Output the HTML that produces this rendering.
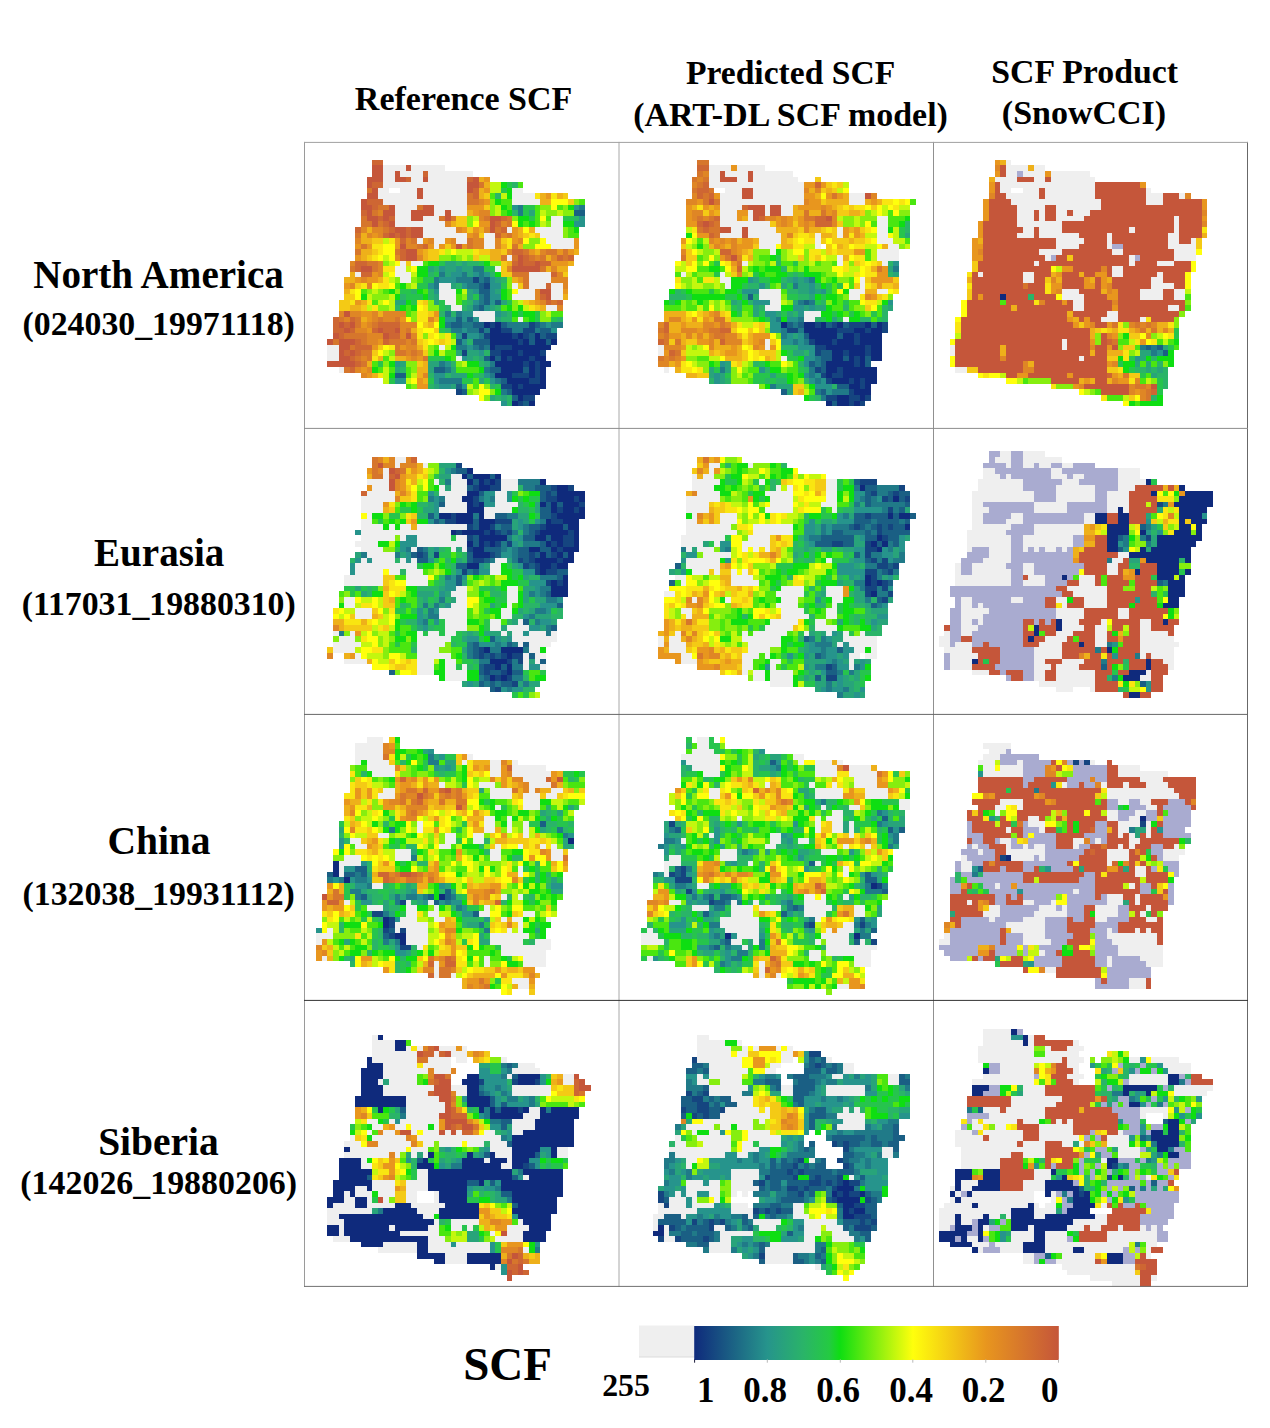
<!DOCTYPE html>
<html><head><meta charset="utf-8"><title>SCF comparison</title>
<style>html,body{margin:0;padding:0;background:#fff}svg{display:block}text{font-family:"Liberation Serif",serif;font-weight:bold;fill:#000}</style></head><body>
<svg width="1270" height="1428" viewBox="0 0 1270 1428">
<defs><linearGradient id="cb" x1="0" x2="1" y1="0" y2="0">
<stop offset="0.00" stop-color="#0f2a7c"/>
<stop offset="0.20" stop-color="#26948c"/>
<stop offset="0.30" stop-color="#2ab468"/>
<stop offset="0.37" stop-color="#24ca42"/>
<stop offset="0.40" stop-color="#0ede12"/>
<stop offset="0.60" stop-color="#ffff0c"/>
<stop offset="0.80" stop-color="#e8961e"/>
<stop offset="1.00" stop-color="#c5563a"/>
</linearGradient></defs>
<rect width="1270" height="1428" fill="#fff"/>
<g shape-rendering="crispEdges">
<g transform="translate(305.0 143.0) scale(5.6)">
<path fill="#ce6633" d="M12 3h2v1h-2zM21 5h1v1h-1zM18 6h1v1h-1zM29 6h1v1h-1zM12 7h2v1h-2zM30 8h1v1h-1zM30 9h1v1h-1zM11 10h3v1h-3zM12 11h1v1h-1zM10 12h1v1h-1zM13 13h1v1h-1zM15 13h1v1h-1zM35 13h1v1h-1zM14 14h1v1h-1zM34 14h1v1h-1zM9 15h1v1h-1zM15 15h1v1h-1zM18 15h1v1h-1zM35 15h1v1h-1zM14 16h1v1h-1zM16 16h1v1h-1zM18 16h1v1h-1zM34 16h1v1h-1zM17 17h1v1h-1zM21 18h1v1h-1zM17 19h1v1h-1zM37 19h2v1h-2zM17 20h1v1h-1zM39 20h1v1h-1zM45 20h1v1h-1zM47 20h1v1h-1zM9 21h2v1h-2zM37 21h1v1h-1zM39 21h2v1h-2zM42 21h2v1h-2zM9 22h1v1h-1zM10 23h2v1h-2zM44 23h1v1h-1zM43 25h1v1h-1zM42 27h1v1h-1zM43 28h1v1h-1zM45 28h1v1h-1zM5 31h1v1h-1zM8 31h1v1h-1zM5 32h1v1h-1zM7 32h1v1h-1zM13 32h4v1h-4zM5 33h2v1h-2zM8 33h1v1h-1zM12 33h1v1h-1zM14 33h2v1h-2zM6 34h1v1h-1zM15 34h2v1h-2zM9 35h1v1h-1zM14 35h1v1h-1zM9 36h3v1h-3zM7 37h1v1h-1zM9 37h1v1h-1zM8 38h1v1h-1zM9 39h1v1h-1zM8 40h1v1h-1z"/>
<path fill="#c5563a" d="M12 4h2v1h-2zM18 4h1v1h-1zM12 5h2v1h-2zM16 5h1v1h-1zM11 6h3v1h-3zM16 6h2v1h-2zM21 6h1v1h-1zM30 6h1v1h-1zM11 7h1v1h-1zM29 7h2v1h-2zM12 8h1v1h-1zM20 8h1v1h-1zM29 8h1v1h-1zM11 9h2v1h-2zM20 9h1v1h-1zM10 10h1v1h-1zM10 11h2v1h-2zM15 11h1v1h-1zM21 11h2v1h-2zM11 12h1v1h-1zM14 12h2v1h-2zM19 12h4v1h-4zM25 12h1v1h-1zM11 13h2v1h-2zM14 13h1v1h-1zM19 13h2v1h-2zM25 13h1v1h-1zM33 13h2v1h-2zM12 14h1v1h-1zM15 14h1v1h-1zM33 14h1v1h-1zM16 15h2v1h-2zM19 15h2v1h-2zM33 15h1v1h-1zM15 16h1v1h-1zM17 16h1v1h-1zM19 16h2v1h-2zM17 18h1v1h-1zM27 18h1v1h-1zM18 19h2v1h-2zM18 20h2v1h-2zM38 20h1v1h-1zM38 21h1v1h-1zM41 21h1v1h-1zM10 22h2v1h-2zM37 22h5v1h-5zM42 26h2v1h-2zM43 27h1v1h-1zM7 30h1v1h-1zM6 32h1v1h-1zM8 32h1v1h-1zM7 33h1v1h-1zM13 33h1v1h-1zM16 33h1v1h-1zM5 34h1v1h-1zM14 34h1v1h-1zM18 34h1v1h-1zM4 35h1v1h-1zM6 35h3v1h-3zM6 36h2v1h-2zM6 37h1v1h-1zM8 37h1v1h-1zM6 38h2v1h-2zM4 39h5v1h-5z"/>
<path fill="#efefef" d="M14 4h4v1h-4zM19 4h6v1h-6zM14 5h2v1h-2zM17 5h4v1h-4zM22 5h8v1h-8zM14 6h2v1h-2zM19 6h2v1h-2zM22 6h7v1h-7zM14 7h15v1h-15zM13 8h2v1h-2zM17 8h3v1h-3zM21 8h8v1h-8zM37 8h2v1h-2zM13 9h7v1h-7zM21 9h8v1h-8zM37 9h4v1h-4zM14 10h15v1h-15zM37 10h5v1h-5zM16 11h4v1h-4zM23 11h6v1h-6zM16 12h3v1h-3zM23 12h2v1h-2zM26 12h3v1h-3zM16 13h3v1h-3zM21 13h3v1h-3zM44 13h2v1h-2zM16 14h9v1h-9zM44 14h2v1h-2zM21 15h6v1h-6zM36 15h1v1h-1zM41 15h5v1h-5zM21 16h8v1h-8zM32 16h2v1h-2zM42 16h4v1h-4zM20 17h1v1h-1zM23 17h2v1h-2zM27 17h2v1h-2zM32 17h2v1h-2zM43 17h5v1h-5zM23 18h1v1h-1zM32 18h2v1h-2zM44 18h4v1h-4zM36 20h1v1h-1zM17 21h1v1h-1zM19 21h2v1h-2zM16 22h2v1h-2zM34 22h1v1h-1zM9 23h1v1h-1zM16 23h3v1h-3zM40 23h4v1h-4zM17 24h2v1h-2zM40 24h4v1h-4zM24 25h2v1h-2zM37 25h1v1h-1zM40 25h3v1h-3zM44 25h2v1h-2zM24 26h3v1h-3zM38 26h3v1h-3zM44 26h2v1h-2zM24 27h3v1h-3zM37 27h4v1h-4zM44 27h2v1h-2zM25 28h2v1h-2zM26 29h2v1h-2zM43 29h2v1h-2zM30 30h4v1h-4zM31 31h3v1h-3zM38 31h1v1h-1zM4 36h2v1h-2zM24 36h1v1h-1zM4 37h2v1h-2zM4 38h2v1h-2zM27 38h1v1h-1zM6 40h1v1h-1z"/>
<path fill="#eeb01a" d="M31 6h1v1h-1zM32 7h1v1h-1zM31 8h1v1h-1zM31 9h1v1h-1zM42 9h1v1h-1zM45 9h1v1h-1zM42 10h2v1h-2zM29 12h1v1h-1zM26 14h1v1h-1zM11 15h1v1h-1zM31 15h1v1h-1zM38 15h1v1h-1zM40 15h1v1h-1zM10 16h1v1h-1zM38 16h1v1h-1zM10 17h2v1h-2zM35 18h1v1h-1zM38 18h1v1h-1zM10 19h2v1h-2zM21 19h1v1h-1zM33 19h2v1h-2zM41 19h1v1h-1zM48 19h1v1h-1zM10 20h1v1h-1zM21 20h1v1h-1zM33 20h2v1h-2zM43 20h1v1h-1zM36 21h1v1h-1zM47 21h1v1h-1zM43 22h1v1h-1zM45 22h2v1h-2zM8 23h1v1h-1zM7 24h2v1h-2zM13 24h1v1h-1zM37 24h1v1h-1zM7 26h1v1h-1zM46 27h1v1h-1zM10 28h1v1h-1zM40 28h1v1h-1zM8 29h2v1h-2zM42 29h1v1h-1zM13 30h1v1h-1zM10 31h1v1h-1zM23 31h1v1h-1zM22 32h1v1h-1zM19 33h1v1h-1zM20 36h1v1h-1zM13 38h1v1h-1zM16 38h2v1h-2zM11 39h1v1h-1zM21 39h1v1h-1zM20 40h2v1h-2zM12 41h1v1h-1zM20 41h1v1h-1zM21 42h1v1h-1z"/>
<path fill="#e8961e" d="M32 6h1v1h-1zM32 8h1v1h-1zM43 9h1v1h-1zM32 10h1v1h-1zM29 11h3v1h-3zM30 12h1v1h-1zM31 14h2v1h-2zM28 15h1v1h-1zM30 15h1v1h-1zM37 15h1v1h-1zM12 16h1v1h-1zM29 16h1v1h-1zM37 16h1v1h-1zM16 17h1v1h-1zM21 17h1v1h-1zM25 17h1v1h-1zM37 17h1v1h-1zM48 17h1v1h-1zM9 18h1v1h-1zM11 18h1v1h-1zM16 18h1v1h-1zM22 18h1v1h-1zM24 18h1v1h-1zM26 18h1v1h-1zM28 18h1v1h-1zM48 18h1v1h-1zM20 19h1v1h-1zM40 19h1v1h-1zM45 19h1v1h-1zM47 19h1v1h-1zM9 20h1v1h-1zM44 21h3v1h-3zM12 23h1v1h-1zM9 24h1v1h-1zM11 24h2v1h-2zM38 24h1v1h-1zM7 25h1v1h-1zM46 26h1v1h-1zM9 28h1v1h-1zM41 28h1v1h-1zM10 30h2v1h-2zM23 30h1v1h-1zM11 31h1v1h-1zM17 31h1v1h-1zM10 32h1v1h-1zM11 33h1v1h-1zM13 35h1v1h-1zM12 36h1v1h-1zM17 36h1v1h-1zM18 38h1v1h-1zM20 38h1v1h-1zM10 40h1v1h-1zM11 41h1v1h-1zM20 42h1v1h-1zM20 43h2v1h-2z"/>
<path fill="#d6762c" d="M31 7h1v1h-1zM11 8h1v1h-1zM29 9h1v1h-1zM29 10h2v1h-2zM13 11h2v1h-2zM20 11h1v1h-1zM12 12h1v1h-1zM10 13h1v1h-1zM24 13h1v1h-1zM26 13h1v1h-1zM32 13h1v1h-1zM36 13h1v1h-1zM10 14h2v1h-2zM13 14h1v1h-1zM36 14h1v1h-1zM14 15h1v1h-1zM34 15h1v1h-1zM9 16h1v1h-1zM36 16h1v1h-1zM19 17h1v1h-1zM29 17h1v1h-1zM10 18h1v1h-1zM20 18h1v1h-1zM29 18h1v1h-1zM37 18h1v1h-1zM9 19h1v1h-1zM16 19h1v1h-1zM39 19h1v1h-1zM43 19h2v1h-2zM46 19h1v1h-1zM35 20h1v1h-1zM37 20h1v1h-1zM40 20h1v1h-1zM42 20h1v1h-1zM46 20h1v1h-1zM11 21h2v1h-2zM8 22h1v1h-1zM12 22h1v1h-1zM42 22h1v1h-1zM37 23h3v1h-3zM39 24h1v1h-1zM39 25h1v1h-1zM44 28h1v1h-1zM6 31h1v1h-1zM9 31h1v1h-1zM13 31h1v1h-1zM16 31h1v1h-1zM9 32h1v1h-1zM12 32h1v1h-1zM18 33h1v1h-1zM7 34h4v1h-4zM5 35h1v1h-1zM10 35h1v1h-1zM15 35h3v1h-3zM19 35h1v1h-1zM8 36h1v1h-1zM16 36h1v1h-1zM10 37h2v1h-2zM16 37h2v1h-2zM19 37h1v1h-1zM9 38h1v1h-1zM11 38h1v1h-1zM21 38h1v1h-1zM10 39h1v1h-1zM7 40h1v1h-1z"/>
<path fill="#c3f70e" d="M33 7h2v1h-2zM33 8h2v1h-2zM35 9h1v1h-1zM34 11h1v1h-1zM34 12h1v1h-1zM42 12h1v1h-1zM45 12h1v1h-1zM30 13h1v1h-1zM42 14h1v1h-1zM14 17h1v1h-1zM25 19h1v1h-1zM27 19h3v1h-3zM14 20h1v1h-1zM28 20h1v1h-1zM31 20h2v1h-2zM15 21h1v1h-1zM18 22h1v1h-1zM14 23h1v1h-1zM19 23h1v1h-1zM15 24h1v1h-1zM19 25h1v1h-1zM12 26h1v1h-1zM28 26h1v1h-1zM11 27h1v1h-1zM15 27h1v1h-1zM13 28h1v1h-1zM15 28h1v1h-1zM38 28h1v1h-1zM11 29h1v1h-1zM15 29h1v1h-1zM39 29h1v1h-1zM43 30h1v1h-1zM24 34h1v1h-1zM26 35h1v1h-1zM25 36h1v1h-1zM14 37h1v1h-1zM24 37h1v1h-1zM15 38h1v1h-1zM28 39h1v1h-1zM14 40h1v1h-1zM14 41h1v1h-1zM19 41h1v1h-1zM14 42h1v1h-1zM18 42h1v1h-1zM29 43h1v1h-1zM30 44h1v1h-1z"/>
<path fill="#0ede12" d="M35 7h1v1h-1zM36 8h1v1h-1zM36 9h1v1h-1zM34 10h1v1h-1zM35 11h1v1h-1zM47 11h1v1h-1zM36 12h1v1h-1zM38 13h2v1h-2zM38 14h1v1h-1zM40 14h1v1h-1zM46 14h2v1h-2zM48 15h1v1h-1zM22 21h2v1h-2zM32 21h1v1h-1zM20 22h2v1h-2zM20 23h2v1h-2zM34 23h1v1h-1zM17 25h1v1h-1zM15 26h1v1h-1zM20 26h1v1h-1zM27 26h1v1h-1zM35 26h1v1h-1zM10 27h1v1h-1zM16 27h1v1h-1zM21 27h1v1h-1zM35 27h1v1h-1zM18 28h1v1h-1zM17 29h1v1h-1zM19 29h1v1h-1zM36 29h1v1h-1zM38 29h1v1h-1zM37 30h1v1h-1zM39 30h2v1h-2zM24 31h1v1h-1zM40 31h1v1h-1zM24 32h1v1h-1zM26 36h1v1h-1zM23 37h1v1h-1zM25 38h1v1h-1zM15 39h1v1h-1zM29 39h2v1h-2zM12 40h1v1h-1zM31 40h1v1h-1zM15 41h1v1h-1zM29 41h1v1h-1zM34 44h1v1h-1z"/>
<path fill="#26c44d" d="M36 7h1v1h-1zM35 8h1v1h-1zM39 11h2v1h-2zM39 12h1v1h-1zM40 13h1v1h-1zM46 13h2v1h-2zM24 21h1v1h-1zM31 21h1v1h-1zM32 22h2v1h-2zM23 23h1v1h-1zM21 24h2v1h-2zM20 25h2v1h-2zM35 25h1v1h-1zM17 26h2v1h-2zM18 27h3v1h-3zM30 27h1v1h-1zM19 28h1v1h-1zM24 28h1v1h-1zM28 28h1v1h-1zM36 28h1v1h-1zM24 29h1v1h-1zM38 30h1v1h-1zM41 30h1v1h-1zM41 31h1v1h-1zM44 31h1v1h-1zM24 33h1v1h-1zM22 38h3v1h-3zM13 39h1v1h-1zM30 41h1v1h-1zM15 42h1v1h-1zM22 42h1v1h-1zM28 42h2v1h-2zM32 42h1v1h-1zM34 43h1v1h-1z"/>
<path fill="#2ab468" d="M37 7h1v1h-1zM34 9h1v1h-1zM37 12h1v1h-1zM48 13h1v1h-1zM27 21h1v1h-1zM29 21h2v1h-2zM23 22h1v1h-1zM22 23h1v1h-1zM33 23h1v1h-1zM35 24h1v1h-1zM27 25h1v1h-1zM19 26h1v1h-1zM22 26h1v1h-1zM17 27h1v1h-1zM22 27h1v1h-1zM29 28h1v1h-1zM16 29h1v1h-1zM25 29h1v1h-1zM28 29h1v1h-1zM34 29h1v1h-1zM24 30h1v1h-1zM26 30h1v1h-1zM36 30h1v1h-1zM35 31h2v1h-2zM45 31h1v1h-1zM25 33h1v1h-1zM29 35h1v1h-1zM32 37h1v1h-1zM30 38h1v1h-1zM26 39h1v1h-1zM31 39h1v1h-1zM17 40h1v1h-1zM22 41h1v1h-1zM25 41h1v1h-1zM31 41h1v1h-1zM22 43h1v1h-1zM33 43h1v1h-1zM34 45h1v1h-1zM36 45h1v1h-1zM36 46h1v1h-1z"/>
<path fill="#4ae610" d="M38 7h1v1h-1zM33 9h1v1h-1zM35 10h2v1h-2zM49 10h1v1h-1zM36 11h1v1h-1zM41 11h1v1h-1zM45 11h1v1h-1zM35 12h1v1h-1zM41 12h1v1h-1zM41 13h1v1h-1zM43 13h1v1h-1zM39 14h1v1h-1zM41 14h1v1h-1zM47 15h1v1h-1zM47 16h2v1h-2zM26 20h1v1h-1zM21 21h1v1h-1zM20 24h1v1h-1zM16 25h1v1h-1zM10 26h1v1h-1zM14 26h1v1h-1zM21 26h1v1h-1zM36 26h1v1h-1zM27 27h1v1h-1zM36 27h1v1h-1zM12 28h1v1h-1zM27 28h1v1h-1zM18 29h1v1h-1zM35 29h1v1h-1zM18 30h1v1h-1zM44 30h2v1h-2zM37 31h1v1h-1zM39 31h1v1h-1zM26 34h1v1h-1zM23 36h1v1h-1zM25 37h2v1h-2zM14 38h1v1h-1zM26 38h1v1h-1zM12 39h1v1h-1zM13 40h1v1h-1zM15 40h1v1h-1zM18 40h1v1h-1zM27 40h4v1h-4zM18 41h1v1h-1zM30 42h1v1h-1zM18 43h1v1h-1zM30 43h1v1h-1z"/>
<path fill="#f4ca15" d="M32 9h1v1h-1zM46 9h1v1h-1zM47 10h1v1h-1zM32 11h1v1h-1zM27 13h2v1h-2zM27 14h2v1h-2zM29 15h1v1h-1zM31 16h1v1h-1zM39 16h1v1h-1zM41 16h1v1h-1zM12 17h2v1h-2zM35 17h1v1h-1zM25 18h1v1h-1zM12 19h1v1h-1zM22 19h2v1h-2zM31 19h2v1h-2zM35 19h1v1h-1zM11 20h1v1h-1zM22 20h2v1h-2zM30 20h1v1h-1zM18 21h1v1h-1zM35 21h1v1h-1zM35 22h1v1h-1zM35 23h2v1h-2zM46 23h1v1h-1zM9 25h1v1h-1zM38 25h1v1h-1zM7 27h2v1h-2zM6 28h2v1h-2zM21 28h1v1h-1zM39 28h1v1h-1zM6 29h2v1h-2zM10 29h1v1h-1zM41 29h1v1h-1zM22 30h1v1h-1zM21 32h1v1h-1zM23 33h1v1h-1zM20 35h1v1h-1zM24 35h1v1h-1zM13 36h1v1h-1zM12 37h1v1h-1zM21 37h1v1h-1zM20 39h1v1h-1z"/>
<path fill="#f9e511" d="M41 9h1v1h-1zM44 9h1v1h-1zM40 16h1v1h-1zM15 17h1v1h-1zM36 17h1v1h-1zM12 18h2v1h-2zM36 18h1v1h-1zM13 19h1v1h-1zM24 19h1v1h-1zM30 19h1v1h-1zM12 20h1v1h-1zM14 22h2v1h-2zM14 24h1v1h-1zM10 25h1v1h-1zM13 25h2v1h-2zM8 26h1v1h-1zM8 28h1v1h-1zM11 28h1v1h-1zM20 28h1v1h-1zM12 29h1v1h-1zM21 29h1v1h-1zM40 29h1v1h-1zM20 30h2v1h-2zM20 31h2v1h-2zM20 33h1v1h-1zM20 34h1v1h-1zM22 34h1v1h-1zM25 34h1v1h-1zM21 35h1v1h-1zM23 35h1v1h-1zM25 35h1v1h-1zM15 36h1v1h-1zM21 36h1v1h-1zM12 38h1v1h-1zM13 41h1v1h-1z"/>
<path fill="#df8625" d="M31 10h1v1h-1zM13 12h1v1h-1zM31 12h2v1h-2zM31 13h1v1h-1zM25 14h1v1h-1zM35 14h1v1h-1zM10 15h1v1h-1zM12 15h2v1h-2zM27 15h1v1h-1zM32 15h1v1h-1zM11 16h1v1h-1zM13 16h1v1h-1zM30 16h1v1h-1zM35 16h1v1h-1zM9 17h1v1h-1zM18 17h1v1h-1zM22 17h1v1h-1zM26 17h1v1h-1zM30 17h2v1h-2zM34 17h1v1h-1zM38 17h1v1h-1zM18 18h2v1h-2zM30 18h2v1h-2zM34 18h1v1h-1zM36 19h1v1h-1zM42 19h1v1h-1zM16 20h1v1h-1zM20 20h1v1h-1zM41 20h1v1h-1zM44 20h1v1h-1zM8 21h1v1h-1zM13 21h1v1h-1zM13 22h1v1h-1zM36 22h1v1h-1zM44 22h1v1h-1zM13 23h1v1h-1zM45 23h1v1h-1zM10 24h1v1h-1zM44 24h3v1h-3zM8 25h1v1h-1zM11 25h1v1h-1zM46 25h1v1h-1zM41 26h1v1h-1zM41 27h1v1h-1zM42 28h1v1h-1zM45 29h1v1h-1zM6 30h1v1h-1zM8 30h2v1h-2zM12 30h1v1h-1zM14 30h4v1h-4zM7 31h1v1h-1zM12 31h1v1h-1zM14 31h2v1h-2zM22 31h1v1h-1zM11 32h1v1h-1zM17 32h3v1h-3zM9 33h2v1h-2zM17 33h1v1h-1zM11 34h3v1h-3zM17 34h1v1h-1zM19 34h1v1h-1zM11 35h2v1h-2zM18 35h1v1h-1zM18 36h2v1h-2zM18 37h1v1h-1zM20 37h1v1h-1zM10 38h1v1h-1zM19 38h1v1h-1zM9 40h1v1h-1zM11 40h1v1h-1zM10 41h1v1h-1zM21 41h1v1h-1z"/>
<path fill="#86ee0f" d="M33 10h1v1h-1zM48 10h1v1h-1zM33 11h1v1h-1zM42 11h2v1h-2zM46 11h1v1h-1zM33 12h1v1h-1zM43 12h2v1h-2zM46 12h2v1h-2zM29 13h1v1h-1zM37 13h1v1h-1zM29 14h1v1h-1zM43 14h1v1h-1zM46 15h1v1h-1zM46 16h1v1h-1zM40 17h2v1h-2zM39 18h2v1h-2zM24 20h2v1h-2zM27 20h1v1h-1zM29 20h1v1h-1zM14 21h1v1h-1zM33 21h2v1h-2zM16 24h1v1h-1zM19 24h1v1h-1zM36 24h1v1h-1zM18 25h1v1h-1zM36 25h1v1h-1zM11 26h1v1h-1zM13 26h1v1h-1zM16 26h1v1h-1zM12 27h3v1h-3zM28 27h1v1h-1zM22 28h1v1h-1zM37 28h1v1h-1zM13 29h2v1h-2zM22 29h2v1h-2zM37 29h1v1h-1zM19 30h1v1h-1zM42 30h1v1h-1zM19 31h1v1h-1zM42 31h2v1h-2zM21 34h1v1h-1zM22 36h1v1h-1zM15 37h1v1h-1zM22 37h1v1h-1zM14 39h1v1h-1zM18 39h2v1h-2zM27 39h1v1h-1zM19 40h1v1h-1zM19 43h1v1h-1zM32 43h1v1h-1zM29 44h1v1h-1zM33 44h1v1h-1zM32 45h1v1h-1z"/>
<path fill="#ffff0c" d="M44 10h3v1h-3zM44 11h1v1h-1zM42 13h1v1h-1zM30 14h1v1h-1zM37 14h1v1h-1zM39 15h1v1h-1zM39 17h1v1h-1zM42 17h1v1h-1zM14 18h2v1h-2zM41 18h3v1h-3zM14 19h2v1h-2zM26 19h1v1h-1zM13 20h1v1h-1zM15 20h1v1h-1zM16 21h1v1h-1zM19 22h1v1h-1zM15 23h1v1h-1zM12 25h1v1h-1zM15 25h1v1h-1zM9 26h1v1h-1zM37 26h1v1h-1zM9 27h1v1h-1zM14 28h1v1h-1zM20 29h1v1h-1zM18 31h1v1h-1zM20 32h1v1h-1zM23 32h1v1h-1zM21 33h2v1h-2zM23 34h1v1h-1zM22 35h1v1h-1zM14 36h1v1h-1zM13 37h1v1h-1zM19 42h1v1h-1zM31 43h1v1h-1zM31 44h2v1h-2zM31 45h1v1h-1z"/>
<path fill="#26948c" d="M37 11h1v1h-1zM48 11h1v1h-1zM49 13h1v1h-1zM48 14h2v1h-2zM24 22h1v1h-1zM27 22h1v1h-1zM26 23h2v1h-2zM30 23h1v1h-1zM32 23h1v1h-1zM24 24h3v1h-3zM33 24h1v1h-1zM22 25h1v1h-1zM28 25h1v1h-1zM33 25h2v1h-2zM23 26h1v1h-1zM30 26h1v1h-1zM33 26h1v1h-1zM33 27h2v1h-2zM30 28h1v1h-1zM33 28h1v1h-1zM32 29h1v1h-1zM28 30h2v1h-2zM34 30h1v1h-1zM25 31h2v1h-2zM28 31h1v1h-1zM30 31h1v1h-1zM43 32h1v1h-1zM28 33h1v1h-1zM44 33h1v1h-1zM27 34h1v1h-1zM29 34h2v1h-2zM28 35h1v1h-1zM29 36h1v1h-1zM31 37h1v1h-1zM28 38h1v1h-1zM16 39h1v1h-1zM25 39h1v1h-1zM23 41h2v1h-2zM32 41h1v1h-1zM16 42h2v1h-2zM23 42h1v1h-1zM33 42h1v1h-1zM24 43h2v1h-2zM28 43h1v1h-1zM35 46h1v1h-1z"/>
<path fill="#207a88" d="M38 11h1v1h-1zM49 11h1v1h-1zM38 12h1v1h-1zM30 22h2v1h-2zM24 23h1v1h-1zM28 23h1v1h-1zM31 23h1v1h-1zM23 24h1v1h-1zM27 24h3v1h-3zM31 24h1v1h-1zM23 25h1v1h-1zM29 25h2v1h-2zM31 27h1v1h-1zM31 28h1v1h-1zM30 29h1v1h-1zM25 30h1v1h-1zM27 30h1v1h-1zM25 32h1v1h-1zM28 32h2v1h-2zM36 32h4v1h-4zM42 32h1v1h-1zM44 32h2v1h-2zM26 33h2v1h-2zM29 33h2v1h-2zM32 33h1v1h-1zM37 33h2v1h-2zM41 33h1v1h-1zM31 34h1v1h-1zM27 36h2v1h-2zM30 36h1v1h-1zM32 36h1v1h-1zM24 39h1v1h-1zM33 39h1v1h-1zM25 40h1v1h-1zM32 40h1v1h-1zM33 41h1v1h-1zM24 42h4v1h-4zM34 42h1v1h-1zM35 44h1v1h-1z"/>
<path fill="#28a47a" d="M40 12h1v1h-1zM25 21h2v1h-2zM28 21h1v1h-1zM22 22h1v1h-1zM25 22h2v1h-2zM28 22h2v1h-2zM25 23h1v1h-1zM29 23h1v1h-1zM34 24h1v1h-1zM26 25h1v1h-1zM29 26h1v1h-1zM34 26h1v1h-1zM23 27h1v1h-1zM29 27h1v1h-1zM16 28h2v1h-2zM23 28h1v1h-1zM35 28h1v1h-1zM29 29h1v1h-1zM33 29h1v1h-1zM35 30h1v1h-1zM34 31h1v1h-1zM27 37h1v1h-1zM29 37h2v1h-2zM29 38h1v1h-1zM31 38h1v1h-1zM17 39h1v1h-1zM22 39h2v1h-2zM32 39h1v1h-1zM16 40h1v1h-1zM22 40h1v1h-1zM26 40h1v1h-1zM26 41h3v1h-3zM31 42h1v1h-1zM23 43h1v1h-1zM26 43h1v1h-1zM33 45h1v1h-1zM35 45h1v1h-1z"/>
<path fill="#1a5f84" d="M48 12h2v1h-2zM32 24h1v1h-1zM31 25h1v1h-1zM31 26h2v1h-2zM32 27h1v1h-1zM32 28h1v1h-1zM34 28h1v1h-1zM31 29h1v1h-1zM27 31h1v1h-1zM29 31h1v1h-1zM26 32h2v1h-2zM30 32h2v1h-2zM35 32h1v1h-1zM41 32h1v1h-1zM42 33h2v1h-2zM40 34h1v1h-1zM42 34h1v1h-1zM27 35h1v1h-1zM30 35h3v1h-3zM40 35h1v1h-1zM43 35h1v1h-1zM31 36h1v1h-1zM32 38h1v1h-1zM34 38h1v1h-1zM23 40h2v1h-2zM33 40h2v1h-2zM39 40h1v1h-1zM16 41h2v1h-2zM35 42h1v1h-1zM27 43h1v1h-1zM28 44h1v1h-1zM36 44h1v1h-1zM37 45h1v1h-1zM39 46h1v1h-1z"/>
<path fill="#154580" d="M30 24h1v1h-1zM32 25h1v1h-1zM33 32h1v1h-1zM40 32h1v1h-1zM31 33h1v1h-1zM35 33h2v1h-2zM39 33h2v1h-2zM28 34h1v1h-1zM32 34h1v1h-1zM37 34h1v1h-1zM39 34h1v1h-1zM43 34h2v1h-2zM38 35h1v1h-1zM34 36h3v1h-3zM28 37h1v1h-1zM33 37h2v1h-2zM38 37h1v1h-1zM42 37h1v1h-1zM36 38h1v1h-1zM40 38h1v1h-1zM39 39h1v1h-1zM41 39h1v1h-1zM41 40h1v1h-1zM37 41h3v1h-3zM41 41h1v1h-1zM40 42h2v1h-2zM35 43h2v1h-2zM38 43h1v1h-1zM27 44h1v1h-1zM39 45h2v1h-2zM38 46h1v1h-1z"/>
<path fill="#0f2a7c" d="M32 32h1v1h-1zM34 32h1v1h-1zM33 33h2v1h-2zM33 34h4v1h-4zM38 34h1v1h-1zM41 34h1v1h-1zM33 35h5v1h-5zM39 35h1v1h-1zM41 35h2v1h-2zM44 35h1v1h-1zM33 36h1v1h-1zM37 36h7v1h-7zM35 37h3v1h-3zM39 37h3v1h-3zM33 38h1v1h-1zM35 38h1v1h-1zM37 38h3v1h-3zM41 38h2v1h-2zM34 39h5v1h-5zM40 39h1v1h-1zM42 39h2v1h-2zM35 40h4v1h-4zM40 40h1v1h-1zM42 40h1v1h-1zM34 41h3v1h-3zM40 41h1v1h-1zM42 41h1v1h-1zM36 42h4v1h-4zM42 42h1v1h-1zM37 43h1v1h-1zM39 43h4v1h-4zM37 44h5v1h-5zM38 45h1v1h-1zM37 46h1v1h-1zM40 46h1v1h-1z"/>
</g>
<g transform="translate(619.0 143.0) scale(5.6)">
<path fill="#d6762c" d="M14 3h2v1h-2zM14 5h1v1h-1zM13 6h1v1h-1zM15 6h1v1h-1zM14 7h1v1h-1zM13 8h1v1h-1zM16 8h1v1h-1zM15 9h1v1h-1zM38 9h1v1h-1zM15 10h1v1h-1zM17 10h1v1h-1zM33 12h1v1h-1zM36 12h1v1h-1zM14 13h1v1h-1zM16 13h1v1h-1zM33 13h2v1h-2zM17 14h1v1h-1zM14 15h1v1h-1zM16 15h2v1h-2zM17 16h1v1h-1zM11 20h1v1h-1zM19 20h1v1h-1zM21 21h1v1h-1zM46 22h1v1h-1zM17 31h2v1h-2zM18 32h1v1h-1zM7 33h1v1h-1zM16 33h2v1h-2zM8 34h1v1h-1zM17 34h2v1h-2zM8 35h1v1h-1zM10 35h1v1h-1zM10 37h1v1h-1zM7 38h1v1h-1zM9 38h1v1h-1z"/>
<path fill="#ce6633" d="M14 4h2v1h-2zM15 7h1v1h-1zM35 7h1v1h-1zM14 8h2v1h-2zM14 9h1v1h-1zM16 9h1v1h-1zM22 11h1v1h-1zM17 13h1v1h-1zM25 13h1v1h-1zM35 13h2v1h-2zM14 14h1v1h-1zM16 14h1v1h-1zM35 14h3v1h-3zM15 15h1v1h-1zM16 16h1v1h-1zM18 19h2v1h-2zM21 22h1v1h-1zM8 32h1v1h-1zM8 33h1v1h-1zM18 33h2v1h-2zM7 35h1v1h-1zM18 35h1v1h-1zM9 37h1v1h-1z"/>
<path fill="#efefef" d="M16 4h4v1h-4zM21 4h5v1h-5zM16 5h2v1h-2zM19 5h4v1h-4zM24 5h7v1h-7zM16 6h2v1h-2zM21 6h2v1h-2zM24 6h8v1h-8zM16 7h17v1h-17zM19 8h3v1h-3zM24 8h9v1h-9zM18 9h4v1h-4zM24 9h9v1h-9zM41 9h3v1h-3zM18 10h15v1h-15zM41 10h3v1h-3zM18 11h4v1h-4zM26 11h1v1h-1zM29 11h2v1h-2zM18 12h3v1h-3zM23 12h1v1h-1zM26 12h1v1h-1zM29 12h2v1h-2zM18 13h3v1h-3zM23 13h1v1h-1zM46 13h2v1h-2zM18 14h9v1h-9zM46 14h2v1h-2zM20 15h2v1h-2zM23 15h5v1h-5zM39 15h1v1h-1zM46 15h2v1h-2zM18 16h4v1h-4zM23 16h6v1h-6zM35 16h1v1h-1zM39 16h1v1h-1zM46 16h2v1h-2zM25 17h4v1h-4zM35 17h1v1h-1zM46 17h3v1h-3zM25 18h3v1h-3zM35 18h1v1h-1zM48 18h2v1h-2zM27 19h1v1h-1zM46 19h4v1h-4zM39 20h1v1h-1zM46 20h4v1h-4zM22 21h1v1h-1zM39 21h1v1h-1zM47 21h1v1h-1zM11 23h1v1h-1zM18 23h1v1h-1zM18 24h2v1h-2zM43 24h1v1h-1zM19 25h1v1h-1zM43 25h1v1h-1zM25 26h4v1h-4zM41 26h3v1h-3zM46 26h2v1h-2zM25 27h4v1h-4zM41 27h2v1h-2zM27 28h2v1h-2zM26 29h3v1h-3zM33 30h3v1h-3zM33 31h2v1h-2zM40 31h1v1h-1zM26 35h1v1h-1zM7 36h1v1h-1zM26 36h1v1h-1zM7 37h1v1h-1zM29 38h1v1h-1zM8 40h1v1h-1z"/>
<path fill="#e8961e" d="M20 4h1v1h-1zM33 7h2v1h-2zM36 7h1v1h-1zM17 9h1v1h-1zM33 9h2v1h-2zM37 9h1v1h-1zM39 9h1v1h-1zM14 10h1v1h-1zM34 10h2v1h-2zM45 10h1v1h-1zM12 11h1v1h-1zM15 11h1v1h-1zM17 11h1v1h-1zM32 11h4v1h-4zM37 11h1v1h-1zM12 12h1v1h-1zM16 12h1v1h-1zM21 12h2v1h-2zM37 12h1v1h-1zM12 13h1v1h-1zM21 13h1v1h-1zM28 13h1v1h-1zM30 13h1v1h-1zM32 13h1v1h-1zM12 14h2v1h-2zM28 14h1v1h-1zM30 14h1v1h-1zM32 14h1v1h-1zM34 14h1v1h-1zM40 15h1v1h-1zM42 15h1v1h-1zM14 16h2v1h-2zM40 16h1v1h-1zM42 16h1v1h-1zM11 17h1v1h-1zM17 17h1v1h-1zM19 17h1v1h-1zM22 17h2v1h-2zM18 18h1v1h-1zM21 18h3v1h-3zM21 19h1v1h-1zM42 19h2v1h-2zM18 20h1v1h-1zM20 21h1v1h-1zM47 22h1v1h-1zM46 23h2v1h-2zM45 24h4v1h-4zM46 25h1v1h-1zM45 27h1v1h-1zM16 30h1v1h-1zM13 31h1v1h-1zM15 31h1v1h-1zM11 32h1v1h-1zM17 32h1v1h-1zM14 33h1v1h-1zM9 34h2v1h-2zM24 34h3v1h-3zM14 35h2v1h-2zM24 35h1v1h-1zM11 36h1v1h-1zM20 36h1v1h-1zM25 36h1v1h-1zM27 36h1v1h-1zM8 37h1v1h-1zM19 37h2v1h-2zM11 38h1v1h-1zM10 39h1v1h-1z"/>
<path fill="#df8625" d="M15 5h1v1h-1zM14 6h1v1h-1zM13 7h1v1h-1zM33 8h1v1h-1zM35 8h1v1h-1zM13 9h1v1h-1zM45 9h1v1h-1zM12 10h2v1h-2zM33 10h1v1h-1zM36 11h1v1h-1zM13 12h2v1h-2zM38 12h1v1h-1zM13 13h1v1h-1zM15 13h1v1h-1zM26 13h2v1h-2zM29 13h1v1h-1zM38 13h1v1h-1zM29 14h1v1h-1zM33 14h1v1h-1zM38 14h1v1h-1zM33 15h1v1h-1zM30 16h1v1h-1zM16 17h1v1h-1zM18 17h1v1h-1zM20 17h1v1h-1zM17 18h1v1h-1zM20 18h1v1h-1zM11 19h1v1h-1zM20 19h1v1h-1zM21 20h1v1h-1zM21 23h1v1h-1zM44 27h1v1h-1zM17 30h1v1h-1zM9 31h2v1h-2zM7 32h1v1h-1zM15 32h2v1h-2zM19 32h1v1h-1zM11 33h3v1h-3zM15 33h1v1h-1zM7 34h1v1h-1zM12 34h1v1h-1zM14 34h1v1h-1zM16 34h1v1h-1zM19 34h2v1h-2zM16 35h1v1h-1zM19 35h3v1h-3zM25 35h1v1h-1zM8 36h3v1h-3zM16 36h1v1h-1zM24 36h1v1h-1zM8 38h1v1h-1zM10 38h1v1h-1zM7 39h2v1h-2z"/>
<path fill="#c5563a" d="M18 5h1v1h-1zM23 5h1v1h-1zM18 6h3v1h-3zM23 6h1v1h-1zM22 8h2v1h-2zM22 9h2v1h-2zM44 9h1v1h-1zM16 10h1v1h-1zM23 11h3v1h-3zM27 11h2v1h-2zM24 12h2v1h-2zM27 12h2v1h-2zM24 13h1v1h-1zM37 13h1v1h-1zM15 14h1v1h-1zM18 15h2v1h-2zM22 15h1v1h-1zM22 16h1v1h-1zM20 20h1v1h-1z"/>
<path fill="#f4ca15" d="M35 6h1v1h-1zM37 7h1v1h-1zM39 7h1v1h-1zM36 8h1v1h-1zM38 8h1v1h-1zM36 10h1v1h-1zM39 11h1v1h-1zM41 11h1v1h-1zM45 11h1v1h-1zM15 12h1v1h-1zM39 12h2v1h-2zM43 12h1v1h-1zM27 14h1v1h-1zM31 14h1v1h-1zM39 14h1v1h-1zM32 15h1v1h-1zM36 15h1v1h-1zM38 15h1v1h-1zM43 15h1v1h-1zM31 16h1v1h-1zM34 16h1v1h-1zM38 16h1v1h-1zM30 17h1v1h-1zM36 17h1v1h-1zM38 17h3v1h-3zM42 17h2v1h-2zM11 18h1v1h-1zM24 18h1v1h-1zM37 18h1v1h-1zM40 18h1v1h-1zM12 19h1v1h-1zM23 19h1v1h-1zM37 19h1v1h-1zM39 19h3v1h-3zM12 20h2v1h-2zM32 20h1v1h-1zM35 20h1v1h-1zM12 21h1v1h-1zM42 21h1v1h-1zM46 21h1v1h-1zM20 23h1v1h-1zM44 24h1v1h-1zM49 24h1v1h-1zM42 25h1v1h-1zM45 25h1v1h-1zM47 25h2v1h-2zM46 27h1v1h-1zM44 29h1v1h-1zM14 30h1v1h-1zM18 30h1v1h-1zM12 31h1v1h-1zM19 31h1v1h-1zM25 32h1v1h-1zM20 33h1v1h-1zM23 33h1v1h-1zM25 33h1v1h-1zM9 35h1v1h-1zM12 35h2v1h-2zM22 35h1v1h-1zM27 35h1v1h-1zM11 37h1v1h-1zM17 37h1v1h-1zM22 37h1v1h-1zM25 37h3v1h-3zM22 38h1v1h-1zM27 38h1v1h-1zM21 39h1v1h-1zM14 41h2v1h-2zM31 43h2v1h-2zM31 44h1v1h-1z"/>
<path fill="#f9e511" d="M38 7h1v1h-1zM47 10h2v1h-2zM50 10h1v1h-1zM14 11h1v1h-1zM40 11h1v1h-1zM42 11h2v1h-2zM49 11h1v1h-1zM13 15h1v1h-1zM37 15h1v1h-1zM44 15h1v1h-1zM32 16h2v1h-2zM41 16h1v1h-1zM31 17h1v1h-1zM33 17h2v1h-2zM44 17h1v1h-1zM31 18h2v1h-2zM42 18h2v1h-2zM34 19h2v1h-2zM38 19h1v1h-1zM22 20h1v1h-1zM34 20h1v1h-1zM42 20h2v1h-2zM19 21h1v1h-1zM40 21h1v1h-1zM43 21h1v1h-1zM45 21h1v1h-1zM40 22h1v1h-1zM44 22h1v1h-1zM42 23h1v1h-1zM44 23h2v1h-2zM10 24h1v1h-1zM15 24h2v1h-2zM44 25h1v1h-1zM49 26h1v1h-1zM43 27h1v1h-1zM47 27h1v1h-1zM44 28h2v1h-2zM12 30h1v1h-1zM19 30h1v1h-1zM14 31h1v1h-1zM21 32h1v1h-1zM24 32h1v1h-1zM22 34h1v1h-1zM23 36h1v1h-1zM24 37h1v1h-1zM24 38h1v1h-1zM11 39h1v1h-1zM20 39h1v1h-1zM11 40h2v1h-2zM14 40h1v1h-1z"/>
<path fill="#c3f70e" d="M40 7h1v1h-1zM39 8h1v1h-1zM47 11h1v1h-1zM50 11h2v1h-2zM45 12h1v1h-1zM47 12h1v1h-1zM39 13h1v1h-1zM42 13h1v1h-1zM42 14h1v1h-1zM12 15h1v1h-1zM49 15h1v1h-1zM44 16h2v1h-2zM49 16h1v1h-1zM13 17h1v1h-1zM15 17h1v1h-1zM49 17h2v1h-2zM12 18h1v1h-1zM33 18h2v1h-2zM44 18h2v1h-2zM51 18h1v1h-1zM14 19h1v1h-1zM17 19h1v1h-1zM30 19h1v1h-1zM36 19h1v1h-1zM45 19h1v1h-1zM30 20h2v1h-2zM37 20h2v1h-2zM45 20h1v1h-1zM11 21h1v1h-1zM23 21h1v1h-1zM27 21h1v1h-1zM34 21h1v1h-1zM10 22h2v1h-2zM22 22h1v1h-1zM41 22h2v1h-2zM12 23h1v1h-1zM19 23h1v1h-1zM23 23h1v1h-1zM40 23h2v1h-2zM13 24h1v1h-1zM17 24h1v1h-1zM11 25h1v1h-1zM13 25h2v1h-2zM17 25h1v1h-1zM16 28h1v1h-1zM18 28h1v1h-1zM29 28h1v1h-1zM46 28h1v1h-1zM14 29h1v1h-1zM18 29h1v1h-1zM22 32h2v1h-2zM26 32h1v1h-1zM12 36h1v1h-1zM14 36h1v1h-1zM12 37h4v1h-4zM28 37h1v1h-1zM16 38h2v1h-2zM28 38h1v1h-1zM13 39h1v1h-1zM22 39h1v1h-1zM30 39h1v1h-1zM21 41h1v1h-1zM33 44h1v1h-1z"/>
<path fill="#eeb01a" d="M34 8h1v1h-1zM37 8h1v1h-1zM35 9h1v1h-1zM40 9h1v1h-1zM37 10h4v1h-4zM44 10h1v1h-1zM46 10h1v1h-1zM13 11h1v1h-1zM16 11h1v1h-1zM31 11h1v1h-1zM38 11h1v1h-1zM17 12h1v1h-1zM31 12h2v1h-2zM34 12h2v1h-2zM41 12h2v1h-2zM22 13h1v1h-1zM31 13h1v1h-1zM28 15h4v1h-4zM34 15h2v1h-2zM41 15h1v1h-1zM29 16h1v1h-1zM36 16h2v1h-2zM43 16h1v1h-1zM21 17h1v1h-1zM24 17h1v1h-1zM29 17h1v1h-1zM41 17h1v1h-1zM16 18h1v1h-1zM19 18h1v1h-1zM29 18h2v1h-2zM39 18h1v1h-1zM47 18h1v1h-1zM22 19h1v1h-1zM23 20h1v1h-1zM40 20h1v1h-1zM20 22h1v1h-1zM45 22h1v1h-1zM49 25h1v1h-1zM44 26h2v1h-2zM8 30h4v1h-4zM15 30h1v1h-1zM8 31h1v1h-1zM11 31h1v1h-1zM16 31h1v1h-1zM9 32h2v1h-2zM12 32h3v1h-3zM20 32h1v1h-1zM9 33h2v1h-2zM11 34h1v1h-1zM13 34h1v1h-1zM15 34h1v1h-1zM21 34h1v1h-1zM23 34h1v1h-1zM11 35h1v1h-1zM17 35h1v1h-1zM23 35h1v1h-1zM17 36h3v1h-3zM21 36h1v1h-1zM16 37h1v1h-1zM18 37h1v1h-1zM21 37h1v1h-1zM19 38h3v1h-3zM26 38h1v1h-1zM9 39h1v1h-1zM10 40h1v1h-1zM12 41h2v1h-2zM32 44h1v1h-1z"/>
<path fill="#ffff0c" d="M40 8h1v1h-1zM36 9h1v1h-1zM49 10h1v1h-1zM51 10h1v1h-1zM44 11h1v1h-1zM46 11h1v1h-1zM48 11h1v1h-1zM46 12h1v1h-1zM49 12h1v1h-1zM44 14h1v1h-1zM45 15h1v1h-1zM13 16h1v1h-1zM48 16h1v1h-1zM12 17h1v1h-1zM32 17h1v1h-1zM37 17h1v1h-1zM45 17h1v1h-1zM28 18h1v1h-1zM38 18h1v1h-1zM41 18h1v1h-1zM46 18h1v1h-1zM13 19h1v1h-1zM31 19h2v1h-2zM16 20h1v1h-1zM36 20h1v1h-1zM41 20h1v1h-1zM10 21h1v1h-1zM13 21h1v1h-1zM15 21h1v1h-1zM18 21h1v1h-1zM44 21h1v1h-1zM12 22h2v1h-2zM19 22h1v1h-1zM38 22h2v1h-2zM43 22h1v1h-1zM39 23h1v1h-1zM43 23h1v1h-1zM42 24h1v1h-1zM10 25h1v1h-1zM40 25h1v1h-1zM39 26h1v1h-1zM48 26h1v1h-1zM43 28h1v1h-1zM16 29h1v1h-1zM45 29h1v1h-1zM13 30h1v1h-1zM21 33h2v1h-2zM24 33h1v1h-1zM27 34h1v1h-1zM28 35h1v1h-1zM15 36h1v1h-1zM22 36h1v1h-1zM28 36h1v1h-1zM23 37h1v1h-1zM18 38h1v1h-1zM23 38h1v1h-1zM25 38h1v1h-1zM12 39h1v1h-1zM29 39h1v1h-1zM13 40h1v1h-1zM21 40h1v1h-1z"/>
<path fill="#4ae610" d="M52 10h1v1h-1zM48 12h1v1h-1zM48 13h3v1h-3zM45 14h1v1h-1zM48 14h2v1h-2zM14 17h1v1h-1zM51 17h1v1h-1zM44 19h1v1h-1zM14 20h1v1h-1zM25 20h2v1h-2zM44 20h1v1h-1zM16 21h1v1h-1zM26 21h1v1h-1zM29 21h2v1h-2zM35 21h1v1h-1zM38 21h1v1h-1zM14 22h2v1h-2zM18 22h1v1h-1zM23 22h1v1h-1zM25 22h1v1h-1zM31 22h1v1h-1zM10 23h1v1h-1zM13 23h1v1h-1zM26 23h2v1h-2zM36 23h1v1h-1zM14 24h1v1h-1zM37 24h1v1h-1zM41 24h1v1h-1zM27 25h1v1h-1zM38 25h1v1h-1zM41 25h1v1h-1zM13 26h3v1h-3zM17 26h1v1h-1zM29 26h1v1h-1zM38 26h1v1h-1zM39 27h1v1h-1zM12 28h1v1h-1zM15 28h1v1h-1zM19 28h1v1h-1zM39 28h1v1h-1zM41 28h2v1h-2zM8 29h3v1h-3zM12 29h2v1h-2zM15 29h1v1h-1zM22 29h2v1h-2zM38 29h2v1h-2zM41 29h1v1h-1zM46 29h1v1h-1zM23 30h1v1h-1zM40 30h1v1h-1zM43 30h1v1h-1zM46 30h1v1h-1zM24 31h1v1h-1zM45 31h1v1h-1zM14 38h2v1h-2zM17 39h1v1h-1zM27 39h2v1h-2zM31 39h1v1h-1zM23 40h2v1h-2zM30 40h2v1h-2zM22 41h1v1h-1zM31 41h1v1h-1zM23 42h1v1h-1zM31 42h1v1h-1zM34 44h1v1h-1z"/>
<path fill="#86ee0f" d="M44 12h1v1h-1zM50 12h2v1h-2zM40 13h2v1h-2zM43 13h3v1h-3zM40 14h2v1h-2zM43 14h1v1h-1zM13 18h1v1h-1zM15 18h1v1h-1zM50 18h1v1h-1zM15 19h2v1h-2zM24 19h3v1h-3zM29 19h1v1h-1zM33 19h1v1h-1zM15 20h1v1h-1zM17 20h1v1h-1zM24 20h1v1h-1zM29 20h1v1h-1zM33 20h1v1h-1zM14 21h1v1h-1zM24 21h2v1h-2zM32 21h2v1h-2zM36 21h2v1h-2zM41 21h1v1h-1zM30 22h1v1h-1zM32 22h1v1h-1zM34 22h4v1h-4zM14 23h3v1h-3zM22 23h1v1h-1zM37 23h2v1h-2zM11 24h2v1h-2zM36 24h1v1h-1zM39 24h2v1h-2zM12 25h1v1h-1zM15 25h2v1h-2zM18 25h1v1h-1zM28 25h1v1h-1zM18 26h1v1h-1zM29 27h1v1h-1zM40 27h1v1h-1zM48 27h1v1h-1zM11 28h1v1h-1zM13 28h1v1h-1zM17 28h1v1h-1zM30 28h1v1h-1zM37 28h1v1h-1zM11 29h1v1h-1zM17 29h1v1h-1zM19 29h1v1h-1zM42 29h2v1h-2zM22 30h1v1h-1zM44 30h1v1h-1zM20 31h4v1h-4zM26 33h1v1h-1zM28 34h1v1h-1zM13 36h1v1h-1zM12 38h2v1h-2zM14 39h2v1h-2zM23 39h1v1h-1zM15 40h1v1h-1zM20 40h1v1h-1zM22 40h1v1h-1zM29 40h1v1h-1zM20 41h1v1h-1zM23 41h1v1h-1zM20 42h3v1h-3zM32 42h1v1h-1zM25 43h1v1h-1zM33 43h1v1h-1z"/>
<path fill="#0ede12" d="M51 13h1v1h-1zM50 14h1v1h-1zM48 15h1v1h-1zM12 16h1v1h-1zM14 18h1v1h-1zM28 19h1v1h-1zM27 20h1v1h-1zM16 22h2v1h-2zM24 22h1v1h-1zM26 22h3v1h-3zM33 22h1v1h-1zM25 23h1v1h-1zM28 23h2v1h-2zM33 23h3v1h-3zM20 24h3v1h-3zM27 24h2v1h-2zM35 24h1v1h-1zM38 24h1v1h-1zM20 25h2v1h-2zM36 25h1v1h-1zM9 26h1v1h-1zM12 26h1v1h-1zM19 26h2v1h-2zM40 26h1v1h-1zM13 27h6v1h-6zM21 27h1v1h-1zM35 27h1v1h-1zM37 27h2v1h-2zM8 28h1v1h-1zM10 28h1v1h-1zM14 28h1v1h-1zM22 28h1v1h-1zM38 28h1v1h-1zM47 28h1v1h-1zM29 29h2v1h-2zM37 29h1v1h-1zM20 30h1v1h-1zM36 30h2v1h-2zM39 30h1v1h-1zM42 30h1v1h-1zM25 31h1v1h-1zM29 31h1v1h-1zM37 31h1v1h-1zM41 31h2v1h-2zM29 37h1v1h-1zM32 38h1v1h-1zM16 39h1v1h-1zM26 39h1v1h-1zM27 40h2v1h-2zM30 41h1v1h-1zM32 41h1v1h-1zM30 42h1v1h-1zM26 43h1v1h-1zM34 43h1v1h-1zM33 45h1v1h-1z"/>
<path fill="#2ab468" d="M51 14h1v1h-1zM51 15h1v1h-1zM28 21h1v1h-1zM48 21h1v1h-1zM29 22h1v1h-1zM31 23h1v1h-1zM48 23h1v1h-1zM29 24h1v1h-1zM23 25h2v1h-2zM26 25h1v1h-1zM35 25h1v1h-1zM10 26h1v1h-1zM30 26h2v1h-2zM9 27h3v1h-3zM22 27h1v1h-1zM24 27h1v1h-1zM32 27h2v1h-2zM21 28h1v1h-1zM23 28h1v1h-1zM36 28h1v1h-1zM21 29h1v1h-1zM25 29h1v1h-1zM40 29h1v1h-1zM47 29h1v1h-1zM31 30h1v1h-1zM47 30h1v1h-1zM35 31h1v1h-1zM43 31h2v1h-2zM47 31h1v1h-1zM29 36h3v1h-3zM33 37h1v1h-1zM24 39h1v1h-1zM32 39h1v1h-1zM26 40h1v1h-1zM33 40h1v1h-1zM16 42h1v1h-1zM19 42h1v1h-1zM26 42h1v1h-1zM28 42h2v1h-2zM33 42h1v1h-1zM38 43h1v1h-1zM35 45h1v1h-1z"/>
<path fill="#26c44d" d="M50 15h1v1h-1zM50 16h1v1h-1zM28 20h1v1h-1zM17 21h1v1h-1zM31 21h1v1h-1zM17 23h1v1h-1zM24 23h1v1h-1zM30 23h1v1h-1zM32 23h1v1h-1zM25 24h2v1h-2zM22 25h1v1h-1zM30 25h1v1h-1zM37 25h1v1h-1zM39 25h1v1h-1zM11 26h1v1h-1zM16 26h1v1h-1zM21 26h1v1h-1zM37 26h1v1h-1zM12 27h1v1h-1zM19 27h2v1h-2zM30 27h2v1h-2zM36 27h1v1h-1zM9 28h1v1h-1zM35 28h1v1h-1zM40 28h1v1h-1zM20 29h1v1h-1zM21 30h1v1h-1zM25 30h1v1h-1zM29 30h1v1h-1zM38 30h1v1h-1zM41 30h1v1h-1zM45 30h1v1h-1zM26 31h1v1h-1zM36 31h1v1h-1zM39 31h1v1h-1zM46 31h1v1h-1zM30 37h1v1h-1zM30 38h2v1h-2zM25 39h1v1h-1zM17 40h1v1h-1zM32 40h1v1h-1zM19 41h1v1h-1zM24 41h3v1h-3zM28 41h2v1h-2zM24 42h2v1h-2zM27 42h1v1h-1zM34 45h1v1h-1z"/>
<path fill="#28a47a" d="M51 16h1v1h-1zM48 22h1v1h-1zM49 23h1v1h-1zM24 24h1v1h-1zM30 24h1v1h-1zM32 24h1v1h-1zM29 25h1v1h-1zM32 25h2v1h-2zM32 26h2v1h-2zM35 26h1v1h-1zM34 27h1v1h-1zM20 28h1v1h-1zM31 28h1v1h-1zM24 29h1v1h-1zM33 29h1v1h-1zM35 29h2v1h-2zM48 29h1v1h-1zM24 30h1v1h-1zM28 30h1v1h-1zM30 30h1v1h-1zM38 31h1v1h-1zM31 34h1v1h-1zM31 37h2v1h-2zM19 39h1v1h-1zM16 40h1v1h-1zM19 40h1v1h-1zM16 41h1v1h-1zM18 41h1v1h-1zM27 41h1v1h-1zM18 42h1v1h-1zM28 43h3v1h-3zM30 44h1v1h-1z"/>
<path fill="#26948c" d="M49 21h1v1h-1zM23 24h1v1h-1zM31 24h1v1h-1zM33 24h1v1h-1zM25 25h1v1h-1zM34 25h1v1h-1zM22 26h3v1h-3zM34 26h1v1h-1zM36 26h1v1h-1zM24 28h3v1h-3zM48 28h1v1h-1zM31 29h2v1h-2zM34 29h1v1h-1zM26 30h2v1h-2zM32 30h1v1h-1zM27 31h1v1h-1zM30 31h2v1h-2zM27 32h2v1h-2zM27 33h2v1h-2zM30 34h1v1h-1zM32 34h1v1h-1zM29 35h2v1h-2zM32 35h1v1h-1zM32 36h3v1h-3zM34 37h1v1h-1zM33 38h2v1h-2zM18 39h1v1h-1zM33 39h1v1h-1zM25 40h1v1h-1zM17 41h1v1h-1zM33 41h1v1h-1zM35 41h1v1h-1zM17 42h1v1h-1zM34 42h1v1h-1zM36 42h1v1h-1zM35 43h3v1h-3zM37 44h1v1h-1z"/>
<path fill="#207a88" d="M49 22h1v1h-1zM34 24h1v1h-1zM31 25h1v1h-1zM32 28h1v1h-1zM34 28h1v1h-1zM28 31h1v1h-1zM32 31h1v1h-1zM31 32h1v1h-1zM29 33h1v1h-1zM32 33h1v1h-1zM29 34h1v1h-1zM31 35h1v1h-1zM33 35h1v1h-1zM35 38h1v1h-1zM35 39h1v1h-1zM18 40h1v1h-1zM34 40h1v1h-1zM34 41h1v1h-1zM35 42h1v1h-1zM27 43h1v1h-1zM35 44h1v1h-1zM38 44h3v1h-3zM36 45h1v1h-1z"/>
<path fill="#1a5f84" d="M23 27h1v1h-1zM33 28h1v1h-1zM30 32h1v1h-1zM32 32h1v1h-1zM37 32h1v1h-1zM40 32h1v1h-1zM45 32h1v1h-1zM33 34h1v1h-1zM39 34h1v1h-1zM36 37h2v1h-2zM36 38h2v1h-2zM40 38h1v1h-1zM44 38h1v1h-1zM34 39h1v1h-1zM36 39h1v1h-1zM44 39h1v1h-1zM36 40h1v1h-1zM39 43h2v1h-2zM29 44h1v1h-1zM36 44h1v1h-1zM38 46h1v1h-1z"/>
<path fill="#0f2a7c" d="M29 32h1v1h-1zM33 32h2v1h-2zM36 32h1v1h-1zM39 32h1v1h-1zM44 32h1v1h-1zM46 32h1v1h-1zM33 33h6v1h-6zM42 33h2v1h-2zM45 33h2v1h-2zM34 34h5v1h-5zM40 34h2v1h-2zM43 34h4v1h-4zM35 35h3v1h-3zM39 35h3v1h-3zM43 35h4v1h-4zM37 36h7v1h-7zM45 36h2v1h-2zM38 37h2v1h-2zM41 37h3v1h-3zM45 37h2v1h-2zM38 38h2v1h-2zM41 38h1v1h-1zM43 38h1v1h-1zM45 38h2v1h-2zM37 39h5v1h-5zM43 39h1v1h-1zM37 40h2v1h-2zM40 40h6v1h-6zM37 41h1v1h-1zM40 41h6v1h-6zM38 42h3v1h-3zM42 42h1v1h-1zM44 42h2v1h-2zM41 43h2v1h-2zM44 43h1v1h-1zM42 44h3v1h-3zM39 45h2v1h-2zM43 45h1v1h-1zM37 46h1v1h-1zM39 46h2v1h-2zM42 46h1v1h-1z"/>
<path fill="#154580" d="M35 32h1v1h-1zM38 32h1v1h-1zM41 32h3v1h-3zM47 32h1v1h-1zM30 33h2v1h-2zM39 33h3v1h-3zM44 33h1v1h-1zM47 33h1v1h-1zM42 34h1v1h-1zM34 35h1v1h-1zM38 35h1v1h-1zM42 35h1v1h-1zM35 36h2v1h-2zM44 36h1v1h-1zM35 37h1v1h-1zM40 37h1v1h-1zM44 37h1v1h-1zM42 38h1v1h-1zM42 39h1v1h-1zM35 40h1v1h-1zM39 40h1v1h-1zM36 41h1v1h-1zM38 41h2v1h-2zM37 42h1v1h-1zM41 42h1v1h-1zM43 42h1v1h-1zM43 43h1v1h-1zM41 44h1v1h-1zM37 45h2v1h-2zM41 45h2v1h-2zM44 45h1v1h-1zM41 46h1v1h-1zM43 46h1v1h-1z"/>
</g>
<g transform="translate(933.0 143.0) scale(5.6)">
<path fill="#e8961e" d="M11 3h1v1h-1zM11 5h1v1h-1zM20 5h1v1h-1zM10 7h1v1h-1zM37 7h1v1h-1zM10 8h1v1h-1zM9 10h1v1h-1zM48 10h1v1h-1zM9 11h1v1h-1zM48 11h1v1h-1zM9 12h1v1h-1zM9 13h1v1h-1zM48 13h1v1h-1zM8 14h1v1h-1zM8 15h1v1h-1zM8 16h1v1h-1zM7 17h1v1h-1zM7 18h2v1h-2zM7 19h1v1h-1zM7 20h2v1h-2zM23 22h2v1h-2zM22 23h1v1h-1zM29 23h2v1h-2zM27 24h1v1h-1zM30 24h1v1h-1zM21 25h2v1h-2zM27 25h2v1h-2zM30 25h1v1h-1zM21 26h1v1h-1zM32 26h1v1h-1zM8 27h1v1h-1zM31 27h2v1h-2zM23 28h1v1h-1zM32 29h1v1h-1zM24 31h1v1h-1zM27 31h1v1h-1zM25 32h1v1h-1zM27 32h1v1h-1zM31 32h1v1h-1zM36 33h1v1h-1zM32 34h1v1h-1zM28 35h1v1h-1zM37 35h1v1h-1zM31 36h1v1h-1zM31 39h1v1h-1zM15 41h2v1h-2zM24 41h1v1h-1zM32 41h1v1h-1zM27 42h1v1h-1zM33 42h2v1h-2zM25 43h1v1h-1zM36 44h1v1h-1z"/>
<path fill="#eeb01a" d="M12 3h1v1h-1zM17 4h1v1h-1zM10 6h1v1h-1zM48 16h1v1h-1zM8 17h1v1h-1zM21 23h1v1h-1zM26 23h1v1h-1zM6 24h1v1h-1zM22 24h1v1h-1zM28 24h1v1h-1zM31 24h1v1h-1zM30 26h1v1h-1zM14 29h1v1h-1zM24 30h1v1h-1zM25 31h1v1h-1zM40 32h2v1h-2zM28 33h1v1h-1zM32 33h1v1h-1zM35 33h1v1h-1zM38 33h1v1h-1zM40 33h1v1h-1zM42 33h1v1h-1zM28 34h1v1h-1zM12 36h1v1h-1zM12 37h1v1h-1zM28 37h1v1h-1zM31 37h3v1h-3zM17 39h1v1h-1zM33 41h1v1h-1zM26 42h1v1h-1zM28 42h1v1h-1zM31 42h1v1h-1z"/>
<path fill="#efefef" d="M13 3h1v1h-1zM13 4h4v1h-4zM18 4h2v1h-2zM13 5h2v1h-2zM16 5h4v1h-4zM21 5h7v1h-7zM11 6h4v1h-4zM18 6h2v1h-2zM21 6h8v1h-8zM12 7h17v1h-17zM12 8h2v1h-2zM16 8h3v1h-3zM20 8h9v1h-9zM38 8h1v1h-1zM13 9h6v1h-6zM20 9h9v1h-9zM38 9h3v1h-3zM44 9h1v1h-1zM14 10h16v1h-16zM38 10h3v1h-3zM15 11h5v1h-5zM22 11h8v1h-8zM15 12h3v1h-3zM19 12h1v1h-1zM22 12h2v1h-2zM25 12h3v1h-3zM15 13h3v1h-3zM19 13h1v1h-1zM22 13h5v1h-5zM43 13h1v1h-1zM15 14h8v1h-8zM43 14h1v1h-1zM16 15h2v1h-2zM19 15h4v1h-4zM35 15h1v1h-1zM43 15h1v1h-1zM15 16h3v1h-3zM19 16h7v1h-7zM31 16h1v1h-1zM42 16h2v1h-2zM22 17h5v1h-5zM31 17h1v1h-1zM42 17h2v1h-2zM46 17h1v1h-1zM22 18h4v1h-4zM31 18h1v1h-1zM42 18h5v1h-5zM19 19h4v1h-4zM32 19h2v1h-2zM43 19h4v1h-4zM20 20h1v1h-1zM35 20h1v1h-1zM43 20h4v1h-4zM18 21h1v1h-1zM35 21h1v1h-1zM40 21h3v1h-3zM32 22h2v1h-2zM8 23h1v1h-1zM16 23h2v1h-2zM32 23h2v1h-2zM40 23h1v1h-1zM16 24h2v1h-2zM39 24h2v1h-2zM39 25h4v1h-4zM23 26h3v1h-3zM37 26h4v1h-4zM43 26h2v1h-2zM23 27h4v1h-4zM37 27h4v1h-4zM43 27h2v1h-2zM25 28h2v1h-2zM25 29h2v1h-2zM42 29h2v1h-2zM31 30h2v1h-2zM30 31h3v1h-3zM37 31h1v1h-1zM23 35h1v1h-1zM3 36h1v1h-1zM23 36h1v1h-1zM3 37h1v1h-1zM26 38h1v1h-1zM4 40h2v1h-2z"/>
<path fill="#df8625" d="M11 4h1v1h-1zM10 9h1v1h-1zM45 9h1v1h-1zM48 12h1v1h-1zM48 14h1v1h-1zM8 19h1v1h-1zM30 22h1v1h-1zM21 24h1v1h-1zM31 25h1v1h-1zM22 26h1v1h-1zM31 26h1v1h-1zM19 28h1v1h-1zM32 28h1v1h-1zM28 32h1v1h-1zM35 32h1v1h-1zM37 32h1v1h-1zM39 32h1v1h-1zM41 33h1v1h-1zM31 34h1v1h-1zM38 34h1v1h-1zM28 36h1v1h-1zM12 38h1v1h-1zM16 39h1v1h-1zM32 39h1v1h-1zM16 40h2v1h-2zM32 42h1v1h-1zM36 42h1v1h-1zM26 43h1v1h-1zM35 43h1v1h-1zM38 43h1v1h-1zM35 44h1v1h-1zM37 44h1v1h-1zM37 45h1v1h-1z"/>
<path fill="#c5563a" d="M12 4h1v1h-1zM12 5h1v1h-1zM15 6h3v1h-3zM20 6h1v1h-1zM11 7h1v1h-1zM29 7h8v1h-8zM11 8h1v1h-1zM19 8h1v1h-1zM29 8h9v1h-9zM11 9h2v1h-2zM19 9h1v1h-1zM29 9h9v1h-9zM41 9h3v1h-3zM10 10h4v1h-4zM30 10h8v1h-8zM41 10h7v1h-7zM10 11h5v1h-5zM20 11h2v1h-2zM30 11h18v1h-18zM10 12h5v1h-5zM18 12h1v1h-1zM20 12h2v1h-2zM24 12h1v1h-1zM28 12h20v1h-20zM10 13h5v1h-5zM18 13h1v1h-1zM20 13h2v1h-2zM27 13h16v1h-16zM44 13h4v1h-4zM9 14h6v1h-6zM23 14h20v1h-20zM44 14h4v1h-4zM9 15h7v1h-7zM18 15h1v1h-1zM23 15h12v1h-12zM36 15h7v1h-7zM44 15h4v1h-4zM9 16h6v1h-6zM18 16h1v1h-1zM26 16h5v1h-5zM32 16h10v1h-10zM44 16h4v1h-4zM9 17h13v1h-13zM27 17h4v1h-4zM32 17h10v1h-10zM44 17h2v1h-2zM9 18h13v1h-13zM26 18h5v1h-5zM34 18h8v1h-8zM9 19h10v1h-10zM23 19h9v1h-9zM34 19h9v1h-9zM9 20h11v1h-11zM22 20h2v1h-2zM25 20h10v1h-10zM37 20h6v1h-6zM8 21h10v1h-10zM19 21h16v1h-16zM36 21h4v1h-4zM43 21h3v1h-3zM8 22h13v1h-13zM25 22h5v1h-5zM31 22h1v1h-1zM34 22h12v1h-12zM7 23h1v1h-1zM9 23h7v1h-7zM18 23h3v1h-3zM23 23h3v1h-3zM27 23h2v1h-2zM31 23h1v1h-1zM34 23h6v1h-6zM41 23h4v1h-4zM7 24h9v1h-9zM18 24h2v1h-2zM23 24h4v1h-4zM29 24h1v1h-1zM32 24h7v1h-7zM41 24h4v1h-4zM7 25h9v1h-9zM17 25h3v1h-3zM23 25h4v1h-4zM29 25h1v1h-1zM32 25h7v1h-7zM43 25h2v1h-2zM7 26h13v1h-13zM26 26h4v1h-4zM33 26h4v1h-4zM41 26h2v1h-2zM7 27h1v1h-1zM9 27h3v1h-3zM13 27h4v1h-4zM18 27h4v1h-4zM27 27h4v1h-4zM33 27h4v1h-4zM41 27h2v1h-2zM6 28h6v1h-6zM13 28h5v1h-5zM20 28h3v1h-3zM24 28h1v1h-1zM27 28h5v1h-5zM33 28h12v1h-12zM6 29h8v1h-8zM15 29h10v1h-10zM27 29h5v1h-5zM33 29h9v1h-9zM44 29h1v1h-1zM6 30h18v1h-18zM25 30h6v1h-6zM33 30h11v1h-11zM5 31h19v1h-19zM26 31h1v1h-1zM28 31h2v1h-2zM33 31h4v1h-4zM39 31h4v1h-4zM5 32h20v1h-20zM29 32h2v1h-2zM5 33h23v1h-23zM5 34h23v1h-23zM30 34h1v1h-1zM4 35h19v1h-19zM24 35h4v1h-4zM30 35h1v1h-1zM4 36h8v1h-8zM13 36h10v1h-10zM24 36h4v1h-4zM29 36h2v1h-2zM32 36h1v1h-1zM4 37h8v1h-8zM13 37h15v1h-15zM29 37h2v1h-2zM4 38h8v1h-8zM13 38h13v1h-13zM27 38h4v1h-4zM4 39h12v1h-12zM18 39h13v1h-13zM8 40h8v1h-8zM18 40h13v1h-13zM13 41h2v1h-2zM17 41h7v1h-7zM25 41h6v1h-6zM21 42h5v1h-5zM29 42h2v1h-2zM27 43h8v1h-8zM39 43h1v1h-1zM30 44h5v1h-5z"/>
<path fill="#a9abd0" d="M15 5h1v1h-1zM32 18h2v1h-2zM21 20h1v1h-1zM36 20h1v1h-1z"/>
<path fill="#f9e511" d="M48 15h1v1h-1zM6 23h1v1h-1zM6 25h1v1h-1zM20 25h1v1h-1zM20 26h1v1h-1zM18 28h1v1h-1zM38 31h1v1h-1zM4 32h1v1h-1zM33 32h1v1h-1zM42 32h1v1h-1zM4 33h1v1h-1zM30 33h1v1h-1zM33 33h2v1h-2zM42 34h1v1h-1zM36 35h1v1h-1zM39 35h1v1h-1zM34 37h1v1h-1zM34 38h1v1h-1zM33 40h1v1h-1zM9 41h1v1h-1zM35 42h1v1h-1zM21 43h1v1h-1zM30 45h1v1h-1z"/>
<path fill="#f4ca15" d="M47 17h1v1h-1zM47 18h1v1h-1zM24 20h1v1h-1zM7 21h1v1h-1zM7 22h1v1h-1zM20 24h1v1h-1zM6 26h1v1h-1zM6 27h1v1h-1zM26 32h1v1h-1zM29 33h1v1h-1zM31 33h1v1h-1zM35 34h2v1h-2zM34 36h2v1h-2zM31 38h2v1h-2zM6 40h2v1h-2zM31 40h2v1h-2zM35 41h2v1h-2zM35 45h1v1h-1z"/>
<path fill="#ffff0c" d="M47 19h1v1h-1zM46 21h1v1h-1zM21 22h1v1h-1zM46 22h1v1h-1zM45 23h1v1h-1zM45 24h1v1h-1zM45 25h1v1h-1zM22 27h1v1h-1zM5 28h1v1h-1zM5 29h1v1h-1zM5 30h1v1h-1zM4 31h1v1h-1zM37 34h1v1h-1zM41 34h1v1h-1zM3 35h1v1h-1zM38 35h1v1h-1zM3 38h1v1h-1zM3 39h1v1h-1zM8 41h1v1h-1zM10 41h2v1h-2zM13 42h2v1h-2zM26 44h1v1h-1zM36 45h1v1h-1zM34 46h1v1h-1z"/>
<path fill="#c3f70e" d="M22 22h1v1h-1zM45 26h1v1h-1zM4 34h1v1h-1zM40 34h1v1h-1zM35 35h1v1h-1zM41 35h1v1h-1zM36 37h1v1h-1zM12 41h1v1h-1zM15 42h1v1h-1zM38 42h1v1h-1zM27 44h1v1h-1zM34 45h1v1h-1z"/>
<path fill="#d6762c" d="M16 25h1v1h-1zM32 32h1v1h-1zM36 32h1v1h-1zM38 32h1v1h-1zM37 33h1v1h-1zM39 33h1v1h-1zM32 35h1v1h-1zM34 41h1v1h-1zM36 43h2v1h-2zM38 44h1v1h-1zM38 45h1v1h-1z"/>
<path fill="#0f2a7c" d="M12 27h1v1h-1z"/>
<path fill="#2ab468" d="M17 27h1v1h-1zM39 38h1v1h-1zM40 39h1v1h-1zM36 40h2v1h-2zM39 40h1v1h-1zM41 40h1v1h-1zM40 41h2v1h-2zM41 42h1v1h-1zM41 43h1v1h-1zM39 45h1v1h-1z"/>
<path fill="#4ae610" d="M45 27h1v1h-1zM12 28h1v1h-1zM45 29h1v1h-1zM33 35h2v1h-2zM40 35h1v1h-1zM42 35h1v1h-1zM36 36h1v1h-1zM43 36h1v1h-1zM37 39h1v1h-1zM39 39h1v1h-1zM38 41h1v1h-1zM16 42h1v1h-1zM37 42h1v1h-1zM29 44h1v1h-1zM31 45h3v1h-3zM36 46h1v1h-1z"/>
<path fill="#86ee0f" d="M45 28h1v1h-1zM44 30h1v1h-1zM43 31h1v1h-1zM34 32h1v1h-1zM43 32h1v1h-1zM29 34h1v1h-1zM33 34h1v1h-1zM39 34h1v1h-1zM29 35h1v1h-1zM33 36h1v1h-1zM35 37h1v1h-1zM41 39h1v1h-1zM17 42h4v1h-4zM39 42h1v1h-1zM22 43h3v1h-3zM28 44h1v1h-1z"/>
<path fill="#26c44d" d="M43 33h1v1h-1zM43 34h1v1h-1zM42 36h1v1h-1zM35 38h1v1h-1zM33 39h1v1h-1zM35 40h1v1h-1zM37 41h1v1h-1zM40 42h1v1h-1zM40 43h1v1h-1zM40 44h1v1h-1z"/>
<path fill="#0ede12" d="M34 34h1v1h-1zM43 35h1v1h-1zM42 37h1v1h-1zM33 38h1v1h-1zM38 38h1v1h-1zM40 38h3v1h-3zM34 39h2v1h-2zM42 39h1v1h-1zM34 40h1v1h-1zM40 45h1v1h-1zM35 46h1v1h-1zM37 46h4v1h-4z"/>
<path fill="#ce6633" d="M31 35h1v1h-1zM31 41h1v1h-1zM39 44h1v1h-1z"/>
<path fill="#207a88" d="M37 36h1v1h-1zM39 36h1v1h-1zM39 37h1v1h-1z"/>
<path fill="#1a5f84" d="M38 36h1v1h-1zM40 36h1v1h-1zM41 37h1v1h-1z"/>
<path fill="#28a47a" d="M41 36h1v1h-1zM37 37h2v1h-2zM37 38h1v1h-1zM36 39h1v1h-1zM38 39h1v1h-1zM38 40h1v1h-1zM40 40h1v1h-1zM39 41h1v1h-1z"/>
<path fill="#26948c" d="M40 37h1v1h-1zM36 38h1v1h-1z"/>
</g>
<g transform="translate(305.0 429.0) scale(5.6)">
<path fill="#d6762c" d="M12 5h1v1h-1zM12 6h1v1h-1zM12 7h1v1h-1zM17 7h1v1h-1zM12 8h2v1h-2z"/>
<path fill="#df8625" d="M13 5h1v1h-1zM15 5h1v1h-1zM18 5h1v1h-1zM14 6h2v1h-2zM17 6h3v1h-3zM13 7h1v1h-1zM16 9h1v1h-1zM16 10h1v1h-1zM17 11h1v1h-1zM16 12h1v1h-1zM5 35h1v1h-1zM4 40h1v1h-1z"/>
<path fill="#eeb01a" d="M14 5h1v1h-1zM20 6h1v1h-1zM20 7h1v1h-1zM11 8h1v1h-1zM18 8h2v1h-2zM19 9h1v1h-1zM16 11h1v1h-1zM18 11h1v1h-1zM14 14h1v1h-1zM19 17h1v1h-1zM14 28h1v1h-1zM15 30h1v1h-1zM12 33h1v1h-1zM5 34h2v1h-2zM10 34h1v1h-1zM6 35h1v1h-1zM7 40h1v1h-1zM11 41h1v1h-1z"/>
<path fill="#efefef" d="M16 5h2v1h-2zM16 6h1v1h-1zM21 6h1v1h-1zM14 7h1v1h-1zM14 8h1v1h-1zM26 8h2v1h-2zM11 9h4v1h-4zM23 9h1v1h-1zM26 9h3v1h-3zM35 9h3v1h-3zM12 10h3v1h-3zM24 10h1v1h-1zM26 10h3v1h-3zM35 10h3v1h-3zM11 11h5v1h-5zM24 11h5v1h-5zM34 11h2v1h-2zM10 12h6v1h-6zM25 12h3v1h-3zM34 12h2v1h-2zM10 13h4v1h-4zM25 13h4v1h-4zM34 13h4v1h-4zM10 14h4v1h-4zM24 14h5v1h-5zM32 14h5v1h-5zM11 15h1v1h-1zM32 15h2v1h-2zM10 16h2v1h-2zM10 17h4v1h-4zM15 17h1v1h-1zM17 17h2v1h-2zM20 17h9v1h-9zM10 18h16v1h-16zM10 19h6v1h-6zM17 19h1v1h-1zM20 19h6v1h-6zM27 19h2v1h-2zM9 20h4v1h-4zM20 20h9v1h-9zM10 21h4v1h-4zM19 21h1v1h-1zM26 21h1v1h-1zM28 21h1v1h-1zM11 22h5v1h-5zM10 23h1v1h-1zM12 23h4v1h-4zM17 23h1v1h-1zM19 23h1v1h-1zM34 23h2v1h-2zM9 24h11v1h-11zM33 24h2v1h-2zM9 25h5v1h-5zM15 25h2v1h-2zM18 25h3v1h-3zM33 25h2v1h-2zM7 26h7v1h-7zM18 26h4v1h-4zM7 27h7v1h-7zM18 27h4v1h-4zM27 28h2v1h-2zM36 28h2v1h-2zM26 29h3v1h-3zM36 29h2v1h-2zM7 30h2v1h-2zM27 30h2v1h-2zM36 30h2v1h-2zM7 31h2v1h-2zM26 31h3v1h-3zM36 31h1v1h-1zM9 32h3v1h-3zM24 32h5v1h-5zM35 32h2v1h-2zM9 33h3v1h-3zM24 33h5v1h-5zM35 33h2v1h-2zM25 34h4v1h-4zM33 34h2v1h-2zM38 34h1v1h-1zM25 35h4v1h-4zM33 35h2v1h-2zM36 35h4v1h-4zM5 36h1v1h-1zM8 36h1v1h-1zM20 36h1v1h-1zM22 36h2v1h-2zM25 36h2v1h-2zM35 36h1v1h-1zM37 36h2v1h-2zM40 36h3v1h-3zM44 36h1v1h-1zM6 37h3v1h-3zM20 37h6v1h-6zM37 37h8v1h-8zM5 38h5v1h-5zM20 38h5v1h-5zM38 38h1v1h-1zM40 38h4v1h-4zM5 39h4v1h-4zM20 39h4v1h-4zM40 39h2v1h-2zM9 40h1v1h-1zM20 40h6v1h-6zM39 40h1v1h-1zM41 40h2v1h-2zM7 41h4v1h-4zM20 41h3v1h-3zM25 41h2v1h-2zM39 41h1v1h-1zM41 41h1v1h-1zM20 42h3v1h-3zM25 42h2v1h-2zM28 42h1v1h-1zM39 42h1v1h-1zM42 42h1v1h-1zM20 43h3v1h-3zM25 43h4v1h-4zM25 44h4v1h-4z"/>
<path fill="#ce6633" d="M19 5h1v1h-1zM16 7h1v1h-1zM15 8h1v1h-1zM10 11h1v1h-1z"/>
<path fill="#c5563a" d="M13 6h1v1h-1zM15 7h1v1h-1zM16 8h1v1h-1zM15 9h1v1h-1zM15 10h1v1h-1z"/>
<path fill="#86ee0f" d="M22 6h2v1h-2zM23 7h1v1h-1zM22 8h1v1h-1zM20 10h1v1h-1zM38 11h1v1h-1zM21 12h1v1h-1zM16 13h1v1h-1zM14 15h1v1h-1zM17 15h1v1h-1zM16 19h1v1h-1zM14 21h2v1h-2zM23 24h1v1h-1zM22 25h1v1h-1zM24 25h1v1h-1zM29 26h1v1h-1zM32 26h1v1h-1zM30 27h1v1h-1zM32 27h1v1h-1zM34 27h1v1h-1zM13 28h1v1h-1zM30 28h1v1h-1zM7 29h1v1h-1zM29 29h2v1h-2zM6 30h1v1h-1zM14 32h1v1h-1zM16 33h1v1h-1zM30 33h1v1h-1zM33 33h1v1h-1zM29 35h2v1h-2zM7 36h1v1h-1zM12 36h1v1h-1zM5 37h1v1h-1zM9 37h1v1h-1zM13 37h1v1h-1zM15 37h1v1h-1zM18 37h1v1h-1zM13 38h1v1h-1zM25 38h1v1h-1zM14 39h1v1h-1zM24 39h2v1h-2zM14 40h1v1h-1zM16 43h1v1h-1zM40 47h1v1h-1z"/>
<path fill="#28a47a" d="M24 6h3v1h-3zM24 8h2v1h-2zM25 10h1v1h-1zM22 13h1v1h-1zM41 13h1v1h-1zM21 14h2v1h-2zM41 14h1v1h-1zM38 15h2v1h-2zM37 16h1v1h-1zM39 16h1v1h-1zM37 17h1v1h-1zM37 19h1v1h-1zM38 20h1v1h-1zM22 21h1v1h-1zM27 21h1v1h-1zM9 22h1v1h-1zM17 22h1v1h-1zM22 22h1v1h-1zM27 23h1v1h-1zM36 23h1v1h-1zM32 24h1v1h-1zM37 24h1v1h-1zM39 26h1v1h-1zM28 27h1v1h-1zM9 28h1v1h-1zM24 28h1v1h-1zM39 28h2v1h-2zM10 29h1v1h-1zM20 29h3v1h-3zM25 29h1v1h-1zM39 29h1v1h-1zM21 30h1v1h-1zM26 30h1v1h-1zM39 30h1v1h-1zM41 30h2v1h-2zM24 31h1v1h-1zM33 31h1v1h-1zM38 32h1v1h-1zM40 32h1v1h-1zM21 33h1v1h-1zM41 33h3v1h-3zM37 34h1v1h-1zM44 34h1v1h-1zM20 35h1v1h-1zM35 35h1v1h-1zM42 35h1v1h-1zM29 36h1v1h-1zM32 36h3v1h-3zM36 36h1v1h-1zM28 37h1v1h-1zM35 37h1v1h-1zM28 39h1v1h-1zM40 41h1v1h-1zM28 45h1v1h-1zM30 45h1v1h-1zM38 45h1v1h-1zM40 45h2v1h-2z"/>
<path fill="#154580" d="M27 6h1v1h-1zM32 9h1v1h-1zM34 9h1v1h-1zM30 10h1v1h-1zM33 10h2v1h-2zM44 10h1v1h-1zM47 10h1v1h-1zM43 11h1v1h-1zM30 12h1v1h-1zM43 12h2v1h-2zM48 12h1v1h-1zM30 13h1v1h-1zM49 13h1v1h-1zM45 14h1v1h-1zM48 14h1v1h-1zM26 15h1v1h-1zM44 15h1v1h-1zM25 16h2v1h-2zM34 16h3v1h-3zM44 16h2v1h-2zM29 17h1v1h-1zM33 17h1v1h-1zM42 17h1v1h-1zM27 18h1v1h-1zM32 18h1v1h-1zM34 18h1v1h-1zM36 18h1v1h-1zM41 18h1v1h-1zM47 18h1v1h-1zM29 19h1v1h-1zM46 19h2v1h-2zM32 20h1v1h-1zM34 20h1v1h-1zM36 20h1v1h-1zM44 20h1v1h-1zM46 20h2v1h-2zM29 21h1v1h-1zM45 21h1v1h-1zM20 22h1v1h-1zM23 22h1v1h-1zM33 22h1v1h-1zM40 22h1v1h-1zM44 22h1v1h-1zM30 23h2v1h-2zM38 23h1v1h-1zM40 23h1v1h-1zM45 23h1v1h-1zM39 24h1v1h-1zM41 24h1v1h-1zM44 24h1v1h-1zM28 25h1v1h-1zM41 25h1v1h-1zM43 25h2v1h-2zM43 27h1v1h-1zM45 27h1v1h-1zM31 39h1v1h-1zM31 40h1v1h-1zM33 40h1v1h-1zM35 40h1v1h-1zM37 40h2v1h-2zM36 41h1v1h-1zM38 41h1v1h-1zM32 42h2v1h-2zM32 43h1v1h-1zM35 43h1v1h-1zM34 44h1v1h-1zM36 44h1v1h-1zM37 45h1v1h-1zM34 46h1v1h-1z"/>
<path fill="#e8961e" d="M11 7h1v1h-1zM19 7h1v1h-1zM17 8h1v1h-1zM17 9h1v1h-1zM11 10h1v1h-1zM17 10h1v1h-1zM14 13h1v1h-1zM19 16h1v1h-1zM9 36h1v1h-1zM8 40h1v1h-1z"/>
<path fill="#f4ca15" d="M18 7h1v1h-1zM21 8h1v1h-1zM18 10h1v1h-1zM17 12h2v1h-2zM15 14h1v1h-1zM19 15h1v1h-1zM18 16h1v1h-1zM14 26h2v1h-2zM14 27h1v1h-1zM14 29h1v1h-1zM14 30h1v1h-1zM14 31h2v1h-2zM12 32h1v1h-1zM8 33h1v1h-1zM13 33h1v1h-1zM7 35h5v1h-5zM14 35h1v1h-1zM4 39h1v1h-1zM15 41h1v1h-1zM18 41h1v1h-1zM16 42h2v1h-2z"/>
<path fill="#f9e511" d="M21 7h1v1h-1zM20 8h1v1h-1zM18 9h1v1h-1zM19 11h1v1h-1zM19 12h1v1h-1zM15 13h1v1h-1zM18 15h1v1h-1zM15 27h1v1h-1zM15 28h3v1h-3zM16 29h1v1h-1zM10 31h2v1h-2zM5 32h1v1h-1zM15 32h1v1h-1zM7 34h3v1h-3zM11 34h1v1h-1zM13 35h1v1h-1zM10 37h1v1h-1zM12 39h2v1h-2zM17 41h1v1h-1zM19 41h1v1h-1zM15 42h1v1h-1zM18 42h2v1h-2zM19 43h1v1h-1z"/>
<path fill="#c3f70e" d="M22 7h1v1h-1zM20 9h1v1h-1zM15 20h1v1h-1zM23 25h1v1h-1zM34 26h2v1h-2zM31 27h1v1h-1zM29 28h1v1h-1zM17 29h1v1h-1zM10 30h2v1h-2zM13 30h1v1h-1zM9 31h1v1h-1zM13 31h1v1h-1zM30 31h1v1h-1zM7 32h2v1h-2zM30 32h1v1h-1zM6 33h1v1h-1zM14 33h1v1h-1zM13 34h2v1h-2zM12 35h1v1h-1zM15 35h1v1h-1zM10 36h1v1h-1zM13 36h2v1h-2zM14 37h1v1h-1zM10 38h2v1h-2zM14 38h1v1h-1zM9 39h1v1h-1zM11 40h3v1h-3zM17 40h1v1h-1zM13 41h2v1h-2zM23 41h1v1h-1zM41 47h1v1h-1z"/>
<path fill="#2ab468" d="M24 7h1v1h-1zM24 9h1v1h-1zM38 10h1v1h-1zM23 11h1v1h-1zM20 13h2v1h-2zM38 13h1v1h-1zM38 14h2v1h-2zM20 15h2v1h-2zM38 18h1v1h-1zM24 21h1v1h-1zM28 22h1v1h-1zM8 23h1v1h-1zM16 23h1v1h-1zM25 23h1v1h-1zM28 23h1v1h-1zM26 24h1v1h-1zM17 25h1v1h-1zM26 25h1v1h-1zM24 26h1v1h-1zM40 26h2v1h-2zM24 27h1v1h-1zM11 28h1v1h-1zM20 28h4v1h-4zM33 28h1v1h-1zM11 29h1v1h-1zM33 29h2v1h-2zM20 30h1v1h-1zM23 30h1v1h-1zM25 30h1v1h-1zM17 31h1v1h-1zM20 31h1v1h-1zM22 31h1v1h-1zM39 31h3v1h-3zM21 32h1v1h-1zM39 32h1v1h-1zM45 32h1v1h-1zM37 33h2v1h-2zM44 33h2v1h-2zM18 34h2v1h-2zM36 34h1v1h-1zM40 34h1v1h-1zM22 35h1v1h-1zM28 36h1v1h-1zM30 36h1v1h-1zM26 38h1v1h-1zM19 39h1v1h-1zM28 40h1v1h-1zM30 41h1v1h-1zM29 42h1v1h-1zM39 44h1v1h-1zM39 46h2v1h-2z"/>
<path fill="#26948c" d="M25 7h1v1h-1zM22 11h1v1h-1zM32 11h2v1h-2zM36 11h1v1h-1zM23 12h1v1h-1zM32 12h1v1h-1zM36 12h1v1h-1zM23 13h1v1h-1zM32 13h2v1h-2zM23 14h1v1h-1zM23 15h1v1h-1zM22 16h1v1h-1zM38 16h1v1h-1zM41 16h1v1h-1zM38 17h1v1h-1zM9 18h1v1h-1zM18 19h2v1h-2zM38 19h1v1h-1zM17 20h3v1h-3zM37 20h1v1h-1zM17 21h1v1h-1zM23 21h1v1h-1zM36 21h1v1h-1zM18 22h1v1h-1zM35 22h2v1h-2zM9 23h1v1h-1zM11 23h1v1h-1zM18 23h1v1h-1zM22 23h1v1h-1zM8 24h1v1h-1zM31 24h1v1h-1zM38 24h1v1h-1zM8 25h1v1h-1zM27 25h1v1h-1zM31 25h2v1h-2zM39 25h2v1h-2zM26 26h1v1h-1zM28 26h1v1h-1zM25 27h2v1h-2zM40 27h3v1h-3zM25 28h2v1h-2zM41 28h1v1h-1zM24 29h1v1h-1zM41 29h1v1h-1zM45 30h1v1h-1zM25 31h1v1h-1zM42 31h3v1h-3zM20 32h1v1h-1zM23 32h1v1h-1zM43 32h1v1h-1zM20 33h1v1h-1zM39 33h1v1h-1zM20 34h1v1h-1zM23 34h1v1h-1zM42 34h2v1h-2zM21 35h1v1h-1zM40 35h2v1h-2zM39 36h1v1h-1zM29 37h2v1h-2zM34 37h1v1h-1zM36 37h1v1h-1zM31 38h3v1h-3zM35 38h1v1h-1zM40 42h2v1h-2zM29 45h1v1h-1zM35 46h1v1h-1zM37 46h2v1h-2z"/>
<path fill="#207a88" d="M26 7h1v1h-1zM25 9h1v1h-1zM38 9h4v1h-4zM39 10h2v1h-2zM22 12h1v1h-1zM24 12h1v1h-1zM31 12h1v1h-1zM33 12h1v1h-1zM30 15h1v1h-1zM36 15h2v1h-2zM24 16h1v1h-1zM42 16h1v1h-1zM34 17h1v1h-1zM39 17h1v1h-1zM37 18h1v1h-1zM39 18h1v1h-1zM36 19h1v1h-1zM35 20h1v1h-1zM39 20h3v1h-3zM18 21h1v1h-1zM21 21h1v1h-1zM35 21h1v1h-1zM37 21h1v1h-1zM10 22h1v1h-1zM16 22h1v1h-1zM37 22h1v1h-1zM33 23h1v1h-1zM37 23h1v1h-1zM29 25h1v1h-1zM25 26h1v1h-1zM42 26h3v1h-3zM42 28h2v1h-2zM40 29h1v1h-1zM42 29h1v1h-1zM24 30h1v1h-1zM43 30h2v1h-2zM21 31h1v1h-1zM23 31h1v1h-1zM22 32h1v1h-1zM41 32h2v1h-2zM22 33h2v1h-2zM40 33h1v1h-1zM21 34h1v1h-1zM41 34h1v1h-1zM43 35h1v1h-1zM6 36h1v1h-1zM43 36h1v1h-1zM29 38h1v1h-1zM34 38h1v1h-1zM37 38h1v1h-1zM29 39h1v1h-1zM33 39h2v1h-2zM39 39h1v1h-1zM29 40h1v1h-1zM31 41h2v1h-2zM37 41h1v1h-1zM37 42h2v1h-2zM31 44h1v1h-1zM37 44h2v1h-2zM32 45h1v1h-1zM34 45h1v1h-1zM39 45h1v1h-1zM36 46h1v1h-1z"/>
<path fill="#1a5f84" d="M27 7h2v1h-2zM29 8h1v1h-1zM33 8h1v1h-1zM30 9h1v1h-1zM29 10h1v1h-1zM41 10h3v1h-3zM31 11h1v1h-1zM42 11h1v1h-1zM44 11h1v1h-1zM42 12h1v1h-1zM24 13h1v1h-1zM43 13h1v1h-1zM45 13h1v1h-1zM42 14h2v1h-2zM22 15h1v1h-1zM34 15h2v1h-2zM42 15h2v1h-2zM23 16h1v1h-1zM30 16h1v1h-1zM30 17h1v1h-1zM35 17h2v1h-2zM40 17h2v1h-2zM46 17h1v1h-1zM35 18h1v1h-1zM40 18h1v1h-1zM30 19h1v1h-1zM39 19h2v1h-2zM43 19h1v1h-1zM30 20h1v1h-1zM42 20h1v1h-1zM20 21h1v1h-1zM32 21h3v1h-3zM38 21h2v1h-2zM42 21h2v1h-2zM19 22h1v1h-1zM21 22h1v1h-1zM29 22h1v1h-1zM34 22h1v1h-1zM38 22h2v1h-2zM41 22h1v1h-1zM43 22h1v1h-1zM46 22h1v1h-1zM20 23h2v1h-2zM29 23h1v1h-1zM32 23h1v1h-1zM39 23h1v1h-1zM27 24h2v1h-2zM40 24h1v1h-1zM30 25h1v1h-1zM45 25h2v1h-2zM27 26h1v1h-1zM45 26h1v1h-1zM27 27h1v1h-1zM43 29h1v1h-1zM45 31h1v1h-1zM39 34h1v1h-1zM44 35h1v1h-1zM33 37h1v1h-1zM30 38h1v1h-1zM36 38h1v1h-1zM39 38h1v1h-1zM30 39h1v1h-1zM30 40h1v1h-1zM32 40h1v1h-1zM34 40h1v1h-1zM40 40h1v1h-1zM42 41h1v1h-1zM31 42h1v1h-1zM35 42h1v1h-1zM15 43h1v1h-1zM31 43h1v1h-1zM33 43h2v1h-2zM37 43h2v1h-2zM32 44h1v1h-1zM31 45h1v1h-1zM33 45h1v1h-1zM35 45h2v1h-2zM33 46h1v1h-1z"/>
<path fill="#0f2a7c" d="M29 7h1v1h-1zM28 8h1v1h-1zM30 8h3v1h-3zM34 8h1v1h-1zM29 9h1v1h-1zM31 9h1v1h-1zM33 9h1v1h-1zM42 9h1v1h-1zM31 10h2v1h-2zM45 10h2v1h-2zM29 11h2v1h-2zM45 11h5v1h-5zM28 12h2v1h-2zM45 12h3v1h-3zM49 12h1v1h-1zM29 13h1v1h-1zM31 13h1v1h-1zM42 13h1v1h-1zM44 13h1v1h-1zM46 13h3v1h-3zM29 14h3v1h-3zM44 14h1v1h-1zM46 14h2v1h-2zM49 14h1v1h-1zM24 15h2v1h-2zM27 15h3v1h-3zM31 15h1v1h-1zM45 15h5v1h-5zM27 16h3v1h-3zM31 16h3v1h-3zM43 16h1v1h-1zM46 16h3v1h-3zM31 17h2v1h-2zM43 17h3v1h-3zM47 17h2v1h-2zM26 18h1v1h-1zM28 18h4v1h-4zM33 18h1v1h-1zM42 18h5v1h-5zM48 18h1v1h-1zM31 19h5v1h-5zM41 19h2v1h-2zM44 19h2v1h-2zM48 19h1v1h-1zM29 20h1v1h-1zM31 20h1v1h-1zM33 20h1v1h-1zM43 20h1v1h-1zM45 20h1v1h-1zM48 20h1v1h-1zM30 21h2v1h-2zM40 21h2v1h-2zM44 21h1v1h-1zM46 21h3v1h-3zM30 22h3v1h-3zM42 22h1v1h-1zM45 22h1v1h-1zM47 22h1v1h-1zM41 23h4v1h-4zM46 23h2v1h-2zM29 24h2v1h-2zM42 24h2v1h-2zM45 24h2v1h-2zM42 25h1v1h-1zM46 26h1v1h-1zM44 27h1v1h-1zM46 27h1v1h-1zM44 28h3v1h-3zM44 29h3v1h-3zM32 39h1v1h-1zM35 39h4v1h-4zM36 40h1v1h-1zM33 41h3v1h-3zM34 42h1v1h-1zM36 42h1v1h-1zM36 43h1v1h-1zM33 44h1v1h-1zM35 44h1v1h-1z"/>
<path fill="#26c44d" d="M23 8h1v1h-1zM37 11h1v1h-1zM38 12h1v1h-1zM40 12h2v1h-2zM39 13h1v1h-1zM17 14h2v1h-2zM20 14h1v1h-1zM40 14h1v1h-1zM15 15h2v1h-2zM41 15h1v1h-1zM13 16h1v1h-1zM40 16h1v1h-1zM26 19h1v1h-1zM16 21h1v1h-1zM25 21h1v1h-1zM24 22h2v1h-2zM27 22h1v1h-1zM23 23h1v1h-1zM20 24h1v1h-1zM25 24h1v1h-1zM36 24h1v1h-1zM37 25h2v1h-2zM37 26h1v1h-1zM23 27h1v1h-1zM38 27h2v1h-2zM7 28h2v1h-2zM10 28h1v1h-1zM12 28h1v1h-1zM31 28h2v1h-2zM34 28h1v1h-1zM8 29h1v1h-1zM23 29h1v1h-1zM35 29h1v1h-1zM22 30h1v1h-1zM34 30h2v1h-2zM40 30h1v1h-1zM18 31h1v1h-1zM34 31h1v1h-1zM16 32h2v1h-2zM19 32h1v1h-1zM32 32h1v1h-1zM44 32h1v1h-1zM17 34h1v1h-1zM22 34h1v1h-1zM24 34h1v1h-1zM32 34h1v1h-1zM19 35h1v1h-1zM23 35h2v1h-2zM32 35h1v1h-1zM16 36h1v1h-1zM21 36h1v1h-1zM24 36h1v1h-1zM27 36h1v1h-1zM26 37h2v1h-2zM31 37h1v1h-1zM16 38h1v1h-1zM19 38h1v1h-1zM27 38h2v1h-2zM28 41h2v1h-2zM27 42h1v1h-1zM30 42h1v1h-1zM39 43h1v1h-1zM42 43h1v1h-1zM37 47h1v1h-1zM39 47h1v1h-1z"/>
<path fill="#ffff0c" d="M21 9h1v1h-1zM19 10h1v1h-1zM21 10h1v1h-1zM10 15h1v1h-1zM14 25h1v1h-1zM22 26h1v1h-1zM16 27h2v1h-2zM15 29h1v1h-1zM9 30h1v1h-1zM12 30h1v1h-1zM29 30h2v1h-2zM12 31h1v1h-1zM29 31h1v1h-1zM6 32h1v1h-1zM13 32h1v1h-1zM5 33h1v1h-1zM7 33h1v1h-1zM15 33h1v1h-1zM12 34h1v1h-1zM15 34h1v1h-1zM11 36h1v1h-1zM11 37h2v1h-2zM12 38h1v1h-1zM10 39h2v1h-2zM10 40h1v1h-1zM15 40h2v1h-2zM12 41h1v1h-1zM16 41h1v1h-1zM12 42h3v1h-3zM17 43h2v1h-2z"/>
<path fill="#4ae610" d="M22 9h1v1h-1zM22 10h1v1h-1zM20 11h2v1h-2zM39 11h1v1h-1zM20 12h1v1h-1zM18 13h1v1h-1zM16 14h1v1h-1zM12 16h1v1h-1zM14 16h1v1h-1zM16 16h1v1h-1zM26 22h1v1h-1zM24 23h1v1h-1zM21 25h1v1h-1zM16 26h2v1h-2zM23 26h1v1h-1zM31 26h1v1h-1zM33 26h1v1h-1zM22 27h1v1h-1zM29 27h1v1h-1zM33 27h1v1h-1zM38 28h1v1h-1zM6 29h1v1h-1zM9 29h1v1h-1zM18 29h1v1h-1zM32 29h1v1h-1zM16 30h1v1h-1zM18 30h2v1h-2zM31 30h1v1h-1zM16 31h1v1h-1zM19 31h1v1h-1zM31 31h2v1h-2zM37 31h1v1h-1zM18 32h1v1h-1zM29 32h1v1h-1zM31 32h1v1h-1zM29 33h1v1h-1zM31 33h2v1h-2zM31 34h1v1h-1zM35 34h1v1h-1zM17 35h2v1h-2zM15 36h1v1h-1zM17 36h1v1h-1zM15 38h1v1h-1zM17 38h2v1h-2zM15 39h4v1h-4zM26 39h2v1h-2zM18 40h2v1h-2zM26 40h1v1h-1zM27 41h1v1h-1zM23 42h1v1h-1zM40 43h2v1h-2zM40 44h1v1h-1zM38 47h1v1h-1z"/>
<path fill="#0ede12" d="M23 10h1v1h-1zM40 11h2v1h-2zM37 12h1v1h-1zM39 12h1v1h-1zM17 13h1v1h-1zM19 13h1v1h-1zM40 13h1v1h-1zM19 14h1v1h-1zM37 14h1v1h-1zM12 15h2v1h-2zM40 15h1v1h-1zM15 16h1v1h-1zM17 16h1v1h-1zM20 16h2v1h-2zM14 17h1v1h-1zM16 17h1v1h-1zM13 20h2v1h-2zM16 20h1v1h-1zM26 23h1v1h-1zM21 24h2v1h-2zM24 24h1v1h-1zM35 24h1v1h-1zM25 25h1v1h-1zM35 25h2v1h-2zM30 26h1v1h-1zM36 26h1v1h-1zM38 26h1v1h-1zM35 27h3v1h-3zM18 28h2v1h-2zM35 28h1v1h-1zM12 29h2v1h-2zM19 29h1v1h-1zM31 29h1v1h-1zM38 29h1v1h-1zM17 30h1v1h-1zM32 30h2v1h-2zM38 30h1v1h-1zM6 31h1v1h-1zM35 31h1v1h-1zM38 31h1v1h-1zM33 32h2v1h-2zM37 32h1v1h-1zM17 33h3v1h-3zM34 33h1v1h-1zM16 34h1v1h-1zM29 34h2v1h-2zM16 35h1v1h-1zM31 35h1v1h-1zM18 36h2v1h-2zM31 36h1v1h-1zM16 37h2v1h-2zM19 37h1v1h-1zM32 37h1v1h-1zM42 39h1v1h-1zM27 40h1v1h-1zM24 41h1v1h-1zM24 42h1v1h-1zM23 43h2v1h-2zM29 43h2v1h-2zM24 44h1v1h-1zM29 44h2v1h-2zM41 44h2v1h-2z"/>
</g>
<g transform="translate(619.0 429.0) scale(5.6)">
<path fill="#eeb01a" d="M14 5h1v1h-1zM16 5h1v1h-1zM15 7h1v1h-1zM14 8h1v1h-1zM12 11h1v1h-1zM35 11h1v1h-1zM16 14h1v1h-1zM15 15h1v1h-1zM28 21h1v1h-1zM25 22h2v1h-2zM28 22h1v1h-1zM27 23h1v1h-1zM18 24h1v1h-1zM18 26h2v1h-2zM19 27h1v1h-1zM15 28h1v1h-1zM21 28h1v1h-1zM13 29h1v1h-1zM18 29h1v1h-1zM23 29h1v1h-1zM15 30h1v1h-1zM20 31h1v1h-1zM14 32h1v1h-1zM13 33h3v1h-3zM9 34h1v1h-1zM11 34h1v1h-1zM13 34h1v1h-1zM9 35h1v1h-1zM11 35h2v1h-2zM7 36h1v1h-1zM8 37h1v1h-1zM11 37h1v1h-1zM13 37h1v1h-1zM12 38h1v1h-1zM15 38h1v1h-1zM8 39h1v1h-1zM18 39h1v1h-1zM19 40h1v1h-1zM15 41h1v1h-1zM18 41h1v1h-1zM20 41h2v1h-2zM18 42h3v1h-3zM21 43h1v1h-1z"/>
<path fill="#d6762c" d="M15 5h1v1h-1zM12 34h1v1h-1zM14 40h1v1h-1z"/>
<path fill="#e8961e" d="M17 5h1v1h-1zM15 6h1v1h-1zM17 7h1v1h-1zM23 12h1v1h-1zM16 15h1v1h-1zM14 16h1v1h-1zM16 16h1v1h-1zM28 19h1v1h-1zM19 24h1v1h-1zM40 28h1v1h-1zM15 29h1v1h-1zM40 29h1v1h-1zM12 31h2v1h-2zM8 34h1v1h-1zM8 35h1v1h-1zM8 36h1v1h-1zM8 38h1v1h-1zM7 39h1v1h-1zM14 39h2v1h-2zM7 40h4v1h-4zM15 40h1v1h-1zM10 41h1v1h-1zM14 41h1v1h-1zM19 41h1v1h-1zM14 42h3v1h-3z"/>
<path fill="#ffff0c" d="M18 5h1v1h-1zM25 7h1v1h-1zM31 7h1v1h-1zM22 8h1v1h-1zM33 8h1v1h-1zM36 8h1v1h-1zM31 9h2v1h-2zM32 10h1v1h-1zM31 11h2v1h-2zM34 11h1v1h-1zM33 12h4v1h-4zM23 13h1v1h-1zM26 13h1v1h-1zM31 13h1v1h-1zM21 14h1v1h-1zM23 14h2v1h-2zM33 14h3v1h-3zM23 15h1v1h-1zM25 15h1v1h-1zM28 15h1v1h-1zM21 16h1v1h-1zM25 16h1v1h-1zM28 16h1v1h-1zM23 17h1v1h-1zM20 19h2v1h-2zM20 20h2v1h-2zM21 21h1v1h-1zM23 21h1v1h-1zM21 22h1v1h-1zM23 23h3v1h-3zM28 23h1v1h-1zM20 24h1v1h-1zM22 24h1v1h-1zM35 24h1v1h-1zM21 25h1v1h-1zM24 25h1v1h-1zM12 26h1v1h-1zM32 26h1v1h-1zM12 27h2v1h-2zM16 27h2v1h-2zM9 28h3v1h-3zM17 28h1v1h-1zM24 28h1v1h-1zM11 29h1v1h-1zM16 29h1v1h-1zM8 30h2v1h-2zM16 30h1v1h-1zM10 31h1v1h-1zM17 31h2v1h-2zM15 32h1v1h-1zM24 32h2v1h-2zM28 32h1v1h-1zM24 33h1v1h-1zM26 33h1v1h-1zM32 35h1v1h-1zM16 36h1v1h-1zM15 37h1v1h-1zM17 37h1v1h-1zM13 40h1v1h-1zM19 43h1v1h-1z"/>
<path fill="#86ee0f" d="M19 5h2v1h-2zM24 6h3v1h-3zM19 7h1v1h-1zM23 7h2v1h-2zM17 8h2v1h-2zM32 8h1v1h-1zM23 9h1v1h-1zM22 10h1v1h-1zM24 10h1v1h-1zM33 10h1v1h-1zM21 11h1v1h-1zM40 11h1v1h-1zM18 12h1v1h-1zM20 12h2v1h-2zM22 13h1v1h-1zM22 15h1v1h-1zM24 15h1v1h-1zM32 15h1v1h-1zM22 16h1v1h-1zM31 16h1v1h-1zM20 17h1v1h-1zM21 18h1v1h-1zM22 19h1v1h-1zM17 21h1v1h-1zM14 22h1v1h-1zM30 22h1v1h-1zM36 22h1v1h-1zM21 23h1v1h-1zM29 23h1v1h-1zM24 24h3v1h-3zM26 25h1v1h-1zM33 25h1v1h-1zM25 26h1v1h-1zM38 26h1v1h-1zM14 27h1v1h-1zM26 27h1v1h-1zM30 27h1v1h-1zM33 27h1v1h-1zM25 28h2v1h-2zM24 29h1v1h-1zM32 30h1v1h-1zM19 31h1v1h-1zM25 31h1v1h-1zM27 31h1v1h-1zM10 32h1v1h-1zM16 32h4v1h-4zM22 32h1v1h-1zM10 33h1v1h-1zM18 33h1v1h-1zM16 34h2v1h-2zM19 34h1v1h-1zM37 34h1v1h-1zM16 35h2v1h-2zM19 35h2v1h-2zM22 35h1v1h-1zM33 35h1v1h-1zM18 36h1v1h-1zM31 36h1v1h-1zM42 36h1v1h-1zM19 38h1v1h-1zM27 39h2v1h-2zM31 43h1v1h-1zM23 44h1v1h-1z"/>
<path fill="#c3f70e" d="M21 5h1v1h-1zM18 7h1v1h-1zM26 7h1v1h-1zM23 8h2v1h-2zM26 8h1v1h-1zM34 8h2v1h-2zM22 9h1v1h-1zM29 10h1v1h-1zM20 11h1v1h-1zM31 12h1v1h-1zM40 12h1v1h-1zM20 13h2v1h-2zM25 13h1v1h-1zM32 13h1v1h-1zM34 13h2v1h-2zM22 14h1v1h-1zM31 14h1v1h-1zM21 15h1v1h-1zM30 15h2v1h-2zM23 16h2v1h-2zM26 16h1v1h-1zM29 16h2v1h-2zM22 18h1v1h-1zM20 21h1v1h-1zM29 21h1v1h-1zM20 22h1v1h-1zM23 22h1v1h-1zM29 22h1v1h-1zM30 23h1v1h-1zM21 24h1v1h-1zM27 24h1v1h-1zM34 24h1v1h-1zM36 24h2v1h-2zM34 25h3v1h-3zM13 26h2v1h-2zM16 26h2v1h-2zM24 26h1v1h-1zM33 26h2v1h-2zM15 27h1v1h-1zM34 27h1v1h-1zM19 29h1v1h-1zM25 29h1v1h-1zM11 30h1v1h-1zM17 30h1v1h-1zM9 32h1v1h-1zM27 32h1v1h-1zM9 33h1v1h-1zM17 33h1v1h-1zM20 36h1v1h-1zM16 37h1v1h-1zM20 37h2v1h-2zM16 38h1v1h-1zM18 38h1v1h-1zM20 38h1v1h-1zM22 38h1v1h-1zM32 42h1v1h-1zM23 43h1v1h-1zM32 45h1v1h-1z"/>
<path fill="#f4ca15" d="M14 6h1v1h-1zM13 7h1v1h-1zM29 9h1v1h-1zM35 9h2v1h-2zM35 10h2v1h-2zM16 13h1v1h-1zM18 13h1v1h-1zM17 14h2v1h-2zM17 15h1v1h-1zM15 16h1v1h-1zM17 16h1v1h-1zM27 19h1v1h-1zM27 20h1v1h-1zM29 20h1v1h-1zM27 21h1v1h-1zM23 24h1v1h-1zM16 25h1v1h-1zM18 25h2v1h-2zM23 25h1v1h-1zM18 27h1v1h-1zM19 28h2v1h-2zM23 28h1v1h-1zM14 29h1v1h-1zM17 29h1v1h-1zM20 29h1v1h-1zM22 30h1v1h-1zM9 31h1v1h-1zM15 31h1v1h-1zM21 31h1v1h-1zM13 32h1v1h-1zM25 33h1v1h-1zM28 33h1v1h-1zM10 35h1v1h-1zM13 35h3v1h-3zM31 35h1v1h-1zM9 36h1v1h-1zM12 36h1v1h-1zM14 36h1v1h-1zM17 36h1v1h-1zM14 37h1v1h-1zM13 38h2v1h-2zM12 39h1v1h-1zM17 39h1v1h-1zM20 39h2v1h-2zM18 40h1v1h-1zM21 40h1v1h-1zM16 41h2v1h-2zM21 42h1v1h-1zM18 43h1v1h-1z"/>
<path fill="#efefef" d="M16 6h2v1h-2zM23 6h1v1h-1zM16 7h1v1h-1zM13 8h1v1h-1zM15 8h2v1h-2zM13 9h5v1h-5zM25 9h1v1h-1zM37 9h2v1h-2zM13 10h4v1h-4zM28 10h1v1h-1zM30 10h1v1h-1zM37 10h2v1h-2zM14 11h4v1h-4zM26 11h5v1h-5zM37 11h2v1h-2zM12 12h6v1h-6zM27 12h4v1h-4zM37 12h2v1h-2zM12 13h4v1h-4zM27 13h4v1h-4zM36 13h3v1h-3zM12 14h4v1h-4zM26 14h5v1h-5zM38 14h1v1h-1zM13 15h1v1h-1zM18 15h3v1h-3zM12 16h2v1h-2zM18 16h3v1h-3zM12 17h8v1h-8zM24 17h7v1h-7zM12 18h9v1h-9zM24 18h7v1h-7zM11 19h8v1h-8zM23 19h4v1h-4zM11 20h4v1h-4zM17 20h1v1h-1zM22 20h5v1h-5zM12 21h1v1h-1zM14 21h3v1h-3zM22 21h1v1h-1zM24 21h1v1h-1zM26 21h1v1h-1zM15 22h5v1h-5zM12 23h6v1h-6zM37 23h1v1h-1zM12 24h6v1h-6zM13 25h3v1h-3zM17 25h1v1h-1zM20 25h1v1h-1zM22 25h1v1h-1zM10 26h2v1h-2zM20 26h4v1h-4zM11 27h1v1h-1zM20 27h5v1h-5zM29 28h4v1h-4zM37 28h3v1h-3zM8 29h2v1h-2zM28 29h5v1h-5zM37 29h3v1h-3zM13 30h1v1h-1zM19 30h1v1h-1zM29 30h3v1h-3zM38 30h2v1h-2zM28 31h4v1h-4zM38 31h1v1h-1zM11 32h2v1h-2zM29 32h4v1h-4zM37 32h2v1h-2zM12 33h1v1h-1zM29 33h5v1h-5zM37 33h2v1h-2zM27 34h5v1h-5zM35 34h2v1h-2zM26 35h5v1h-5zM35 35h4v1h-4zM10 36h1v1h-1zM22 36h1v1h-1zM24 36h6v1h-6zM33 36h1v1h-1zM37 36h1v1h-1zM40 36h1v1h-1zM43 36h1v1h-1zM7 37h1v1h-1zM9 37h2v1h-2zM22 37h7v1h-7zM40 37h6v1h-6zM7 38h1v1h-1zM9 38h3v1h-3zM23 38h6v1h-6zM39 38h1v1h-1zM41 38h5v1h-5zM9 39h3v1h-3zM23 39h4v1h-4zM42 39h2v1h-2zM45 39h1v1h-1zM11 40h2v1h-2zM22 40h3v1h-3zM26 40h1v1h-1zM41 40h2v1h-2zM44 40h2v1h-2zM11 41h3v1h-3zM22 41h2v1h-2zM27 41h2v1h-2zM41 41h1v1h-1zM22 42h2v1h-2zM27 42h1v1h-1zM41 42h1v1h-1zM22 43h1v1h-1zM24 43h2v1h-2zM27 43h4v1h-4zM24 44h2v1h-2zM27 44h4v1h-4zM27 45h4v1h-4z"/>
<path fill="#4ae610" d="M18 6h1v1h-1zM20 6h1v1h-1zM28 6h1v1h-1zM20 7h1v1h-1zM22 7h1v1h-1zM27 7h2v1h-2zM25 8h1v1h-1zM28 8h1v1h-1zM30 8h1v1h-1zM40 9h1v1h-1zM19 10h1v1h-1zM21 10h1v1h-1zM23 10h1v1h-1zM26 10h1v1h-1zM22 11h1v1h-1zM19 12h1v1h-1zM22 12h1v1h-1zM24 13h1v1h-1zM39 13h2v1h-2zM25 14h1v1h-1zM37 14h1v1h-1zM32 16h1v1h-1zM32 17h1v1h-1zM31 18h2v1h-2zM30 21h1v1h-1zM38 22h2v1h-2zM35 23h1v1h-1zM25 25h1v1h-1zM27 25h1v1h-1zM32 25h1v1h-1zM38 25h1v1h-1zM15 26h1v1h-1zM29 26h1v1h-1zM35 26h1v1h-1zM10 27h1v1h-1zM25 27h1v1h-1zM29 27h1v1h-1zM33 28h1v1h-1zM35 28h1v1h-1zM26 29h2v1h-2zM34 29h1v1h-1zM24 30h1v1h-1zM26 30h2v1h-2zM33 30h2v1h-2zM24 31h1v1h-1zM32 31h1v1h-1zM37 31h1v1h-1zM20 32h1v1h-1zM23 32h1v1h-1zM34 32h1v1h-1zM36 32h1v1h-1zM42 32h2v1h-2zM16 33h1v1h-1zM19 33h2v1h-2zM35 33h2v1h-2zM39 33h1v1h-1zM18 34h1v1h-1zM23 34h3v1h-3zM38 34h1v1h-1zM18 35h1v1h-1zM21 35h1v1h-1zM24 35h1v1h-1zM40 35h3v1h-3zM19 36h1v1h-1zM21 36h1v1h-1zM23 36h1v1h-1zM30 36h1v1h-1zM31 37h1v1h-1zM21 38h1v1h-1zM30 39h2v1h-2zM25 40h1v1h-1zM28 40h1v1h-1zM24 41h2v1h-2zM29 41h1v1h-1zM31 41h2v1h-2zM24 42h1v1h-1zM28 42h1v1h-1zM30 42h2v1h-2z"/>
<path fill="#2ab468" d="M19 6h1v1h-1zM29 6h1v1h-1zM27 9h1v1h-1zM27 10h1v1h-1zM40 14h2v1h-2zM33 15h1v1h-1zM38 16h1v1h-1zM32 19h1v1h-1zM31 20h1v1h-1zM31 21h2v1h-2zM34 21h1v1h-1zM39 21h1v1h-1zM11 22h1v1h-1zM32 22h1v1h-1zM34 22h1v1h-1zM40 22h1v1h-1zM31 23h1v1h-1zM33 23h2v1h-2zM11 24h1v1h-1zM43 24h1v1h-1zM10 25h1v1h-1zM30 26h1v1h-1zM39 26h1v1h-1zM49 26h1v1h-1zM40 27h2v1h-2zM34 28h1v1h-1zM36 28h1v1h-1zM35 29h1v1h-1zM41 29h1v1h-1zM45 30h1v1h-1zM35 31h2v1h-2zM42 31h2v1h-2zM44 32h1v1h-1zM22 33h1v1h-1zM34 33h1v1h-1zM42 33h1v1h-1zM44 33h2v1h-2zM42 34h1v1h-1zM44 34h1v1h-1zM34 35h1v1h-1zM46 35h1v1h-1zM35 36h1v1h-1zM44 36h3v1h-3zM32 37h1v1h-1zM35 37h1v1h-1zM32 39h1v1h-1zM35 43h1v1h-1zM34 44h1v1h-1zM41 44h1v1h-1zM42 45h1v1h-1zM42 46h1v1h-1z"/>
<path fill="#0ede12" d="M21 6h2v1h-2zM27 6h1v1h-1zM21 7h1v1h-1zM29 7h2v1h-2zM20 8h2v1h-2zM27 8h1v1h-1zM29 8h1v1h-1zM18 9h1v1h-1zM21 9h1v1h-1zM26 9h1v1h-1zM17 10h2v1h-2zM20 10h1v1h-1zM40 10h2v1h-2zM18 11h2v1h-2zM24 11h2v1h-2zM39 11h1v1h-1zM41 11h1v1h-1zM24 12h1v1h-1zM26 12h1v1h-1zM39 12h1v1h-1zM41 12h1v1h-1zM12 15h1v1h-1zM26 15h1v1h-1zM34 15h2v1h-2zM38 15h1v1h-1zM31 17h1v1h-1zM31 19h1v1h-1zM33 22h1v1h-1zM35 22h1v1h-1zM37 22h1v1h-1zM18 23h1v1h-1zM36 23h1v1h-1zM31 24h3v1h-3zM38 24h1v1h-1zM12 25h1v1h-1zM28 25h1v1h-1zM30 25h2v1h-2zM37 25h1v1h-1zM26 26h3v1h-3zM36 26h1v1h-1zM27 27h1v1h-1zM36 27h3v1h-3zM28 28h1v1h-1zM41 28h1v1h-1zM18 30h1v1h-1zM25 30h1v1h-1zM28 30h1v1h-1zM37 30h1v1h-1zM40 30h2v1h-2zM26 31h1v1h-1zM34 31h1v1h-1zM40 31h1v1h-1zM21 32h1v1h-1zM35 32h1v1h-1zM40 32h2v1h-2zM21 33h1v1h-1zM23 33h1v1h-1zM40 33h1v1h-1zM20 34h3v1h-3zM26 34h1v1h-1zM33 34h1v1h-1zM40 34h1v1h-1zM43 34h1v1h-1zM39 35h1v1h-1zM43 35h2v1h-2zM18 37h2v1h-2zM29 37h2v1h-2zM29 38h1v1h-1zM31 38h2v1h-2zM29 39h1v1h-1zM44 39h1v1h-1zM27 40h1v1h-1zM32 40h1v1h-1zM26 41h1v1h-1zM25 42h1v1h-1zM44 42h1v1h-1zM26 43h1v1h-1zM32 43h1v1h-1zM26 44h1v1h-1zM31 44h1v1h-1zM44 44h1v1h-1zM31 45h1v1h-1z"/>
<path fill="#df8625" d="M14 7h1v1h-1zM13 11h1v1h-1zM14 15h1v1h-1zM27 22h1v1h-1zM12 30h1v1h-1zM14 30h1v1h-1zM14 31h1v1h-1zM11 36h1v1h-1zM13 36h1v1h-1zM12 37h1v1h-1zM16 39h1v1h-1zM16 40h2v1h-2zM17 42h1v1h-1z"/>
<path fill="#26c44d" d="M19 8h1v1h-1zM19 9h2v1h-2zM24 9h1v1h-1zM28 9h1v1h-1zM39 9h1v1h-1zM41 9h1v1h-1zM25 10h1v1h-1zM39 10h1v1h-1zM23 11h1v1h-1zM25 12h1v1h-1zM41 13h1v1h-1zM36 14h1v1h-1zM39 14h1v1h-1zM36 15h2v1h-2zM33 16h1v1h-1zM35 16h1v1h-1zM19 19h1v1h-1zM16 20h1v1h-1zM32 20h1v1h-1zM35 21h1v1h-1zM38 21h1v1h-1zM41 22h1v1h-1zM32 23h1v1h-1zM38 23h3v1h-3zM28 24h3v1h-3zM29 25h1v1h-1zM37 26h1v1h-1zM40 26h1v1h-1zM28 27h1v1h-1zM35 27h1v1h-1zM27 28h1v1h-1zM33 29h1v1h-1zM36 30h1v1h-1zM33 31h1v1h-1zM39 31h1v1h-1zM41 31h1v1h-1zM33 32h1v1h-1zM39 32h1v1h-1zM41 33h1v1h-1zM43 33h1v1h-1zM34 34h1v1h-1zM41 34h1v1h-1zM23 35h1v1h-1zM25 35h1v1h-1zM32 36h1v1h-1zM41 36h1v1h-1zM30 38h1v1h-1zM29 40h1v1h-1zM31 40h1v1h-1zM30 41h1v1h-1zM29 42h1v1h-1zM33 43h1v1h-1zM40 43h1v1h-1zM43 43h2v1h-2zM32 44h1v1h-1zM43 44h1v1h-1zM33 45h2v1h-2zM43 45h1v1h-1z"/>
<path fill="#f9e511" d="M31 8h1v1h-1zM30 9h1v1h-1zM33 9h2v1h-2zM31 10h1v1h-1zM34 10h1v1h-1zM33 11h1v1h-1zM36 11h1v1h-1zM32 12h1v1h-1zM17 13h1v1h-1zM19 13h1v1h-1zM33 13h1v1h-1zM19 14h2v1h-2zM32 14h1v1h-1zM27 15h1v1h-1zM29 15h1v1h-1zM27 16h1v1h-1zM21 17h2v1h-2zM23 18h1v1h-1zM29 19h2v1h-2zM28 20h1v1h-1zM30 20h1v1h-1zM25 21h1v1h-1zM22 22h1v1h-1zM24 22h1v1h-1zM20 23h1v1h-1zM22 23h1v1h-1zM26 23h1v1h-1zM31 26h1v1h-1zM31 27h2v1h-2zM12 28h3v1h-3zM16 28h1v1h-1zM18 28h1v1h-1zM22 28h1v1h-1zM10 29h1v1h-1zM12 29h1v1h-1zM21 29h2v1h-2zM10 30h1v1h-1zM20 30h2v1h-2zM23 30h1v1h-1zM8 31h1v1h-1zM11 31h1v1h-1zM16 31h1v1h-1zM22 31h2v1h-2zM8 32h1v1h-1zM26 32h1v1h-1zM8 33h1v1h-1zM11 33h1v1h-1zM27 33h1v1h-1zM10 34h1v1h-1zM14 34h2v1h-2zM32 34h1v1h-1zM15 36h1v1h-1zM17 38h1v1h-1zM13 39h1v1h-1zM19 39h1v1h-1zM22 39h1v1h-1zM20 40h1v1h-1zM20 43h1v1h-1z"/>
<path fill="#1a5f84" d="M42 9h1v1h-1zM44 10h2v1h-2zM44 11h1v1h-1zM48 11h1v1h-1zM50 11h2v1h-2zM44 12h1v1h-1zM48 12h1v1h-1zM50 12h1v1h-1zM44 13h1v1h-1zM51 13h1v1h-1zM50 14h1v1h-1zM42 15h2v1h-2zM45 15h3v1h-3zM49 15h1v1h-1zM52 15h1v1h-1zM42 16h3v1h-3zM46 16h4v1h-4zM51 16h1v1h-1zM41 17h1v1h-1zM43 17h1v1h-1zM45 17h1v1h-1zM47 17h1v1h-1zM49 17h2v1h-2zM38 18h2v1h-2zM44 18h1v1h-1zM47 18h5v1h-5zM36 19h6v1h-6zM44 19h2v1h-2zM48 19h2v1h-2zM35 20h3v1h-3zM40 20h2v1h-2zM46 20h1v1h-1zM49 20h1v1h-1zM42 22h1v1h-1zM44 23h1v1h-1zM10 24h1v1h-1zM48 24h1v1h-1zM47 25h1v1h-1zM9 27h1v1h-1zM48 27h1v1h-1zM46 30h1v1h-1zM45 31h1v1h-1zM33 37h1v1h-1zM39 39h1v1h-1zM35 40h1v1h-1zM38 42h1v1h-1zM37 43h2v1h-2zM35 44h1v1h-1z"/>
<path fill="#154580" d="M43 9h3v1h-3zM50 10h1v1h-1zM45 11h1v1h-1zM49 11h1v1h-1zM47 12h1v1h-1zM51 12h1v1h-1zM48 14h1v1h-1zM44 15h1v1h-1zM42 17h1v1h-1zM46 17h1v1h-1zM48 17h1v1h-1zM46 18h1v1h-1zM47 19h1v1h-1zM38 20h2v1h-2zM44 20h1v1h-1zM44 21h2v1h-2zM44 22h1v1h-1zM45 23h1v1h-1zM47 23h1v1h-1zM46 24h2v1h-2zM49 24h1v1h-1zM44 25h2v1h-2zM48 25h1v1h-1zM45 26h1v1h-1zM45 27h1v1h-1zM47 27h1v1h-1zM44 28h2v1h-2zM47 28h1v1h-1zM44 29h1v1h-1zM48 29h1v1h-1zM47 30h1v1h-1zM37 42h1v1h-1zM37 44h2v1h-2z"/>
<path fill="#207a88" d="M42 10h1v1h-1zM46 10h4v1h-4zM46 11h2v1h-2zM43 12h1v1h-1zM45 12h1v1h-1zM42 13h1v1h-1zM45 13h6v1h-6zM47 14h1v1h-1zM49 14h1v1h-1zM40 15h1v1h-1zM45 16h1v1h-1zM50 16h1v1h-1zM36 17h1v1h-1zM38 17h3v1h-3zM44 17h1v1h-1zM36 18h1v1h-1zM40 18h4v1h-4zM45 18h1v1h-1zM34 19h2v1h-2zM48 20h1v1h-1zM11 21h1v1h-1zM19 21h1v1h-1zM48 21h1v1h-1zM45 22h2v1h-2zM50 22h1v1h-1zM46 23h1v1h-1zM49 23h2v1h-2zM44 24h2v1h-2zM46 25h1v1h-1zM49 25h1v1h-1zM46 26h1v1h-1zM42 27h2v1h-2zM43 28h1v1h-1zM46 28h1v1h-1zM46 29h2v1h-2zM44 30h1v1h-1zM46 31h1v1h-1zM34 37h1v1h-1zM36 37h1v1h-1zM35 38h3v1h-3zM36 39h1v1h-1zM36 40h1v1h-1zM38 41h1v1h-1zM35 42h2v1h-2zM42 42h1v1h-1zM39 43h1v1h-1zM41 43h1v1h-1zM37 45h1v1h-1zM37 46h1v1h-1zM40 46h1v1h-1zM39 47h1v1h-1z"/>
<path fill="#0f2a7c" d="M43 10h1v1h-1zM49 12h1v1h-1zM48 15h1v1h-1zM50 15h2v1h-2zM51 17h1v1h-1zM46 19h1v1h-1zM45 20h1v1h-1zM47 20h1v1h-1zM46 21h1v1h-1zM44 26h1v1h-1zM44 27h1v1h-1zM46 27h1v1h-1zM45 29h1v1h-1z"/>
<path fill="#26948c" d="M42 11h2v1h-2zM42 12h1v1h-1zM46 12h1v1h-1zM42 14h5v1h-5zM39 15h1v1h-1zM34 16h1v1h-1zM39 16h3v1h-3zM33 17h2v1h-2zM37 17h1v1h-1zM33 18h2v1h-2zM37 18h1v1h-1zM33 19h1v1h-1zM43 19h1v1h-1zM50 19h1v1h-1zM18 20h2v1h-2zM34 20h1v1h-1zM50 20h1v1h-1zM18 21h1v1h-1zM42 21h2v1h-2zM47 21h1v1h-1zM50 21h1v1h-1zM12 22h2v1h-2zM43 22h1v1h-1zM47 22h2v1h-2zM11 23h1v1h-1zM19 23h1v1h-1zM42 23h2v1h-2zM48 23h1v1h-1zM39 24h3v1h-3zM11 25h1v1h-1zM39 25h5v1h-5zM41 26h1v1h-1zM43 26h1v1h-1zM48 26h1v1h-1zM48 28h1v1h-1zM35 30h1v1h-1zM47 31h1v1h-1zM46 33h2v1h-2zM45 34h1v1h-1zM38 36h1v1h-1zM37 37h1v1h-1zM34 38h1v1h-1zM40 38h1v1h-1zM34 39h2v1h-2zM37 39h2v1h-2zM40 39h2v1h-2zM30 40h1v1h-1zM33 40h1v1h-1zM37 40h2v1h-2zM40 40h1v1h-1zM37 41h1v1h-1zM39 41h1v1h-1zM43 41h1v1h-1zM26 42h1v1h-1zM33 42h1v1h-1zM39 42h2v1h-2zM43 42h1v1h-1zM36 43h1v1h-1zM39 44h1v1h-1zM39 45h1v1h-1zM36 46h1v1h-1zM38 46h2v1h-2zM43 46h1v1h-1zM42 47h1v1h-1z"/>
<path fill="#28a47a" d="M43 13h1v1h-1zM51 14h1v1h-1zM41 15h1v1h-1zM36 16h2v1h-2zM35 17h1v1h-1zM35 18h1v1h-1zM42 19h1v1h-1zM51 19h1v1h-1zM15 20h1v1h-1zM33 20h1v1h-1zM42 20h2v1h-2zM13 21h1v1h-1zM33 21h1v1h-1zM36 21h2v1h-2zM40 21h2v1h-2zM49 21h1v1h-1zM31 22h1v1h-1zM49 22h1v1h-1zM41 23h1v1h-1zM42 24h1v1h-1zM9 25h1v1h-1zM42 26h1v1h-1zM47 26h1v1h-1zM39 27h1v1h-1zM42 28h1v1h-1zM36 29h1v1h-1zM42 29h2v1h-2zM42 30h2v1h-2zM48 30h1v1h-1zM44 31h1v1h-1zM45 32h3v1h-3zM39 34h1v1h-1zM46 34h2v1h-2zM45 35h1v1h-1zM34 36h1v1h-1zM36 36h1v1h-1zM39 36h1v1h-1zM38 37h2v1h-2zM33 38h1v1h-1zM38 38h1v1h-1zM33 39h1v1h-1zM34 40h1v1h-1zM39 40h1v1h-1zM33 41h4v1h-4zM40 41h1v1h-1zM42 41h1v1h-1zM44 41h1v1h-1zM34 42h1v1h-1zM34 43h1v1h-1zM42 43h1v1h-1zM33 44h1v1h-1zM36 44h1v1h-1zM40 44h1v1h-1zM42 44h1v1h-1zM35 45h2v1h-2zM38 45h1v1h-1zM40 45h2v1h-2zM35 46h1v1h-1zM41 46h1v1h-1zM40 47h2v1h-2zM43 47h1v1h-1z"/>
</g>
<g transform="translate(933.0 429.0) scale(5.6)">
<path fill="#a9abd0" d="M10 4h2v1h-2zM14 4h2v1h-2zM10 5h1v1h-1zM14 5h2v1h-2zM9 6h4v1h-4zM14 6h2v1h-2zM18 6h1v1h-1zM21 6h2v1h-2zM25 6h4v1h-4zM11 7h10v1h-10zM23 7h10v1h-10zM12 8h1v1h-1zM14 8h7v1h-7zM24 8h1v1h-1zM27 8h6v1h-6zM16 9h7v1h-7zM26 9h7v1h-7zM16 10h6v1h-6zM29 10h4v1h-4zM18 11h4v1h-4zM29 11h2v1h-2zM18 12h4v1h-4zM29 12h2v1h-2zM9 13h9v1h-9zM24 13h7v1h-7zM10 14h8v1h-8zM24 14h7v1h-7zM9 15h5v1h-5zM16 15h11v1h-11zM9 16h4v1h-4zM16 16h11v1h-11zM14 17h4v1h-4zM13 18h5v1h-5zM14 19h2v1h-2zM25 19h2v1h-2zM14 20h2v1h-2zM25 20h2v1h-2zM7 21h3v1h-3zM14 21h2v1h-2zM17 21h1v1h-1zM19 21h1v1h-1zM22 21h1v1h-1zM24 21h1v1h-1zM6 22h4v1h-4zM14 22h11v1h-11zM5 23h4v1h-4zM14 23h11v1h-11zM5 24h2v1h-2zM13 24h3v1h-3zM18 24h9v1h-9zM5 25h2v1h-2zM14 25h2v1h-2zM18 25h8v1h-8zM14 26h2v1h-2zM20 26h3v1h-3zM24 26h1v1h-1zM14 27h2v1h-2zM20 27h4v1h-4zM3 28h19v1h-19zM3 29h20v1h-20zM4 30h1v1h-1zM7 30h7v1h-7zM16 30h4v1h-4zM4 31h1v1h-1zM7 31h1v1h-1zM9 31h11v1h-11zM3 32h2v1h-2zM10 32h12v1h-12zM3 33h2v1h-2zM9 33h13v1h-13zM3 34h2v1h-2zM7 34h1v1h-1zM9 34h7v1h-7zM18 34h1v1h-1zM20 34h1v1h-1zM3 35h2v1h-2zM8 35h8v1h-8zM3 36h2v1h-2zM7 36h9v1h-9zM3 37h2v1h-2zM7 37h9v1h-9zM3 38h1v1h-1zM7 38h2v1h-2zM10 38h6v1h-6zM12 39h6v1h-6zM2 40h1v1h-1zM12 40h6v1h-6zM2 41h1v1h-1zM12 41h6v1h-6zM2 42h1v1h-1zM11 42h7v1h-7zM12 43h1v1h-1zM16 43h2v1h-2zM13 44h1v1h-1zM16 44h2v1h-2z"/>
<path fill="#efefef" d="M12 4h2v1h-2zM16 4h4v1h-4zM11 5h3v1h-3zM16 5h7v1h-7zM13 6h1v1h-1zM16 6h2v1h-2zM19 6h2v1h-2zM23 6h2v1h-2zM9 7h2v1h-2zM21 7h2v1h-2zM33 7h4v1h-4zM9 8h3v1h-3zM13 8h1v1h-1zM21 8h3v1h-3zM25 8h2v1h-2zM33 8h4v1h-4zM8 9h8v1h-8zM23 9h3v1h-3zM33 9h5v1h-5zM8 10h8v1h-8zM22 10h7v1h-7zM33 10h3v1h-3zM7 11h11v1h-11zM22 11h7v1h-7zM31 11h4v1h-4zM7 12h11v1h-11zM22 12h7v1h-7zM31 12h4v1h-4zM7 13h2v1h-2zM18 13h6v1h-6zM31 13h4v1h-4zM7 14h3v1h-3zM18 14h6v1h-6zM31 14h2v1h-2zM34 14h1v1h-1zM7 15h2v1h-2zM14 15h2v1h-2zM27 15h2v1h-2zM7 16h2v1h-2zM13 16h3v1h-3zM27 16h2v1h-2zM7 17h7v1h-7zM18 17h9v1h-9zM6 18h7v1h-7zM18 18h9v1h-9zM6 19h8v1h-8zM16 19h9v1h-9zM6 20h8v1h-8zM16 20h9v1h-9zM6 21h1v1h-1zM10 21h4v1h-4zM16 21h1v1h-1zM18 21h1v1h-1zM20 21h2v1h-2zM23 21h1v1h-1zM10 22h4v1h-4zM33 22h2v1h-2zM9 23h5v1h-5zM32 23h2v1h-2zM4 24h1v1h-1zM7 24h6v1h-6zM16 24h2v1h-2zM31 24h2v1h-2zM4 25h1v1h-1zM7 25h7v1h-7zM16 25h2v1h-2zM31 25h2v1h-2zM4 26h10v1h-10zM17 26h3v1h-3zM26 26h3v1h-3zM4 27h10v1h-10zM16 27h4v1h-4zM26 27h3v1h-3zM24 28h7v1h-7zM25 29h6v1h-6zM5 30h2v1h-2zM14 30h2v1h-2zM22 30h2v1h-2zM27 30h4v1h-4zM5 31h2v1h-2zM8 31h1v1h-1zM23 31h1v1h-1zM27 31h4v1h-4zM5 32h5v1h-5zM22 32h5v1h-5zM33 32h2v1h-2zM5 33h4v1h-4zM22 33h5v1h-5zM33 33h2v1h-2zM5 34h2v1h-2zM8 34h1v1h-1zM23 34h3v1h-3zM30 34h1v1h-1zM37 34h2v1h-2zM5 35h3v1h-3zM23 35h4v1h-4zM29 35h2v1h-2zM37 35h2v1h-2zM2 36h1v1h-1zM5 36h2v1h-2zM22 36h3v1h-3zM29 36h2v1h-2zM37 36h5v1h-5zM1 37h2v1h-2zM20 37h4v1h-4zM29 37h2v1h-2zM37 37h6v1h-6zM1 38h2v1h-2zM4 38h3v1h-3zM19 38h4v1h-4zM29 38h2v1h-2zM37 38h7v1h-7zM2 39h5v1h-5zM18 39h5v1h-5zM37 39h6v1h-6zM3 40h5v1h-5zM18 40h5v1h-5zM37 40h1v1h-1zM39 40h4v1h-4zM3 41h4v1h-4zM18 41h2v1h-2zM23 41h4v1h-4zM41 41h2v1h-2zM3 42h4v1h-4zM18 42h3v1h-3zM22 42h4v1h-4zM42 42h1v1h-1zM7 43h3v1h-3zM18 43h2v1h-2zM22 43h7v1h-7zM38 43h1v1h-1zM18 44h2v1h-2zM22 44h7v1h-7zM37 44h2v1h-2zM19 45h10v1h-10zM22 46h3v1h-3zM28 46h1v1h-1z"/>
<path fill="#0f2a7c" d="M38 9h1v1h-1zM44 10h1v1h-1zM39 11h1v1h-1zM45 11h5v1h-5zM44 12h6v1h-6zM43 13h7v1h-7zM33 14h1v1h-1zM44 14h5v1h-5zM29 15h2v1h-2zM33 15h2v1h-2zM44 15h4v1h-4zM29 16h2v1h-2zM33 16h2v1h-2zM44 16h1v1h-1zM46 16h3v1h-3zM31 17h4v1h-4zM44 17h2v1h-2zM47 17h1v1h-1zM31 18h4v1h-4zM37 18h1v1h-1zM43 18h3v1h-3zM47 18h1v1h-1zM31 19h2v1h-2zM40 19h8v1h-8zM31 20h2v1h-2zM40 20h7v1h-7zM31 21h2v1h-2zM37 21h1v1h-1zM39 21h7v1h-7zM35 22h11v1h-11zM38 23h6v1h-6zM45 23h1v1h-1zM40 24h4v1h-4zM36 25h1v1h-1zM40 25h4v1h-4zM45 25h1v1h-1zM23 26h1v1h-1zM40 26h3v1h-3zM44 26h1v1h-1zM42 27h3v1h-3zM42 28h3v1h-3zM42 29h3v1h-3zM42 30h2v1h-2zM41 31h3v1h-3zM22 34h1v1h-1zM41 34h1v1h-1zM18 35h1v1h-1zM22 35h1v1h-1zM18 36h1v1h-1zM17 37h1v1h-1zM26 38h1v1h-1zM31 39h1v1h-1zM7 41h1v1h-1zM38 41h1v1h-1zM38 42h1v1h-1zM35 43h3v1h-3zM34 44h3v1h-3zM35 47h2v1h-2z"/>
<path fill="#26c44d" d="M39 9h1v1h-1zM40 17h1v1h-1zM44 25h1v1h-1zM39 26h1v1h-1zM41 29h1v1h-1zM9 41h1v1h-1zM34 42h1v1h-1zM32 43h1v1h-1zM34 46h1v1h-1z"/>
<path fill="#c5563a" d="M36 10h5v1h-5zM42 10h1v1h-1zM35 11h4v1h-4zM35 12h5v1h-5zM35 13h3v1h-3zM39 13h1v1h-1zM35 14h5v1h-5zM31 15h2v1h-2zM35 15h3v1h-3zM31 16h2v1h-2zM35 16h3v1h-3zM29 19h2v1h-2zM29 20h2v1h-2zM27 21h4v1h-4zM26 22h7v1h-7zM26 23h5v1h-5zM34 23h1v1h-1zM27 24h4v1h-4zM33 24h2v1h-2zM37 24h3v1h-3zM27 25h4v1h-4zM33 25h1v1h-1zM37 25h3v1h-3zM16 26h1v1h-1zM29 26h1v1h-1zM31 26h3v1h-3zM36 26h3v1h-3zM24 27h2v1h-2zM29 27h1v1h-1zM31 27h4v1h-4zM36 27h4v1h-4zM22 28h2v1h-2zM31 28h3v1h-3zM36 28h3v1h-3zM23 29h2v1h-2zM31 29h8v1h-8zM20 30h2v1h-2zM25 30h2v1h-2zM31 30h5v1h-5zM37 30h3v1h-3zM20 31h2v1h-2zM24 31h3v1h-3zM31 31h4v1h-4zM36 31h4v1h-4zM27 32h6v1h-6zM35 32h7v1h-7zM27 33h6v1h-6zM35 33h6v1h-6zM16 34h2v1h-2zM19 34h1v1h-1zM21 34h1v1h-1zM26 34h4v1h-4zM32 34h5v1h-5zM39 34h2v1h-2zM42 34h2v1h-2zM2 35h1v1h-1zM16 35h1v1h-1zM19 35h3v1h-3zM27 35h2v1h-2zM32 35h2v1h-2zM35 35h2v1h-2zM39 35h4v1h-4zM16 36h2v1h-2zM20 36h2v1h-2zM25 36h4v1h-4zM31 36h1v1h-1zM35 36h2v1h-2zM42 36h1v1h-1zM5 37h2v1h-2zM16 37h1v1h-1zM18 37h2v1h-2zM24 37h1v1h-1zM26 37h3v1h-3zM31 37h2v1h-2zM34 37h3v1h-3zM9 38h1v1h-1zM16 38h3v1h-3zM23 38h3v1h-3zM27 38h2v1h-2zM34 38h3v1h-3zM7 39h5v1h-5zM23 39h6v1h-6zM30 39h1v1h-1zM33 39h4v1h-4zM8 40h4v1h-4zM23 40h3v1h-3zM28 40h2v1h-2zM31 40h1v1h-1zM33 40h3v1h-3zM38 40h1v1h-1zM8 41h1v1h-1zM10 41h2v1h-2zM20 41h3v1h-3zM27 41h3v1h-3zM31 41h3v1h-3zM35 41h3v1h-3zM39 41h2v1h-2zM7 42h4v1h-4zM21 42h1v1h-1zM26 42h4v1h-4zM31 42h1v1h-1zM35 42h3v1h-3zM39 42h3v1h-3zM10 43h2v1h-2zM13 43h3v1h-3zM20 43h2v1h-2zM29 43h3v1h-3zM33 43h2v1h-2zM39 43h3v1h-3zM14 44h2v1h-2zM20 44h2v1h-2zM29 44h2v1h-2zM39 44h2v1h-2zM29 45h4v1h-4zM39 45h2v1h-2zM29 46h4v1h-4zM39 46h2v1h-2zM34 47h1v1h-1zM37 47h2v1h-2z"/>
<path fill="#eeb01a" d="M41 10h1v1h-1zM43 10h1v1h-1zM41 16h1v1h-1zM27 17h1v1h-1zM27 18h2v1h-2zM27 20h2v1h-2zM25 21h1v1h-1zM25 22h1v1h-1zM34 25h1v1h-1zM33 36h1v1h-1zM27 40h1v1h-1z"/>
<path fill="#ffff0c" d="M40 11h1v1h-1zM42 11h1v1h-1zM40 15h1v1h-1zM46 17h1v1h-1zM36 18h1v1h-1zM35 21h1v1h-1zM26 25h1v1h-1zM41 30h1v1h-1zM41 33h1v1h-1zM31 34h1v1h-1zM37 46h1v1h-1z"/>
<path fill="#4ae610" d="M41 11h1v1h-1zM39 15h1v1h-1zM35 20h1v1h-1zM25 26h1v1h-1zM30 26h1v1h-1zM30 27h1v1h-1zM35 27h1v1h-1zM40 28h1v1h-1zM40 29h1v1h-1zM40 30h1v1h-1zM19 36h1v1h-1zM25 37h1v1h-1zM33 38h1v1h-1z"/>
<path fill="#0ede12" d="M43 11h1v1h-1zM35 19h1v1h-1zM24 30h1v1h-1zM35 31h1v1h-1zM40 31h1v1h-1zM42 32h1v1h-1zM42 33h1v1h-1zM32 36h1v1h-1zM32 39h1v1h-1zM32 42h1v1h-1zM33 44h1v1h-1zM34 45h1v1h-1z"/>
<path fill="#e8961e" d="M44 11h1v1h-1zM42 13h1v1h-1zM28 17h1v1h-1zM27 19h2v1h-2zM25 23h1v1h-1zM37 23h1v1h-1zM35 25h1v1h-1zM34 26h2v1h-2zM33 37h1v1h-1z"/>
<path fill="#f9e511" d="M40 12h3v1h-3zM41 14h1v1h-1zM43 14h1v1h-1zM41 15h1v1h-1zM42 16h2v1h-2zM30 17h1v1h-1zM36 17h1v1h-1zM29 18h1v1h-1zM42 18h1v1h-1zM22 31h1v1h-1zM30 40h1v1h-1zM33 45h1v1h-1zM35 45h1v1h-1z"/>
<path fill="#86ee0f" d="M43 12h1v1h-1zM42 17h1v1h-1zM35 18h1v1h-1zM41 18h1v1h-1zM46 18h1v1h-1zM36 19h1v1h-1zM36 20h2v1h-2zM44 24h2v1h-2zM34 28h2v1h-2zM41 28h1v1h-1zM43 32h1v1h-1zM34 36h1v1h-1zM33 42h1v1h-1zM36 45h1v1h-1z"/>
<path fill="#c3f70e" d="M38 13h1v1h-1zM42 14h1v1h-1zM43 15h1v1h-1zM40 16h1v1h-1zM35 17h1v1h-1zM43 17h1v1h-1zM30 18h1v1h-1zM36 21h1v1h-1zM43 26h1v1h-1zM39 28h1v1h-1zM43 33h1v1h-1zM17 35h1v1h-1zM31 35h1v1h-1zM34 35h1v1h-1zM35 46h2v1h-2z"/>
<path fill="#154580" d="M40 13h1v1h-1zM38 19h1v1h-1z"/>
<path fill="#207a88" d="M41 13h1v1h-1zM38 17h1v1h-1zM34 19h1v1h-1zM37 19h1v1h-1zM34 20h1v1h-1zM38 20h1v1h-1zM31 23h1v1h-1zM41 27h1v1h-1zM31 38h1v1h-1zM29 39h1v1h-1zM36 40h1v1h-1zM30 41h1v1h-1zM32 44h1v1h-1z"/>
<path fill="#28a47a" d="M40 14h1v1h-1zM38 15h1v1h-1zM39 17h1v1h-1zM39 19h1v1h-1zM39 20h1v1h-1zM38 21h1v1h-1zM35 23h2v1h-2z"/>
<path fill="#df8625" d="M42 15h1v1h-1zM26 40h1v1h-1z"/>
<path fill="#26948c" d="M48 15h1v1h-1zM38 16h1v1h-1zM38 18h1v1h-1zM40 18h1v1h-1zM33 20h1v1h-1zM34 21h1v1h-1zM36 30h1v1h-1zM32 38h1v1h-1zM32 40h1v1h-1zM38 45h1v1h-1zM38 46h1v1h-1z"/>
<path fill="#f4ca15" d="M39 16h1v1h-1zM45 16h1v1h-1zM29 17h1v1h-1zM41 17h1v1h-1zM26 21h1v1h-1z"/>
<path fill="#1a5f84" d="M37 17h1v1h-1zM33 19h1v1h-1zM33 21h1v1h-1zM40 27h1v1h-1zM30 42h1v1h-1zM37 45h1v1h-1z"/>
<path fill="#2ab468" d="M39 18h1v1h-1zM44 23h1v1h-1zM35 24h2v1h-2zM39 29h1v1h-1zM34 41h1v1h-1zM31 44h1v1h-1zM33 46h1v1h-1z"/>
</g>
<g transform="translate(305.0 715.0) scale(5.6)">
<path fill="#efefef" d="M11 4h3v1h-3zM9 5h5v1h-5zM9 6h5v1h-5zM9 7h5v1h-5zM29 7h1v1h-1zM9 8h1v1h-1zM11 8h4v1h-4zM28 8h1v1h-1zM33 8h2v1h-2zM37 8h1v1h-1zM11 9h5v1h-5zM33 9h2v1h-2zM37 9h6v1h-6zM12 10h4v1h-4zM33 10h2v1h-2zM37 10h7v1h-7zM39 11h4v1h-4zM24 12h1v1h-1zM31 12h3v1h-3zM40 12h4v1h-4zM14 13h2v1h-2zM33 13h4v1h-4zM40 13h1v1h-1zM44 13h2v1h-2zM13 14h3v1h-3zM33 14h4v1h-4zM39 14h3v1h-3zM43 14h2v1h-2zM39 15h3v1h-3zM34 16h1v1h-1zM39 16h3v1h-3zM32 18h2v1h-2zM36 18h1v1h-1zM20 19h1v1h-1zM32 19h2v1h-2zM36 19h1v1h-1zM39 19h1v1h-1zM20 20h1v1h-1zM32 20h2v1h-2zM36 20h1v1h-1zM39 20h1v1h-1zM13 21h2v1h-2zM25 21h2v1h-2zM30 21h2v1h-2zM39 21h1v1h-1zM8 22h2v1h-2zM25 22h2v1h-2zM30 22h2v1h-2zM9 23h2v1h-2zM24 23h2v1h-2zM34 23h1v1h-1zM38 23h1v1h-1zM42 23h1v1h-1zM44 23h1v1h-1zM16 24h3v1h-3zM33 24h2v1h-2zM44 24h2v1h-2zM7 25h3v1h-3zM16 25h3v1h-3zM33 25h2v1h-2zM44 25h2v1h-2zM6 26h4v1h-4zM6 27h1v1h-1zM38 27h1v1h-1zM6 28h1v1h-1zM38 28h1v1h-1zM12 30h2v1h-2zM35 32h1v1h-1zM38 32h1v1h-1zM7 33h1v1h-1zM18 33h1v1h-1zM22 33h1v1h-1zM11 34h3v1h-3zM18 34h2v1h-2zM23 34h1v1h-1zM32 34h1v1h-1zM18 35h2v1h-2zM22 35h2v1h-2zM31 35h2v1h-2zM39 35h2v1h-2zM17 36h3v1h-3zM23 36h2v1h-2zM35 36h1v1h-1zM37 36h2v1h-2zM43 36h1v1h-1zM16 37h6v1h-6zM38 37h1v1h-1zM4 38h1v1h-1zM16 38h1v1h-1zM18 38h4v1h-4zM36 38h1v1h-1zM38 38h1v1h-1zM2 39h3v1h-3zM18 39h4v1h-4zM33 39h7v1h-7zM2 40h1v1h-1zM18 40h4v1h-4zM33 40h6v1h-6zM41 40h3v1h-3zM20 41h1v1h-1zM35 41h9v1h-9zM35 42h8v1h-8zM3 43h1v1h-1zM32 43h1v1h-1zM39 43h4v1h-4zM23 44h1v1h-1zM32 44h1v1h-1zM39 44h4v1h-4zM23 45h1v1h-1zM23 46h1v1h-1zM26 46h1v1h-1zM37 47h3v1h-3zM38 48h2v1h-2z"/>
<path fill="#f4ca15" d="M15 4h1v1h-1zM27 7h1v1h-1zM15 8h1v1h-1zM27 8h1v1h-1zM17 9h1v1h-1zM29 10h1v1h-1zM31 10h1v1h-1zM9 11h1v1h-1zM20 11h1v1h-1zM34 11h1v1h-1zM36 11h1v1h-1zM9 12h2v1h-2zM36 12h1v1h-1zM10 13h1v1h-1zM13 13h1v1h-1zM29 13h2v1h-2zM46 13h1v1h-1zM49 13h1v1h-1zM10 14h1v1h-1zM23 14h1v1h-1zM29 14h1v1h-1zM37 14h1v1h-1zM42 14h1v1h-1zM45 14h1v1h-1zM16 16h1v1h-1zM22 16h1v1h-1zM25 16h2v1h-2zM17 17h1v1h-1zM27 17h1v1h-1zM31 17h1v1h-1zM8 18h1v1h-1zM22 18h1v1h-1zM9 19h1v1h-1zM29 19h1v1h-1zM11 20h1v1h-1zM11 21h2v1h-2zM23 21h1v1h-1zM33 21h1v1h-1zM38 21h1v1h-1zM10 22h1v1h-1zM36 22h4v1h-4zM42 22h1v1h-1zM13 23h1v1h-1zM33 23h1v1h-1zM39 23h1v1h-1zM11 24h1v1h-1zM46 24h1v1h-1zM13 26h1v1h-1zM22 26h1v1h-1zM13 27h3v1h-3zM44 27h1v1h-1zM12 29h2v1h-2zM29 29h1v1h-1zM32 29h2v1h-2zM38 29h1v1h-1zM30 30h1v1h-1zM20 31h1v1h-1zM34 32h1v1h-1zM29 33h1v1h-1zM31 33h1v1h-1zM8 34h1v1h-1zM43 34h1v1h-1zM4 35h1v1h-1zM7 35h1v1h-1zM37 35h1v1h-1zM26 36h1v1h-1zM34 36h1v1h-1zM33 37h1v1h-1zM35 37h1v1h-1zM37 37h1v1h-1zM24 40h1v1h-1zM3 41h1v1h-1zM25 41h1v1h-1zM27 41h2v1h-2zM4 42h1v1h-1zM24 42h2v1h-2zM20 43h1v1h-1zM11 44h1v1h-1zM20 45h1v1h-1zM27 45h1v1h-1zM32 45h2v1h-2zM35 45h1v1h-1zM38 45h1v1h-1zM29 46h1v1h-1zM40 49h1v1h-1z"/>
<path fill="#0ede12" d="M16 4h1v1h-1zM16 6h2v1h-2zM20 6h1v1h-1zM16 7h1v1h-1zM19 7h1v1h-1zM21 7h1v1h-1zM10 8h1v1h-1zM18 8h1v1h-1zM20 9h1v1h-1zM28 9h1v1h-1zM11 10h1v1h-1zM28 10h1v1h-1zM48 10h1v1h-1zM15 11h1v1h-1zM28 11h1v1h-1zM31 15h1v1h-1zM33 15h1v1h-1zM42 15h2v1h-2zM33 16h1v1h-1zM46 16h1v1h-1zM14 17h1v1h-1zM34 17h2v1h-2zM38 17h2v1h-2zM34 18h1v1h-1zM37 18h1v1h-1zM41 18h1v1h-1zM44 18h1v1h-1zM12 19h1v1h-1zM16 19h2v1h-2zM35 19h1v1h-1zM14 20h1v1h-1zM16 20h1v1h-1zM41 20h1v1h-1zM19 21h1v1h-1zM45 21h1v1h-1zM15 22h1v1h-1zM17 22h1v1h-1zM28 23h3v1h-3zM6 24h1v1h-1zM20 24h1v1h-1zM26 24h1v1h-1zM31 24h1v1h-1zM37 24h2v1h-2zM30 25h1v1h-1zM36 25h1v1h-1zM16 26h1v1h-1zM18 26h1v1h-1zM39 26h1v1h-1zM17 27h2v1h-2zM31 27h1v1h-1zM33 27h1v1h-1zM40 27h1v1h-1zM27 28h1v1h-1zM42 28h1v1h-1zM45 28h1v1h-1zM40 29h1v1h-1zM42 29h1v1h-1zM23 30h1v1h-1zM26 30h1v1h-1zM39 30h1v1h-1zM41 30h1v1h-1zM23 31h1v1h-1zM40 31h2v1h-2zM43 31h1v1h-1zM23 32h1v1h-1zM42 32h1v1h-1zM44 32h1v1h-1zM28 33h1v1h-1zM36 33h1v1h-1zM39 33h1v1h-1zM41 33h1v1h-1zM44 33h1v1h-1zM17 34h1v1h-1zM20 34h2v1h-2zM24 34h1v1h-1zM10 35h1v1h-1zM16 35h1v1h-1zM26 35h1v1h-1zM36 35h1v1h-1zM27 36h1v1h-1zM39 36h1v1h-1zM41 36h1v1h-1zM7 37h3v1h-3zM13 37h1v1h-1zM40 37h1v1h-1zM42 37h2v1h-2zM27 38h1v1h-1zM39 38h2v1h-2zM42 38h1v1h-1zM42 39h1v1h-1zM6 40h1v1h-1zM8 40h1v1h-1zM9 41h2v1h-2zM29 41h1v1h-1zM31 41h1v1h-1zM8 42h2v1h-2zM12 42h1v1h-1zM14 42h2v1h-2zM20 42h1v1h-1zM22 42h1v1h-1zM33 42h1v1h-1zM6 43h1v1h-1zM16 43h1v1h-1zM18 43h2v1h-2zM29 43h1v1h-1zM35 43h1v1h-1zM36 44h2v1h-2zM18 45h1v1h-1zM33 48h1v1h-1z"/>
<path fill="#df8625" d="M14 5h1v1h-1zM14 6h2v1h-2zM35 8h1v1h-1zM16 9h1v1h-1zM36 10h1v1h-1zM19 11h1v1h-1zM33 11h1v1h-1zM37 11h2v1h-2zM39 12h1v1h-1zM26 13h1v1h-1zM39 13h1v1h-1zM41 13h1v1h-1zM18 14h2v1h-2zM22 14h1v1h-1zM24 14h1v1h-1zM26 14h1v1h-1zM15 15h2v1h-2zM18 16h4v1h-4zM28 16h1v1h-1zM8 17h1v1h-1zM18 17h1v1h-1zM18 18h2v1h-2zM8 20h1v1h-1zM42 24h1v1h-1zM15 28h1v1h-1zM22 28h1v1h-1zM16 29h1v1h-1zM20 29h1v1h-1zM37 29h1v1h-1zM32 31h1v1h-1zM30 32h1v1h-1zM32 32h1v1h-1zM30 33h1v1h-1zM36 37h1v1h-1zM25 38h2v1h-2zM25 40h1v1h-1zM2 41h1v1h-1zM3 42h1v1h-1zM24 43h1v1h-1zM21 45h2v1h-2zM26 45h1v1h-1zM40 46h1v1h-1zM29 48h1v1h-1zM31 48h1v1h-1z"/>
<path fill="#e8961e" d="M15 5h1v1h-1zM28 7h1v1h-1zM30 9h1v1h-1zM32 9h1v1h-1zM35 9h1v1h-1zM35 10h1v1h-1zM44 10h1v1h-1zM16 11h1v1h-1zM18 11h1v1h-1zM21 11h1v1h-1zM23 11h1v1h-1zM35 11h1v1h-1zM44 11h1v1h-1zM17 12h2v1h-2zM21 12h1v1h-1zM35 12h1v1h-1zM38 12h1v1h-1zM9 13h1v1h-1zM11 13h1v1h-1zM17 13h1v1h-1zM20 13h1v1h-1zM22 13h2v1h-2zM9 14h1v1h-1zM11 14h1v1h-1zM16 14h1v1h-1zM28 14h1v1h-1zM7 15h1v1h-1zM14 15h1v1h-1zM21 15h1v1h-1zM8 16h1v1h-1zM14 16h2v1h-2zM20 17h1v1h-1zM30 17h1v1h-1zM17 18h1v1h-1zM23 18h1v1h-1zM30 19h1v1h-1zM23 20h1v1h-1zM35 21h1v1h-1zM12 22h1v1h-1zM11 23h1v1h-1zM27 24h1v1h-1zM43 24h1v1h-1zM40 25h1v1h-1zM43 25h1v1h-1zM14 26h1v1h-1zM23 26h1v1h-1zM46 26h1v1h-1zM23 27h1v1h-1zM21 28h1v1h-1zM23 28h1v1h-1zM17 29h1v1h-1zM23 29h1v1h-1zM4 30h1v1h-1zM33 30h2v1h-2zM29 31h3v1h-3zM34 31h1v1h-1zM4 32h1v1h-1zM31 32h1v1h-1zM3 33h1v1h-1zM6 33h1v1h-1zM3 34h1v1h-1zM5 34h2v1h-2zM24 37h1v1h-1zM25 39h1v1h-1zM3 40h1v1h-1zM26 40h1v1h-1zM26 41h1v1h-1zM2 42h1v1h-1zM26 42h1v1h-1zM2 43h1v1h-1zM10 43h2v1h-2zM23 43h1v1h-1zM24 44h1v1h-1zM14 45h1v1h-1zM34 45h1v1h-1zM39 45h2v1h-2zM35 46h1v1h-1zM29 47h2v1h-2zM32 47h1v1h-1zM40 47h1v1h-1zM30 48h1v1h-1z"/>
<path fill="#4ae610" d="M16 5h1v1h-1zM18 6h2v1h-2zM20 7h1v1h-1zM16 8h1v1h-1zM20 8h1v1h-1zM24 8h1v1h-1zM9 9h2v1h-2zM19 9h1v1h-1zM9 10h1v1h-1zM19 10h1v1h-1zM22 10h1v1h-1zM27 10h1v1h-1zM12 11h1v1h-1zM14 11h1v1h-1zM25 11h1v1h-1zM27 11h1v1h-1zM46 11h1v1h-1zM15 12h1v1h-1zM47 12h3v1h-3zM31 14h2v1h-2zM34 15h2v1h-2zM47 15h2v1h-2zM32 16h1v1h-1zM36 16h1v1h-1zM42 16h1v1h-1zM44 16h1v1h-1zM33 17h1v1h-1zM36 17h1v1h-1zM41 17h1v1h-1zM46 17h1v1h-1zM26 18h1v1h-1zM35 18h1v1h-1zM39 18h1v1h-1zM47 18h1v1h-1zM15 19h1v1h-1zM23 19h1v1h-1zM26 20h1v1h-1zM18 21h1v1h-1zM27 21h1v1h-1zM44 21h1v1h-1zM29 22h1v1h-1zM45 22h1v1h-1zM8 23h1v1h-1zM14 23h1v1h-1zM17 23h1v1h-1zM22 23h1v1h-1zM26 23h1v1h-1zM21 24h1v1h-1zM24 24h2v1h-2zM29 24h2v1h-2zM35 24h2v1h-2zM21 25h1v1h-1zM24 25h1v1h-1zM26 25h1v1h-1zM32 25h1v1h-1zM43 26h1v1h-1zM16 27h1v1h-1zM21 27h1v1h-1zM24 27h1v1h-1zM27 27h2v1h-2zM37 27h1v1h-1zM42 27h2v1h-2zM44 28h1v1h-1zM16 30h1v1h-1zM22 30h1v1h-1zM28 30h1v1h-1zM37 30h1v1h-1zM42 31h1v1h-1zM43 32h1v1h-1zM45 32h1v1h-1zM10 34h1v1h-1zM31 34h1v1h-1zM36 34h1v1h-1zM39 34h2v1h-2zM42 34h1v1h-1zM44 34h1v1h-1zM9 35h1v1h-1zM35 35h1v1h-1zM41 35h1v1h-1zM6 36h1v1h-1zM8 36h1v1h-1zM42 36h1v1h-1zM11 37h2v1h-2zM27 37h1v1h-1zM8 38h2v1h-2zM30 38h1v1h-1zM10 39h1v1h-1zM40 39h1v1h-1zM5 40h1v1h-1zM9 40h1v1h-1zM11 40h1v1h-1zM6 41h1v1h-1zM8 41h1v1h-1zM22 41h1v1h-1zM32 41h2v1h-2zM7 42h1v1h-1zM13 42h1v1h-1zM29 42h4v1h-4zM34 42h1v1h-1zM14 43h1v1h-1zM31 43h1v1h-1zM33 43h2v1h-2zM19 44h1v1h-1zM29 44h1v1h-1zM31 44h1v1h-1zM38 44h1v1h-1zM34 48h1v1h-1z"/>
<path fill="#28a47a" d="M21 6h1v1h-1zM23 7h1v1h-1zM25 8h2v1h-2zM24 9h1v1h-1zM26 9h1v1h-1zM31 13h1v1h-1zM47 16h1v1h-1zM42 17h1v1h-1zM45 17h1v1h-1zM43 18h1v1h-1zM6 20h1v1h-1zM42 20h1v1h-1zM46 22h1v1h-1zM46 23h2v1h-2zM19 24h1v1h-1zM11 28h1v1h-1zM44 29h1v1h-1zM18 30h1v1h-1zM25 30h1v1h-1zM10 31h1v1h-1zM18 31h1v1h-1zM26 31h1v1h-1zM44 31h2v1h-2zM11 32h1v1h-1zM15 32h1v1h-1zM17 32h1v1h-1zM14 33h1v1h-1zM20 33h1v1h-1zM14 34h1v1h-1zM15 35h1v1h-1zM29 37h2v1h-2zM41 38h1v1h-1zM31 39h1v1h-1zM7 40h1v1h-1zM15 40h1v1h-1zM31 40h2v1h-2zM18 42h1v1h-1zM8 43h1v1h-1z"/>
<path fill="#26948c" d="M22 6h1v1h-1zM24 7h1v1h-1zM23 9h1v1h-1zM25 9h1v1h-1zM47 21h1v1h-1zM6 22h1v1h-1zM6 23h1v1h-1zM10 26h1v1h-1zM7 27h2v1h-2zM5 29h1v1h-1zM8 29h1v1h-1zM11 29h1v1h-1zM9 30h2v1h-2zM24 30h1v1h-1zM44 30h2v1h-2zM19 31h1v1h-1zM20 32h1v1h-1zM10 33h2v1h-2zM21 33h1v1h-1zM24 33h1v1h-1zM26 33h2v1h-2zM28 34h1v1h-1zM28 35h2v1h-2zM16 36h1v1h-1zM32 36h1v1h-1zM2 38h1v1h-1zM16 41h1v1h-1zM16 42h2v1h-2z"/>
<path fill="#d6762c" d="M14 7h1v1h-1zM44 12h1v1h-1zM18 13h2v1h-2zM27 13h1v1h-1zM37 13h1v1h-1zM17 14h1v1h-1zM21 14h1v1h-1zM25 14h1v1h-1zM27 14h1v1h-1zM17 15h1v1h-1zM19 15h1v1h-1zM24 15h1v1h-1zM27 15h2v1h-2zM19 17h1v1h-1zM46 25h1v1h-1zM16 28h1v1h-1zM20 28h1v1h-1zM15 29h1v1h-1zM18 29h2v1h-2zM22 29h1v1h-1zM5 31h1v1h-1zM33 31h1v1h-1zM5 32h2v1h-2zM22 43h1v1h-1zM26 43h1v1h-1zM24 45h2v1h-2zM24 46h2v1h-2zM31 47h1v1h-1zM32 48h1v1h-1z"/>
<path fill="#f9e511" d="M15 7h1v1h-1zM29 8h1v1h-1zM29 9h1v1h-1zM8 10h1v1h-1zM16 10h1v1h-1zM30 10h1v1h-1zM11 11h1v1h-1zM22 11h1v1h-1zM8 12h1v1h-1zM11 12h1v1h-1zM20 12h1v1h-1zM8 13h1v1h-1zM12 13h1v1h-1zM7 14h2v1h-2zM12 14h1v1h-1zM30 14h1v1h-1zM46 14h1v1h-1zM11 15h1v1h-1zM13 15h1v1h-1zM37 15h1v1h-1zM9 16h2v1h-2zM38 16h1v1h-1zM12 17h1v1h-1zM16 17h1v1h-1zM22 17h1v1h-1zM25 17h1v1h-1zM32 17h1v1h-1zM7 18h1v1h-1zM16 18h1v1h-1zM24 18h1v1h-1zM24 19h1v1h-1zM31 19h1v1h-1zM9 20h2v1h-2zM21 20h2v1h-2zM25 20h1v1h-1zM13 22h1v1h-1zM21 22h1v1h-1zM23 22h1v1h-1zM40 22h2v1h-2zM43 22h1v1h-1zM35 23h1v1h-1zM40 23h1v1h-1zM43 23h1v1h-1zM9 24h2v1h-2zM13 24h1v1h-1zM22 24h1v1h-1zM40 24h2v1h-2zM11 25h1v1h-1zM13 25h1v1h-1zM15 26h1v1h-1zM36 26h1v1h-1zM12 27h1v1h-1zM36 27h1v1h-1zM24 28h1v1h-1zM25 29h2v1h-2zM34 29h1v1h-1zM35 30h1v1h-1zM33 32h1v1h-1zM3 35h1v1h-1zM8 35h1v1h-1zM20 35h1v1h-1zM38 35h1v1h-1zM4 36h1v1h-1zM34 37h1v1h-1zM33 38h1v1h-1zM35 38h1v1h-1zM9 39h1v1h-1zM29 40h1v1h-1zM21 41h1v1h-1zM24 41h1v1h-1zM28 42h1v1h-1zM27 43h1v1h-1zM14 44h2v1h-2zM27 44h2v1h-2zM15 45h1v1h-1zM30 45h2v1h-2zM36 46h3v1h-3zM35 47h2v1h-2zM36 49h1v1h-1z"/>
<path fill="#c3f70e" d="M17 7h1v1h-1zM26 11h1v1h-1zM31 11h2v1h-2zM12 12h2v1h-2zM25 12h2v1h-2zM30 12h1v1h-1zM10 15h1v1h-1zM44 15h2v1h-2zM49 15h1v1h-1zM29 16h1v1h-1zM45 16h1v1h-1zM11 17h1v1h-1zM24 17h1v1h-1zM47 17h1v1h-1zM10 18h2v1h-2zM13 18h1v1h-1zM21 18h1v1h-1zM38 18h1v1h-1zM40 18h1v1h-1zM7 19h1v1h-1zM11 19h1v1h-1zM26 19h1v1h-1zM13 20h1v1h-1zM19 20h1v1h-1zM37 20h1v1h-1zM40 20h1v1h-1zM9 21h2v1h-2zM16 21h2v1h-2zM21 21h1v1h-1zM36 21h1v1h-1zM40 21h1v1h-1zM42 21h1v1h-1zM14 22h1v1h-1zM18 22h3v1h-3zM33 22h1v1h-1zM44 22h1v1h-1zM21 23h1v1h-1zM27 23h1v1h-1zM14 24h2v1h-2zM23 24h1v1h-1zM15 25h1v1h-1zM20 25h1v1h-1zM22 25h1v1h-1zM29 25h1v1h-1zM31 25h1v1h-1zM30 26h1v1h-1zM35 26h1v1h-1zM25 27h1v1h-1zM30 27h1v1h-1zM29 28h2v1h-2zM33 28h1v1h-1zM27 29h1v1h-1zM30 29h2v1h-2zM27 30h1v1h-1zM40 30h1v1h-1zM21 31h1v1h-1zM27 31h1v1h-1zM37 31h1v1h-1zM39 31h1v1h-1zM37 32h1v1h-1zM8 33h1v1h-1zM37 33h2v1h-2zM33 34h1v1h-1zM24 35h2v1h-2zM42 35h1v1h-1zM44 35h1v1h-1zM7 36h1v1h-1zM11 36h1v1h-1zM20 36h2v1h-2zM33 36h1v1h-1zM40 36h1v1h-1zM4 37h2v1h-2zM22 37h1v1h-1zM39 37h1v1h-1zM5 38h1v1h-1zM10 38h1v1h-1zM23 38h1v1h-1zM37 38h1v1h-1zM11 39h1v1h-1zM22 39h2v1h-2zM28 39h2v1h-2zM4 40h1v1h-1zM10 40h1v1h-1zM22 40h1v1h-1zM27 40h1v1h-1zM5 41h1v1h-1zM7 41h1v1h-1zM6 42h1v1h-1zM21 42h1v1h-1zM23 42h1v1h-1zM12 43h1v1h-1zM37 43h1v1h-1zM12 44h1v1h-1zM20 44h1v1h-1zM30 44h1v1h-1zM28 45h1v1h-1zM27 46h1v1h-1zM36 48h1v1h-1z"/>
<path fill="#26c44d" d="M18 7h1v1h-1zM25 7h2v1h-2zM21 8h1v1h-1zM21 9h1v1h-1zM23 10h1v1h-1zM25 10h2v1h-2zM46 10h2v1h-2zM49 10h1v1h-1zM48 11h1v1h-1zM28 12h1v1h-1zM32 15h1v1h-1zM35 16h1v1h-1zM48 16h1v1h-1zM44 17h1v1h-1zM15 18h1v1h-1zM42 18h1v1h-1zM45 18h1v1h-1zM6 19h1v1h-1zM28 19h1v1h-1zM40 19h2v1h-2zM45 19h2v1h-2zM27 20h1v1h-1zM44 20h1v1h-1zM47 20h1v1h-1zM16 22h1v1h-1zM27 22h1v1h-1zM15 23h2v1h-2zM17 26h1v1h-1zM39 27h1v1h-1zM41 27h1v1h-1zM39 29h1v1h-1zM43 29h1v1h-1zM45 29h1v1h-1zM7 30h1v1h-1zM15 30h1v1h-1zM17 30h1v1h-1zM7 31h1v1h-1zM13 31h2v1h-2zM16 31h1v1h-1zM7 32h1v1h-1zM14 32h1v1h-1zM28 32h1v1h-1zM39 32h1v1h-1zM9 33h1v1h-1zM13 33h1v1h-1zM15 33h1v1h-1zM40 33h1v1h-1zM9 34h1v1h-1zM29 34h2v1h-2zM11 35h1v1h-1zM17 35h1v1h-1zM27 35h1v1h-1zM10 36h1v1h-1zM12 36h1v1h-1zM31 36h1v1h-1zM32 37h1v1h-1zM41 37h1v1h-1zM12 38h1v1h-1zM31 38h1v1h-1zM12 39h1v1h-1zM32 39h1v1h-1zM41 39h1v1h-1zM13 40h1v1h-1zM28 40h1v1h-1zM39 40h1v1h-1zM13 41h2v1h-2zM34 41h1v1h-1zM19 42h1v1h-1zM36 43h1v1h-1zM17 44h1v1h-1zM17 45h1v1h-1zM34 47h1v1h-1z"/>
<path fill="#207a88" d="M22 7h1v1h-1zM22 8h2v1h-2zM15 20h1v1h-1zM45 20h1v1h-1zM46 21h1v1h-1zM19 25h1v1h-1zM9 28h1v1h-1zM4 29h1v1h-1zM6 29h1v1h-1zM9 29h2v1h-2zM11 30h1v1h-1zM8 31h2v1h-2zM9 32h1v1h-1zM16 32h1v1h-1zM18 32h2v1h-2zM21 32h1v1h-1zM26 32h1v1h-1zM16 33h1v1h-1zM25 33h1v1h-1zM27 34h1v1h-1zM14 35h1v1h-1zM31 37h1v1h-1zM32 38h1v1h-1zM14 40h1v1h-1zM16 40h1v1h-1z"/>
<path fill="#2ab468" d="M17 8h1v1h-1zM10 10h1v1h-1zM24 10h1v1h-1zM47 11h1v1h-1zM43 16h1v1h-1zM43 17h1v1h-1zM14 19h1v1h-1zM43 19h2v1h-2zM47 19h1v1h-1zM43 20h1v1h-1zM46 20h1v1h-1zM6 21h1v1h-1zM7 22h1v1h-1zM32 22h1v1h-1zM18 23h2v1h-2zM31 23h1v1h-1zM32 24h1v1h-1zM37 25h2v1h-2zM11 26h1v1h-1zM20 26h2v1h-2zM41 26h1v1h-1zM11 27h1v1h-1zM41 28h1v1h-1zM43 28h1v1h-1zM41 29h1v1h-1zM8 30h1v1h-1zM14 30h1v1h-1zM19 30h1v1h-1zM43 30h1v1h-1zM11 31h2v1h-2zM15 31h1v1h-1zM17 31h1v1h-1zM24 31h1v1h-1zM12 32h2v1h-2zM27 32h1v1h-1zM36 32h1v1h-1zM40 32h1v1h-1zM12 33h1v1h-1zM19 33h1v1h-1zM35 33h1v1h-1zM15 34h2v1h-2zM26 34h1v1h-1zM13 36h1v1h-1zM28 36h3v1h-3zM6 37h1v1h-1zM28 37h1v1h-1zM6 38h1v1h-1zM13 38h1v1h-1zM13 39h1v1h-1zM12 40h1v1h-1zM40 40h1v1h-1zM12 41h1v1h-1zM15 41h1v1h-1zM19 41h1v1h-1zM11 42h1v1h-1zM7 43h1v1h-1zM17 43h1v1h-1zM8 44h1v1h-1zM16 44h1v1h-1zM18 44h1v1h-1zM16 45h1v1h-1z"/>
<path fill="#ffff0c" d="M19 8h1v1h-1zM32 10h1v1h-1zM10 11h1v1h-1zM29 11h1v1h-1zM29 12h1v1h-1zM47 14h3v1h-3zM29 15h2v1h-2zM38 15h1v1h-1zM30 16h1v1h-1zM9 17h1v1h-1zM13 17h1v1h-1zM23 17h1v1h-1zM26 17h1v1h-1zM29 17h1v1h-1zM12 18h1v1h-1zM20 18h1v1h-1zM25 18h1v1h-1zM28 18h1v1h-1zM10 19h1v1h-1zM18 19h1v1h-1zM21 19h2v1h-2zM25 19h1v1h-1zM7 20h1v1h-1zM12 20h1v1h-1zM18 20h1v1h-1zM24 20h1v1h-1zM29 20h1v1h-1zM8 21h1v1h-1zM20 21h1v1h-1zM29 21h1v1h-1zM34 21h1v1h-1zM37 21h1v1h-1zM28 22h1v1h-1zM7 23h1v1h-1zM20 23h1v1h-1zM23 23h1v1h-1zM36 23h2v1h-2zM5 24h1v1h-1zM7 24h1v1h-1zM39 24h1v1h-1zM10 25h1v1h-1zM12 25h1v1h-1zM14 25h1v1h-1zM23 25h1v1h-1zM28 25h1v1h-1zM39 25h1v1h-1zM41 25h2v1h-2zM12 26h1v1h-1zM26 26h1v1h-1zM28 26h2v1h-2zM38 26h1v1h-1zM42 26h1v1h-1zM45 26h1v1h-1zM19 27h1v1h-1zM29 27h1v1h-1zM32 27h1v1h-1zM35 27h1v1h-1zM45 27h1v1h-1zM25 28h2v1h-2zM32 28h1v1h-1zM35 28h1v1h-1zM39 28h1v1h-1zM28 29h1v1h-1zM35 29h2v1h-2zM5 30h1v1h-1zM38 30h1v1h-1zM28 31h1v1h-1zM7 34h1v1h-1zM34 34h1v1h-1zM37 34h2v1h-2zM5 35h1v1h-1zM33 35h2v1h-2zM43 35h1v1h-1zM5 36h1v1h-1zM3 37h1v1h-1zM10 37h1v1h-1zM23 37h1v1h-1zM3 38h1v1h-1zM34 38h1v1h-1zM24 39h1v1h-1zM30 39h1v1h-1zM23 40h1v1h-1zM30 40h1v1h-1zM30 41h1v1h-1zM27 42h1v1h-1zM9 43h1v1h-1zM15 43h1v1h-1zM21 43h1v1h-1zM28 43h1v1h-1zM30 43h1v1h-1zM38 43h1v1h-1zM9 44h1v1h-1zM13 44h1v1h-1zM35 44h1v1h-1zM29 45h1v1h-1zM28 46h1v1h-1zM34 46h1v1h-1zM35 48h1v1h-1zM35 49h1v1h-1z"/>
<path fill="#eeb01a" d="M30 8h3v1h-3zM36 8h1v1h-1zM31 9h1v1h-1zM45 10h1v1h-1zM16 12h1v1h-1zM19 12h1v1h-1zM22 12h2v1h-2zM37 12h1v1h-1zM45 12h1v1h-1zM16 13h1v1h-1zM28 13h1v1h-1zM38 13h1v1h-1zM42 13h2v1h-2zM47 13h1v1h-1zM38 14h1v1h-1zM8 15h2v1h-2zM18 15h1v1h-1zM22 15h2v1h-2zM25 15h2v1h-2zM7 16h1v1h-1zM11 16h1v1h-1zM17 16h1v1h-1zM23 16h2v1h-2zM7 17h1v1h-1zM21 17h1v1h-1zM28 17h1v1h-1zM29 18h3v1h-3zM8 19h1v1h-1zM30 20h2v1h-2zM34 20h1v1h-1zM41 21h1v1h-1zM11 22h1v1h-1zM34 22h2v1h-2zM12 23h1v1h-1zM41 23h1v1h-1zM12 24h1v1h-1zM27 25h1v1h-1zM44 26h1v1h-1zM22 27h1v1h-1zM46 27h1v1h-1zM12 28h1v1h-1zM36 28h2v1h-2zM21 29h1v1h-1zM24 29h1v1h-1zM6 30h1v1h-1zM20 30h2v1h-2zM29 30h1v1h-1zM31 30h2v1h-2zM4 31h1v1h-1zM6 31h1v1h-1zM29 32h1v1h-1zM32 33h2v1h-2zM4 34h1v1h-1zM6 35h1v1h-1zM25 36h1v1h-1zM36 36h1v1h-1zM25 37h2v1h-2zM24 38h1v1h-1zM26 39h1v1h-1zM4 41h1v1h-1zM4 43h1v1h-1zM10 44h1v1h-1zM21 44h1v1h-1zM36 45h2v1h-2zM30 46h4v1h-4zM39 46h1v1h-1zM41 46h1v1h-1zM28 47h1v1h-1zM28 48h1v1h-1zM37 48h1v1h-1zM40 48h1v1h-1z"/>
<path fill="#86ee0f" d="M8 9h1v1h-1zM18 9h1v1h-1zM22 9h1v1h-1zM27 9h1v1h-1zM17 10h2v1h-2zM20 10h2v1h-2zM8 11h1v1h-1zM13 11h1v1h-1zM24 11h1v1h-1zM30 11h1v1h-1zM49 11h1v1h-1zM14 12h1v1h-1zM27 12h1v1h-1zM34 12h1v1h-1zM46 12h1v1h-1zM32 13h1v1h-1zM48 13h1v1h-1zM12 15h1v1h-1zM36 15h1v1h-1zM46 15h1v1h-1zM12 16h2v1h-2zM31 16h1v1h-1zM37 16h1v1h-1zM10 17h1v1h-1zM15 17h1v1h-1zM37 17h1v1h-1zM40 17h1v1h-1zM9 18h1v1h-1zM14 18h1v1h-1zM27 18h1v1h-1zM46 18h1v1h-1zM13 19h1v1h-1zM19 19h1v1h-1zM27 19h1v1h-1zM34 19h1v1h-1zM37 19h2v1h-2zM17 20h1v1h-1zM28 20h1v1h-1zM35 20h1v1h-1zM38 20h1v1h-1zM7 21h1v1h-1zM15 21h1v1h-1zM22 21h1v1h-1zM24 21h1v1h-1zM28 21h1v1h-1zM32 21h1v1h-1zM43 21h1v1h-1zM22 22h1v1h-1zM24 22h1v1h-1zM32 23h1v1h-1zM45 23h1v1h-1zM8 24h1v1h-1zM28 24h1v1h-1zM5 25h2v1h-2zM25 25h1v1h-1zM35 25h1v1h-1zM19 26h1v1h-1zM24 26h2v1h-2zM27 26h1v1h-1zM31 26h4v1h-4zM37 26h1v1h-1zM40 26h1v1h-1zM20 27h1v1h-1zM26 27h1v1h-1zM34 27h1v1h-1zM28 28h1v1h-1zM31 28h1v1h-1zM34 28h1v1h-1zM40 28h1v1h-1zM36 30h1v1h-1zM42 30h1v1h-1zM22 31h1v1h-1zM35 31h2v1h-2zM38 31h1v1h-1zM8 32h1v1h-1zM41 32h1v1h-1zM42 33h2v1h-2zM22 34h1v1h-1zM25 34h1v1h-1zM35 34h1v1h-1zM41 34h1v1h-1zM21 35h1v1h-1zM3 36h1v1h-1zM9 36h1v1h-1zM22 36h1v1h-1zM7 38h1v1h-1zM11 38h1v1h-1zM22 38h1v1h-1zM28 38h2v1h-2zM5 39h4v1h-4zM27 39h1v1h-1zM11 41h1v1h-1zM23 41h1v1h-1zM5 42h1v1h-1zM10 42h1v1h-1zM5 43h1v1h-1zM13 43h1v1h-1zM33 44h2v1h-2zM19 45h1v1h-1zM33 47h1v1h-1z"/>
<path fill="#ce6633" d="M36 9h1v1h-1zM17 11h1v1h-1zM43 11h1v1h-1zM21 13h1v1h-1zM24 13h1v1h-1zM20 15h1v1h-1zM13 28h2v1h-2zM19 28h1v1h-1zM14 29h1v1h-1zM4 33h2v1h-2zM34 33h1v1h-1zM25 43h1v1h-1zM22 44h1v1h-1zM25 44h2v1h-2zM22 46h1v1h-1z"/>
<path fill="#c5563a" d="M45 11h1v1h-1zM25 13h1v1h-1zM20 14h1v1h-1zM27 16h1v1h-1zM17 28h2v1h-2zM3 32h1v1h-1z"/>
<path fill="#1a5f84" d="M42 19h1v1h-1zM9 27h2v1h-2zM4 28h1v1h-1zM7 28h2v1h-2zM10 28h1v1h-1zM25 31h1v1h-1zM10 32h1v1h-1zM22 32h1v1h-1zM25 32h1v1h-1zM23 33h1v1h-1zM30 35h1v1h-1zM15 38h1v1h-1zM14 39h1v1h-1z"/>
<path fill="#0f2a7c" d="M47 22h1v1h-1zM5 26h1v1h-1zM5 27h1v1h-1zM5 28h1v1h-1zM7 29h1v1h-1zM24 32h1v1h-1zM14 36h1v1h-1zM14 37h1v1h-1zM16 39h2v1h-2zM17 40h1v1h-1z"/>
<path fill="#154580" d="M17 33h1v1h-1zM12 35h2v1h-2zM15 36h1v1h-1zM15 37h1v1h-1zM14 38h1v1h-1zM17 38h1v1h-1zM15 39h1v1h-1zM17 41h2v1h-2z"/>
</g>
<g transform="translate(619.0 715.0) scale(5.6)">
<path fill="#26c44d" d="M12 4h1v1h-1zM16 4h1v1h-1zM16 5h2v1h-2zM17 6h2v1h-2zM20 6h1v1h-1zM21 7h1v1h-1zM26 7h1v1h-1zM29 7h1v1h-1zM21 8h1v1h-1zM25 8h1v1h-1zM30 8h1v1h-1zM30 9h1v1h-1zM33 9h2v1h-2zM12 10h2v1h-2zM18 10h1v1h-1zM25 10h2v1h-2zM31 10h1v1h-1zM49 10h1v1h-1zM16 11h1v1h-1zM33 11h2v1h-2zM33 12h1v1h-1zM13 13h1v1h-1zM34 13h1v1h-1zM51 13h1v1h-1zM12 14h1v1h-1zM47 15h3v1h-3zM13 16h1v1h-1zM35 16h1v1h-1zM39 16h1v1h-1zM36 17h1v1h-1zM45 17h1v1h-1zM49 17h1v1h-1zM12 18h1v1h-1zM40 18h1v1h-1zM44 18h1v1h-1zM46 18h1v1h-1zM18 19h1v1h-1zM20 19h1v1h-1zM22 19h1v1h-1zM27 19h1v1h-1zM42 19h3v1h-3zM11 20h1v1h-1zM16 20h1v1h-1zM19 20h1v1h-1zM22 20h2v1h-2zM28 20h1v1h-1zM47 20h1v1h-1zM15 21h1v1h-1zM18 21h1v1h-1zM21 21h1v1h-1zM46 21h1v1h-1zM14 22h1v1h-1zM20 22h1v1h-1zM31 22h1v1h-1zM34 22h1v1h-1zM46 22h1v1h-1zM32 23h1v1h-1zM9 24h1v1h-1zM11 24h1v1h-1zM28 24h1v1h-1zM30 24h1v1h-1zM35 24h1v1h-1zM42 24h1v1h-1zM11 25h3v1h-3zM16 25h1v1h-1zM31 25h1v1h-1zM34 25h3v1h-3zM39 25h1v1h-1zM41 25h1v1h-1zM36 26h1v1h-1zM38 26h1v1h-1zM42 26h1v1h-1zM35 27h1v1h-1zM48 27h1v1h-1zM30 29h1v1h-1zM16 30h1v1h-1zM20 31h1v1h-1zM29 31h1v1h-1zM40 31h1v1h-1zM27 32h1v1h-1zM31 32h1v1h-1zM39 32h1v1h-1zM45 32h1v1h-1zM25 33h1v1h-1zM27 33h1v1h-1zM31 33h2v1h-2zM37 33h1v1h-1zM39 33h1v1h-1zM43 33h1v1h-1zM11 34h1v1h-1zM19 34h1v1h-1zM10 35h1v1h-1zM18 35h1v1h-1zM37 35h1v1h-1zM7 36h1v1h-1zM9 36h1v1h-1zM12 36h1v1h-1zM29 36h1v1h-1zM32 36h1v1h-1zM26 37h1v1h-1zM31 37h2v1h-2zM4 38h1v1h-1zM13 38h2v1h-2zM29 38h1v1h-1zM7 39h1v1h-1zM13 39h1v1h-1zM26 39h1v1h-1zM31 39h1v1h-1zM33 39h1v1h-1zM14 40h2v1h-2zM22 40h1v1h-1zM31 40h3v1h-3zM8 41h1v1h-1zM26 41h1v1h-1zM7 42h1v1h-1zM17 42h1v1h-1zM4 43h1v1h-1zM8 43h1v1h-1zM16 43h1v1h-1zM23 43h1v1h-1zM39 43h1v1h-1zM15 44h1v1h-1zM17 44h1v1h-1zM22 44h2v1h-2zM19 45h1v1h-1zM21 45h1v1h-1zM37 45h1v1h-1zM36 46h2v1h-2zM30 47h1v1h-1z"/>
<path fill="#efefef" d="M14 4h2v1h-2zM14 5h2v1h-2zM13 6h4v1h-4zM11 7h7v1h-7zM31 7h2v1h-2zM12 8h6v1h-6zM32 8h1v1h-1zM35 8h3v1h-3zM39 8h1v1h-1zM13 9h5v1h-5zM35 9h4v1h-4zM41 9h4v1h-4zM15 10h3v1h-3zM35 10h4v1h-4zM41 10h5v1h-5zM42 11h4v1h-4zM26 12h1v1h-1zM34 12h1v1h-1zM38 12h1v1h-1zM42 12h4v1h-4zM16 13h2v1h-2zM35 13h5v1h-5zM44 13h4v1h-4zM16 14h2v1h-2zM35 14h5v1h-5zM44 14h4v1h-4zM50 15h2v1h-2zM36 16h1v1h-1zM41 16h2v1h-2zM50 16h2v1h-2zM38 17h2v1h-2zM21 18h1v1h-1zM35 18h1v1h-1zM37 18h3v1h-3zM35 19h1v1h-1zM38 19h2v1h-2zM41 19h1v1h-1zM35 20h1v1h-1zM38 20h2v1h-2zM41 20h1v1h-1zM16 21h1v1h-1zM27 21h2v1h-2zM41 21h1v1h-1zM11 22h1v1h-1zM27 22h2v1h-2zM32 22h2v1h-2zM26 23h2v1h-2zM40 23h1v1h-1zM44 23h1v1h-1zM18 24h3v1h-3zM36 24h3v1h-3zM9 25h2v1h-2zM18 25h3v1h-3zM8 26h3v1h-3zM23 26h1v1h-1zM35 26h1v1h-1zM8 27h1v1h-1zM40 27h1v1h-1zM8 28h1v1h-1zM40 28h1v1h-1zM14 30h2v1h-2zM28 31h1v1h-1zM33 32h2v1h-2zM36 32h1v1h-1zM40 32h1v1h-1zM9 33h2v1h-2zM20 33h1v1h-1zM24 33h1v1h-1zM33 33h4v1h-4zM13 34h3v1h-3zM20 34h4v1h-4zM25 34h4v1h-4zM33 34h5v1h-5zM42 34h2v1h-2zM20 35h4v1h-4zM33 35h4v1h-4zM42 35h2v1h-2zM18 36h7v1h-7zM35 36h1v1h-1zM18 37h7v1h-7zM40 37h2v1h-2zM5 38h1v1h-1zM19 38h6v1h-6zM37 38h1v1h-1zM39 38h3v1h-3zM4 39h3v1h-3zM21 39h4v1h-4zM36 39h5v1h-5zM4 40h4v1h-4zM20 40h2v1h-2zM24 40h1v1h-1zM35 40h1v1h-1zM37 40h4v1h-4zM43 40h1v1h-1zM22 41h1v1h-1zM37 41h9v1h-9zM34 42h2v1h-2zM37 42h8v1h-8zM5 43h1v1h-1zM34 43h2v1h-2zM42 43h3v1h-3zM25 44h1v1h-1zM42 44h3v1h-3zM25 45h1v1h-1zM25 46h1v1h-1zM28 46h1v1h-1zM39 48h2v1h-2z"/>
<path fill="#ffff0c" d="M18 4h1v1h-1zM18 7h1v1h-1zM33 8h2v1h-2zM18 9h1v1h-1zM22 9h1v1h-1zM48 10h1v1h-1zM26 11h1v1h-1zM39 11h1v1h-1zM48 11h1v1h-1zM15 12h1v1h-1zM19 12h1v1h-1zM19 13h1v1h-1zM30 13h1v1h-1zM50 13h1v1h-1zM11 14h1v1h-1zM14 14h2v1h-2zM20 14h1v1h-1zM22 14h2v1h-2zM11 15h1v1h-1zM43 15h1v1h-1zM24 16h1v1h-1zM10 17h1v1h-1zM20 17h1v1h-1zM24 17h1v1h-1zM27 17h1v1h-1zM11 18h1v1h-1zM14 18h1v1h-1zM29 18h1v1h-1zM15 20h1v1h-1zM33 20h1v1h-1zM37 21h1v1h-1zM45 21h1v1h-1zM42 23h1v1h-1zM48 24h1v1h-1zM45 25h1v1h-1zM28 26h1v1h-1zM41 26h1v1h-1zM43 26h2v1h-2zM26 27h1v1h-1zM29 27h1v1h-1zM32 27h1v1h-1zM37 27h1v1h-1zM41 27h1v1h-1zM29 28h1v1h-1zM33 28h3v1h-3zM39 28h1v1h-1zM14 29h1v1h-1zM33 29h1v1h-1zM40 29h1v1h-1zM22 31h1v1h-1zM41 31h1v1h-1zM35 32h1v1h-1zM7 34h1v1h-1zM8 35h1v1h-1zM28 36h1v1h-1zM36 36h1v1h-1zM39 36h2v1h-2zM29 40h1v1h-1zM30 41h2v1h-2zM9 42h1v1h-1zM30 42h1v1h-1zM14 44h1v1h-1zM36 44h1v1h-1zM39 44h2v1h-2zM30 45h1v1h-1zM39 45h1v1h-1zM43 45h1v1h-1zM29 46h1v1h-1zM38 46h2v1h-2zM42 46h1v1h-1z"/>
<path fill="#2ab468" d="M12 5h1v1h-1zM24 6h1v1h-1zM25 7h1v1h-1zM24 8h1v1h-1zM26 8h1v1h-1zM11 9h1v1h-1zM24 9h1v1h-1zM11 10h1v1h-1zM24 10h1v1h-1zM28 10h1v1h-1zM15 11h1v1h-1zM32 11h1v1h-1zM17 12h1v1h-1zM34 14h1v1h-1zM37 15h2v1h-2zM37 16h1v1h-1zM40 16h1v1h-1zM14 17h1v1h-1zM40 17h2v1h-2zM48 17h1v1h-1zM50 17h1v1h-1zM16 18h2v1h-2zM41 18h1v1h-1zM48 18h1v1h-1zM11 19h1v1h-1zM16 19h1v1h-1zM18 20h1v1h-1zM20 20h1v1h-1zM24 20h1v1h-1zM31 20h2v1h-2zM42 20h1v1h-1zM46 20h1v1h-1zM11 21h1v1h-1zM16 22h1v1h-1zM9 23h1v1h-1zM16 23h1v1h-1zM21 23h1v1h-1zM28 23h2v1h-2zM31 23h1v1h-1zM34 24h1v1h-1zM21 25h3v1h-3zM33 25h1v1h-1zM11 26h3v1h-3zM21 26h2v1h-2zM25 26h1v1h-1zM33 26h1v1h-1zM9 27h1v1h-1zM13 27h1v1h-1zM25 27h1v1h-1zM34 27h1v1h-1zM46 27h1v1h-1zM47 28h1v1h-1zM6 29h2v1h-2zM13 29h1v1h-1zM43 29h1v1h-1zM42 30h1v1h-1zM11 31h1v1h-1zM15 31h1v1h-1zM19 31h1v1h-1zM17 32h1v1h-1zM28 32h2v1h-2zM43 32h2v1h-2zM23 33h1v1h-1zM28 33h1v1h-1zM40 33h2v1h-2zM12 34h1v1h-1zM29 34h1v1h-1zM38 34h1v1h-1zM9 35h1v1h-1zM11 35h2v1h-2zM14 35h1v1h-1zM19 35h1v1h-1zM31 35h1v1h-1zM10 36h1v1h-1zM13 36h1v1h-1zM17 36h1v1h-1zM5 37h1v1h-1zM12 37h1v1h-1zM14 37h1v1h-1zM25 37h1v1h-1zM29 37h2v1h-2zM6 38h1v1h-1zM30 38h1v1h-1zM11 39h2v1h-2zM14 39h2v1h-2zM34 39h1v1h-1zM8 40h1v1h-1zM34 40h1v1h-1zM41 40h1v1h-1zM44 40h1v1h-1zM18 41h1v1h-1zM36 41h1v1h-1zM14 42h1v1h-1zM20 42h1v1h-1zM23 42h1v1h-1zM33 42h1v1h-1zM7 43h1v1h-1zM18 43h1v1h-1zM38 43h1v1h-1zM20 44h1v1h-1zM17 45h1v1h-1zM20 45h1v1h-1z"/>
<path fill="#4ae610" d="M13 5h1v1h-1zM12 6h1v1h-1zM19 6h1v1h-1zM22 6h1v1h-1zM22 7h1v1h-1zM30 7h1v1h-1zM19 8h1v1h-1zM22 8h1v1h-1zM29 8h1v1h-1zM20 9h2v1h-2zM21 10h1v1h-1zM30 10h1v1h-1zM32 10h3v1h-3zM11 11h2v1h-2zM14 11h1v1h-1zM29 11h1v1h-1zM16 12h1v1h-1zM29 12h2v1h-2zM32 12h1v1h-1zM35 12h2v1h-2zM12 13h1v1h-1zM21 13h1v1h-1zM31 13h1v1h-1zM32 14h1v1h-1zM12 15h1v1h-1zM14 15h2v1h-2zM32 15h1v1h-1zM40 15h1v1h-1zM44 15h1v1h-1zM14 16h1v1h-1zM16 16h1v1h-1zM23 16h1v1h-1zM13 17h1v1h-1zM37 17h1v1h-1zM15 18h1v1h-1zM36 18h1v1h-1zM49 18h1v1h-1zM23 19h1v1h-1zM26 19h1v1h-1zM28 19h1v1h-1zM33 19h1v1h-1zM21 20h1v1h-1zM25 20h2v1h-2zM29 20h1v1h-1zM43 20h1v1h-1zM45 20h1v1h-1zM12 21h1v1h-1zM19 21h1v1h-1zM22 21h1v1h-1zM24 21h2v1h-2zM12 22h1v1h-1zM19 22h1v1h-1zM26 22h1v1h-1zM19 23h1v1h-1zM24 23h2v1h-2zM38 23h1v1h-1zM12 24h1v1h-1zM15 24h1v1h-1zM17 24h1v1h-1zM27 24h1v1h-1zM39 24h1v1h-1zM14 25h1v1h-1zM24 25h1v1h-1zM26 25h2v1h-2zM29 25h1v1h-1zM43 25h1v1h-1zM24 26h1v1h-1zM26 26h1v1h-1zM29 26h4v1h-4zM48 26h1v1h-1zM19 27h1v1h-1zM22 27h2v1h-2zM36 27h1v1h-1zM45 27h1v1h-1zM47 27h1v1h-1zM38 28h1v1h-1zM42 28h1v1h-1zM32 29h1v1h-1zM38 29h1v1h-1zM6 30h1v1h-1zM8 30h1v1h-1zM21 30h1v1h-1zM29 30h1v1h-1zM40 30h1v1h-1zM9 31h1v1h-1zM14 31h1v1h-1zM27 31h1v1h-1zM38 31h2v1h-2zM24 32h1v1h-1zM38 32h1v1h-1zM46 32h1v1h-1zM26 33h1v1h-1zM42 33h1v1h-1zM44 33h2v1h-2zM28 35h1v1h-1zM38 35h1v1h-1zM45 35h1v1h-1zM31 36h1v1h-1zM6 37h3v1h-3zM28 37h1v1h-1zM8 38h1v1h-1zM15 38h1v1h-1zM32 38h1v1h-1zM29 39h1v1h-1zM9 40h2v1h-2zM13 40h1v1h-1zM7 41h1v1h-1zM9 41h2v1h-2zM13 41h1v1h-1zM33 41h2v1h-2zM4 42h3v1h-3zM8 42h1v1h-1zM10 42h2v1h-2zM24 42h1v1h-1zM32 42h1v1h-1zM15 43h1v1h-1zM17 43h1v1h-1zM33 43h1v1h-1zM36 43h1v1h-1zM10 44h2v1h-2zM33 44h1v1h-1zM35 44h1v1h-1zM38 44h1v1h-1zM35 45h1v1h-1zM38 45h1v1h-1zM35 46h1v1h-1zM35 47h1v1h-1zM38 47h1v1h-1zM30 48h1v1h-1zM37 48h1v1h-1z"/>
<path fill="#86ee0f" d="M18 5h1v1h-1zM23 6h1v1h-1zM19 7h2v1h-2zM31 8h1v1h-1zM32 9h1v1h-1zM20 10h1v1h-1zM51 10h1v1h-1zM19 11h1v1h-1zM30 11h1v1h-1zM36 11h1v1h-1zM49 11h2v1h-2zM31 12h1v1h-1zM41 12h1v1h-1zM48 12h3v1h-3zM20 13h1v1h-1zM13 14h1v1h-1zM10 15h1v1h-1zM13 15h1v1h-1zM16 15h1v1h-1zM22 15h2v1h-2zM31 15h1v1h-1zM41 15h1v1h-1zM10 16h1v1h-1zM12 16h1v1h-1zM15 16h1v1h-1zM17 16h1v1h-1zM22 16h1v1h-1zM44 16h1v1h-1zM48 16h1v1h-1zM23 17h1v1h-1zM30 17h2v1h-2zM33 17h1v1h-1zM35 17h1v1h-1zM43 17h1v1h-1zM19 18h1v1h-1zM22 18h2v1h-2zM43 18h1v1h-1zM14 19h1v1h-1zM29 19h2v1h-2zM34 19h1v1h-1zM14 20h1v1h-1zM33 21h1v1h-1zM38 21h1v1h-1zM43 21h1v1h-1zM18 22h1v1h-1zM22 22h1v1h-1zM14 23h1v1h-1zM20 23h1v1h-1zM22 23h1v1h-1zM37 23h1v1h-1zM46 23h1v1h-1zM25 24h1v1h-1zM40 24h1v1h-1zM43 24h1v1h-1zM25 25h1v1h-1zM18 26h1v1h-1zM20 27h1v1h-1zM30 27h1v1h-1zM39 27h1v1h-1zM42 27h1v1h-1zM44 27h1v1h-1zM24 28h2v1h-2zM30 28h2v1h-2zM31 29h1v1h-1zM37 29h1v1h-1zM39 29h1v1h-1zM42 29h1v1h-1zM28 30h1v1h-1zM39 30h1v1h-1zM24 31h1v1h-1zM37 31h1v1h-1zM22 32h1v1h-1zM47 32h1v1h-1zM11 33h1v1h-1zM45 34h1v1h-1zM44 35h1v1h-1zM6 36h1v1h-1zM8 36h1v1h-1zM27 36h1v1h-1zM31 38h1v1h-1zM35 38h1v1h-1zM32 39h1v1h-1zM30 40h1v1h-1zM36 40h1v1h-1zM4 41h1v1h-1zM12 42h1v1h-1zM25 42h1v1h-1zM36 42h1v1h-1zM10 43h2v1h-2zM14 43h1v1h-1zM30 43h3v1h-3zM37 43h1v1h-1zM37 44h1v1h-1zM41 44h1v1h-1zM23 45h1v1h-1zM42 45h1v1h-1zM31 48h2v1h-2zM37 49h1v1h-1z"/>
<path fill="#0ede12" d="M21 6h1v1h-1zM18 8h1v1h-1zM20 8h1v1h-1zM19 9h1v1h-1zM29 9h1v1h-1zM31 9h1v1h-1zM14 10h1v1h-1zM19 10h1v1h-1zM29 10h1v1h-1zM17 11h2v1h-2zM31 11h1v1h-1zM51 11h1v1h-1zM11 12h1v1h-1zM14 12h1v1h-1zM21 14h1v1h-1zM31 14h1v1h-1zM51 14h1v1h-1zM33 15h2v1h-2zM39 15h1v1h-1zM45 15h2v1h-2zM11 16h1v1h-1zM31 16h1v1h-1zM34 16h1v1h-1zM38 16h1v1h-1zM45 16h3v1h-3zM49 16h1v1h-1zM12 17h1v1h-1zM15 17h3v1h-3zM32 17h1v1h-1zM34 17h1v1h-1zM44 17h1v1h-1zM13 18h1v1h-1zM31 18h3v1h-3zM42 18h1v1h-1zM19 19h1v1h-1zM24 19h2v1h-2zM32 19h1v1h-1zM45 19h1v1h-1zM27 20h1v1h-1zM30 20h1v1h-1zM34 20h1v1h-1zM13 21h1v1h-1zM20 21h1v1h-1zM26 21h1v1h-1zM31 21h2v1h-2zM34 21h1v1h-1zM47 21h1v1h-1zM13 22h1v1h-1zM15 22h1v1h-1zM21 22h1v1h-1zM37 22h1v1h-1zM47 22h1v1h-1zM12 23h1v1h-1zM17 23h1v1h-1zM23 23h1v1h-1zM33 23h2v1h-2zM47 23h1v1h-1zM13 24h2v1h-2zM16 24h1v1h-1zM29 24h1v1h-1zM31 24h1v1h-1zM15 25h1v1h-1zM30 25h1v1h-1zM37 25h2v1h-2zM40 25h1v1h-1zM42 25h1v1h-1zM48 25h1v1h-1zM37 26h1v1h-1zM47 26h1v1h-1zM18 27h1v1h-1zM21 27h1v1h-1zM24 27h1v1h-1zM38 27h1v1h-1zM26 28h1v1h-1zM32 28h1v1h-1zM41 28h1v1h-1zM25 29h2v1h-2zM47 29h1v1h-1zM17 30h1v1h-1zM20 30h1v1h-1zM27 30h1v1h-1zM30 30h1v1h-1zM41 30h1v1h-1zM21 31h1v1h-1zM30 31h1v1h-1zM43 31h1v1h-1zM10 32h2v1h-2zM23 32h1v1h-1zM25 32h1v1h-1zM32 32h1v1h-1zM37 32h1v1h-1zM42 32h1v1h-1zM22 33h1v1h-1zM38 33h1v1h-1zM46 33h1v1h-1zM10 34h1v1h-1zM44 34h1v1h-1zM13 35h1v1h-1zM14 36h1v1h-1zM25 36h2v1h-2zM30 36h1v1h-1zM15 37h1v1h-1zM7 38h1v1h-1zM12 38h1v1h-1zM26 38h1v1h-1zM8 39h3v1h-3zM35 39h1v1h-1zM11 40h2v1h-2zM26 40h1v1h-1zM11 41h2v1h-2zM24 41h1v1h-1zM35 41h1v1h-1zM13 42h1v1h-1zM26 42h1v1h-1zM9 43h1v1h-1zM22 43h1v1h-1zM40 43h2v1h-2zM31 44h2v1h-2zM34 44h1v1h-1zM18 45h1v1h-1zM36 45h1v1h-1zM31 47h4v1h-4zM36 47h1v1h-1zM33 48h1v1h-1zM35 48h1v1h-1zM38 48h1v1h-1z"/>
<path fill="#26948c" d="M25 6h1v1h-1zM11 8h1v1h-1zM28 8h1v1h-1zM27 9h1v1h-1zM47 17h1v1h-1zM21 19h1v1h-1zM31 19h1v1h-1zM47 19h1v1h-1zM17 20h1v1h-1zM49 20h1v1h-1zM8 21h1v1h-1zM17 21h1v1h-1zM29 21h1v1h-1zM48 21h1v1h-1zM10 22h1v1h-1zM17 22h1v1h-1zM30 22h1v1h-1zM8 23h1v1h-1zM11 23h1v1h-1zM8 24h1v1h-1zM23 24h1v1h-1zM41 24h1v1h-1zM32 25h1v1h-1zM20 26h1v1h-1zM33 27h1v1h-1zM7 28h1v1h-1zM12 28h1v1h-1zM43 28h1v1h-1zM45 28h1v1h-1zM8 29h2v1h-2zM12 30h1v1h-1zM13 31h1v1h-1zM18 31h1v1h-1zM21 32h1v1h-1zM12 33h1v1h-1zM14 33h2v1h-2zM29 33h1v1h-1zM16 35h1v1h-1zM30 35h1v1h-1zM11 36h1v1h-1zM42 36h1v1h-1zM45 36h1v1h-1zM9 37h3v1h-3zM45 37h1v1h-1zM16 38h1v1h-1zM34 38h1v1h-1zM16 39h1v1h-1zM20 39h1v1h-1zM25 39h1v1h-1zM14 41h2v1h-2zM20 41h2v1h-2zM19 42h1v1h-1zM6 43h1v1h-1zM19 43h1v1h-1zM19 44h1v1h-1z"/>
<path fill="#c3f70e" d="M23 7h1v1h-1zM23 8h1v1h-1zM23 9h1v1h-1zM22 10h2v1h-2zM13 11h1v1h-1zM24 11h2v1h-2zM35 11h1v1h-1zM37 11h1v1h-1zM40 11h2v1h-2zM13 12h1v1h-1zM18 12h1v1h-1zM25 12h1v1h-1zM40 12h1v1h-1zM51 12h1v1h-1zM14 13h1v1h-1zM9 14h1v1h-1zM50 14h1v1h-1zM9 15h1v1h-1zM21 15h1v1h-1zM25 15h1v1h-1zM20 16h1v1h-1zM32 16h1v1h-1zM19 17h1v1h-1zM21 17h2v1h-2zM25 17h1v1h-1zM42 17h1v1h-1zM18 18h1v1h-1zM20 18h1v1h-1zM24 18h2v1h-2zM28 18h1v1h-1zM30 18h1v1h-1zM12 19h2v1h-2zM15 19h1v1h-1zM13 20h1v1h-1zM44 20h1v1h-1zM14 21h1v1h-1zM23 21h1v1h-1zM23 22h3v1h-3zM38 22h1v1h-1zM13 23h1v1h-1zM15 23h1v1h-1zM45 24h1v1h-1zM17 25h1v1h-1zM28 25h1v1h-1zM44 25h1v1h-1zM46 25h1v1h-1zM45 26h2v1h-2zM31 27h1v1h-1zM43 27h1v1h-1zM37 28h1v1h-1zM23 29h2v1h-2zM41 29h1v1h-1zM25 30h1v1h-1zM37 30h2v1h-2zM6 31h1v1h-1zM23 31h1v1h-1zM26 31h1v1h-1zM42 31h1v1h-1zM9 32h1v1h-1zM8 34h2v1h-2zM24 35h1v1h-1zM5 36h1v1h-1zM13 37h1v1h-1zM35 37h1v1h-1zM28 38h1v1h-1zM30 39h1v1h-1zM5 41h2v1h-2zM32 41h1v1h-1zM31 42h1v1h-1zM16 44h1v1h-1zM22 45h1v1h-1zM41 45h1v1h-1zM30 46h1v1h-1zM43 46h1v1h-1zM37 47h1v1h-1zM40 47h1v1h-1zM34 48h1v1h-1zM36 48h1v1h-1z"/>
<path fill="#28a47a" d="M24 7h1v1h-1zM27 7h2v1h-2zM12 9h1v1h-1zM25 9h2v1h-2zM27 10h1v1h-1zM32 13h2v1h-2zM33 14h1v1h-1zM35 15h1v1h-1zM33 16h1v1h-1zM45 18h1v1h-1zM50 18h1v1h-1zM8 19h1v1h-1zM10 19h1v1h-1zM17 19h1v1h-1zM40 19h1v1h-1zM48 19h3v1h-3zM8 20h1v1h-1zM40 20h1v1h-1zM9 21h2v1h-2zM30 21h1v1h-1zM29 22h1v1h-1zM48 22h1v1h-1zM10 23h1v1h-1zM18 23h1v1h-1zM30 23h1v1h-1zM49 23h1v1h-1zM10 24h1v1h-1zM21 24h1v1h-1zM24 24h1v1h-1zM26 24h1v1h-1zM32 24h2v1h-2zM8 25h1v1h-1zM19 26h1v1h-1zM13 28h1v1h-1zM46 28h1v1h-1zM46 29h1v1h-1zM9 30h1v1h-1zM13 30h1v1h-1zM18 30h2v1h-2zM43 30h1v1h-1zM10 31h1v1h-1zM16 31h2v1h-2zM12 32h1v1h-1zM14 32h1v1h-1zM26 32h1v1h-1zM30 32h1v1h-1zM41 32h1v1h-1zM13 33h1v1h-1zM16 34h1v1h-1zM46 34h1v1h-1zM17 35h1v1h-1zM32 35h1v1h-1zM46 35h1v1h-1zM15 36h2v1h-2zM33 36h1v1h-1zM44 36h1v1h-1zM9 38h3v1h-3zM17 38h2v1h-2zM25 38h1v1h-1zM33 38h1v1h-1zM42 38h1v1h-1zM44 38h1v1h-1zM18 39h1v1h-1zM41 39h1v1h-1zM16 40h2v1h-2zM23 40h1v1h-1zM23 41h1v1h-1zM15 42h2v1h-2zM18 42h1v1h-1zM21 44h1v1h-1z"/>
<path fill="#1a5f84" d="M27 8h1v1h-1zM47 18h1v1h-1zM10 20h1v1h-1zM48 20h1v1h-1zM50 20h1v1h-1zM34 26h1v1h-1zM10 27h1v1h-1zM10 28h1v1h-1zM44 28h1v1h-1zM44 29h2v1h-2zM47 31h1v1h-1zM16 32h1v1h-1zM18 32h2v1h-2zM17 33h2v1h-2zM31 34h1v1h-1zM15 35h1v1h-1zM29 35h1v1h-1zM43 36h1v1h-1zM33 37h1v1h-1zM45 38h1v1h-1zM19 40h1v1h-1zM42 40h1v1h-1zM17 41h1v1h-1z"/>
<path fill="#eeb01a" d="M38 8h1v1h-1zM45 9h1v1h-1zM38 11h1v1h-1zM47 11h1v1h-1zM23 12h1v1h-1zM27 12h1v1h-1zM25 13h1v1h-1zM27 13h1v1h-1zM49 13h1v1h-1zM42 14h2v1h-2zM28 16h2v1h-2zM29 17h1v1h-1zM45 22h1v1h-1zM35 23h1v1h-1zM39 26h1v1h-1zM14 27h1v1h-1zM17 27h1v1h-1zM18 28h1v1h-1zM20 28h1v1h-1zM16 29h1v1h-1zM27 29h1v1h-1zM34 29h2v1h-2zM31 30h1v1h-1zM33 30h2v1h-2zM31 31h1v1h-1zM34 31h1v1h-1zM6 32h2v1h-2zM40 34h2v1h-2zM41 35h1v1h-1zM37 37h2v1h-2zM27 41h1v1h-1zM27 42h3v1h-3zM24 43h1v1h-1zM26 44h1v1h-1zM32 45h1v1h-1zM24 46h1v1h-1zM26 46h1v1h-1zM33 46h1v1h-1zM40 46h2v1h-2zM39 47h1v1h-1z"/>
<path fill="#207a88" d="M28 9h1v1h-1zM36 15h1v1h-1zM46 17h1v1h-1zM46 19h1v1h-1zM9 20h1v1h-1zM49 21h1v1h-1zM8 22h2v1h-2zM49 22h1v1h-1zM7 23h1v1h-1zM48 23h1v1h-1zM22 24h1v1h-1zM12 27h1v1h-1zM6 28h1v1h-1zM10 30h2v1h-2zM44 30h1v1h-1zM47 30h1v1h-1zM44 31h3v1h-3zM13 32h1v1h-1zM15 32h1v1h-1zM20 32h1v1h-1zM19 33h1v1h-1zM21 33h1v1h-1zM30 33h1v1h-1zM17 34h2v1h-2zM30 34h1v1h-1zM32 34h1v1h-1zM34 36h1v1h-1zM16 37h2v1h-2zM42 37h1v1h-1zM44 37h1v1h-1zM43 38h1v1h-1zM17 39h1v1h-1zM43 39h2v1h-2zM18 40h1v1h-1zM25 40h1v1h-1zM16 41h1v1h-1zM19 41h1v1h-1zM25 41h1v1h-1zM21 42h2v1h-2zM20 43h2v1h-2zM18 44h1v1h-1z"/>
<path fill="#df8625" d="M39 9h1v1h-1zM23 11h1v1h-1zM26 13h1v1h-1zM28 13h1v1h-1zM28 14h1v1h-1zM30 15h1v1h-1zM44 22h1v1h-1zM17 26h1v1h-1zM27 27h1v1h-1zM15 28h1v1h-1zM19 28h1v1h-1zM21 28h2v1h-2zM15 29h1v1h-1zM20 29h1v1h-1zM36 30h1v1h-1zM33 31h1v1h-1zM35 31h1v1h-1zM5 33h2v1h-2zM8 33h1v1h-1zM5 35h1v1h-1zM28 43h1v1h-1zM27 44h1v1h-1zM28 45h1v1h-1zM27 46h1v1h-1zM43 48h1v1h-1z"/>
<path fill="#c5563a" d="M40 9h1v1h-1z"/>
<path fill="#f9e511" d="M39 10h2v1h-2zM28 11h1v1h-1zM12 12h1v1h-1zM20 12h2v1h-2zM24 12h1v1h-1zM37 12h1v1h-1zM39 12h1v1h-1zM15 13h1v1h-1zM18 13h1v1h-1zM23 13h1v1h-1zM29 13h1v1h-1zM40 13h1v1h-1zM26 14h1v1h-1zM29 14h2v1h-2zM49 14h1v1h-1zM17 15h2v1h-2zM20 15h1v1h-1zM24 15h1v1h-1zM18 16h2v1h-2zM25 16h2v1h-2zM9 17h1v1h-1zM11 17h1v1h-1zM18 17h1v1h-1zM26 18h2v1h-2zM34 18h1v1h-1zM36 19h1v1h-1zM35 21h1v1h-1zM39 21h1v1h-1zM42 21h1v1h-1zM36 22h1v1h-1zM36 23h1v1h-1zM39 23h1v1h-1zM41 23h1v1h-1zM14 26h1v1h-1zM40 26h1v1h-1zM28 27h1v1h-1zM17 29h1v1h-1zM19 29h1v1h-1zM22 29h1v1h-1zM29 29h1v1h-1zM7 30h1v1h-1zM23 30h1v1h-1zM26 30h1v1h-1zM25 31h1v1h-1zM24 34h1v1h-1zM7 35h1v1h-1zM27 35h1v1h-1zM38 36h1v1h-1zM41 36h1v1h-1zM27 37h1v1h-1zM27 38h1v1h-1zM36 38h1v1h-1zM29 43h1v1h-1zM24 44h1v1h-1zM29 45h1v1h-1zM31 45h1v1h-1zM33 45h1v1h-1zM31 46h1v1h-1zM34 46h1v1h-1zM43 47h1v1h-1z"/>
<path fill="#d6762c" d="M46 10h1v1h-1zM29 15h1v1h-1zM16 28h1v1h-1zM40 35h1v1h-1zM28 40h1v1h-1zM28 44h1v1h-1z"/>
<path fill="#e8961e" d="M47 10h1v1h-1zM21 11h1v1h-1zM46 11h1v1h-1zM46 12h2v1h-2zM10 13h1v1h-1zM41 13h1v1h-1zM48 13h1v1h-1zM19 14h1v1h-1zM25 14h1v1h-1zM40 14h2v1h-2zM28 15h1v1h-1zM42 15h1v1h-1zM27 16h1v1h-1zM36 21h1v1h-1zM39 22h3v1h-3zM43 22h1v1h-1zM46 24h1v1h-1zM15 26h2v1h-2zM15 27h2v1h-2zM14 28h1v1h-1zM17 28h1v1h-1zM23 28h1v1h-1zM27 28h2v1h-2zM7 31h2v1h-2zM32 31h1v1h-1zM8 32h1v1h-1zM7 33h1v1h-1zM6 34h1v1h-1zM25 35h1v1h-1zM39 35h1v1h-1zM37 36h1v1h-1zM38 38h1v1h-1zM27 39h1v1h-1zM13 43h1v1h-1zM13 44h1v1h-1zM27 45h1v1h-1zM32 46h1v1h-1zM41 47h2v1h-2zM41 48h2v1h-2z"/>
<path fill="#f4ca15" d="M50 10h1v1h-1zM20 11h1v1h-1zM22 11h1v1h-1zM27 11h1v1h-1zM22 12h1v1h-1zM28 12h1v1h-1zM11 13h1v1h-1zM22 13h1v1h-1zM42 13h2v1h-2zM10 14h1v1h-1zM18 14h1v1h-1zM24 14h1v1h-1zM27 14h1v1h-1zM48 14h1v1h-1zM19 15h1v1h-1zM26 15h2v1h-2zM21 16h1v1h-1zM30 16h1v1h-1zM43 16h1v1h-1zM26 17h1v1h-1zM28 17h1v1h-1zM10 18h1v1h-1zM37 19h1v1h-1zM12 20h1v1h-1zM36 20h2v1h-2zM40 21h1v1h-1zM44 21h1v1h-1zM35 22h1v1h-1zM42 22h1v1h-1zM43 23h1v1h-1zM45 23h1v1h-1zM44 24h1v1h-1zM47 24h1v1h-1zM47 25h1v1h-1zM27 26h1v1h-1zM36 28h1v1h-1zM18 29h1v1h-1zM21 29h1v1h-1zM28 29h1v1h-1zM36 29h1v1h-1zM22 30h1v1h-1zM24 30h1v1h-1zM32 30h1v1h-1zM5 34h1v1h-1zM39 34h1v1h-1zM6 35h1v1h-1zM26 35h1v1h-1zM36 37h1v1h-1zM39 37h1v1h-1zM28 39h1v1h-1zM27 40h1v1h-1zM28 41h2v1h-2zM12 43h1v1h-1zM25 43h2v1h-2zM12 44h1v1h-1zM29 44h2v1h-2zM24 45h1v1h-1zM34 45h1v1h-1zM40 45h1v1h-1z"/>
<path fill="#ce6633" d="M24 13h1v1h-1zM35 30h1v1h-1zM36 31h1v1h-1zM27 43h1v1h-1zM26 45h1v1h-1z"/>
<path fill="#154580" d="M9 19h1v1h-1zM11 27h1v1h-1zM9 28h1v1h-1zM11 28h1v1h-1zM10 29h3v1h-3zM46 30h1v1h-1zM12 31h1v1h-1zM16 33h1v1h-1zM34 37h1v1h-1zM43 37h1v1h-1zM45 40h1v1h-1z"/>
<path fill="#0f2a7c" d="M45 30h1v1h-1zM19 39h1v1h-1zM42 39h1v1h-1z"/>
</g>
<g transform="translate(933.0 715.0) scale(5.6)">
<path fill="#efefef" d="M9 5h5v1h-5zM10 6h3v1h-3zM9 7h3v1h-3zM8 8h3v1h-3zM15 8h1v1h-1zM28 8h1v1h-1zM9 9h2v1h-2zM12 9h4v1h-4zM33 9h4v1h-4zM9 10h7v1h-7zM33 10h9v1h-9zM37 11h4v1h-4zM23 12h1v1h-1zM30 12h1v1h-1zM34 12h1v1h-1zM38 12h4v1h-4zM31 13h12v1h-12zM31 14h13v1h-13zM12 15h4v1h-4zM33 15h2v1h-2zM37 15h2v1h-2zM11 16h2v1h-2zM15 16h1v1h-1zM38 16h2v1h-2zM11 17h1v1h-1zM31 17h2v1h-2zM36 17h2v1h-2zM17 18h2v1h-2zM31 18h2v1h-2zM35 18h2v1h-2zM17 19h3v1h-3zM33 19h4v1h-4zM38 19h1v1h-1zM13 20h1v1h-1zM19 20h1v1h-1zM33 20h2v1h-2zM38 20h1v1h-1zM33 21h1v1h-1zM35 21h1v1h-1zM38 21h1v1h-1zM12 22h2v1h-2zM25 22h2v1h-2zM29 22h1v1h-1zM35 22h2v1h-2zM7 23h1v1h-1zM13 23h1v1h-1zM16 23h1v1h-1zM18 23h2v1h-2zM25 23h1v1h-1zM33 23h1v1h-1zM35 23h1v1h-1zM43 23h1v1h-1zM8 24h1v1h-1zM13 24h7v1h-7zM31 24h4v1h-4zM41 24h4v1h-4zM5 25h1v1h-1zM14 25h4v1h-4zM19 25h1v1h-1zM31 25h4v1h-4zM41 25h3v1h-3zM5 26h2v1h-2zM31 26h1v1h-1zM5 27h2v1h-2zM36 27h2v1h-2zM36 28h2v1h-2zM11 30h1v1h-1zM35 30h1v1h-1zM25 31h1v1h-1zM31 32h3v1h-3zM36 32h1v1h-1zM6 33h1v1h-1zM16 33h2v1h-2zM21 33h1v1h-1zM31 33h3v1h-3zM36 33h1v1h-1zM10 34h2v1h-2zM19 34h3v1h-3zM23 34h1v1h-1zM29 34h4v1h-4zM38 34h1v1h-1zM9 35h3v1h-3zM18 35h6v1h-6zM29 35h4v1h-4zM37 35h1v1h-1zM10 36h1v1h-1zM16 36h4v1h-4zM29 36h2v1h-2zM38 36h2v1h-2zM13 37h7v1h-7zM14 38h6v1h-6zM31 38h1v1h-1zM36 38h1v1h-1zM38 38h1v1h-1zM2 39h1v1h-1zM16 39h4v1h-4zM31 39h9v1h-9zM1 40h2v1h-2zM16 40h5v1h-5zM32 40h8v1h-8zM33 41h8v1h-8zM19 42h1v1h-1zM33 42h8v1h-8zM31 43h1v1h-1zM37 43h4v1h-4zM31 44h1v1h-1zM38 44h3v1h-3zM20 45h2v1h-2zM35 47h3v1h-3zM35 48h3v1h-3z"/>
<path fill="#a9abd0" d="M13 6h1v1h-1zM12 7h7v1h-7zM12 8h3v1h-3zM16 8h5v1h-5zM24 8h1v1h-1zM26 8h1v1h-1zM16 9h4v1h-4zM25 9h6v1h-6zM16 10h4v1h-4zM25 10h6v1h-6zM16 11h2v1h-2zM24 11h4v1h-4zM29 11h2v1h-2zM16 12h1v1h-1zM24 12h2v1h-2zM27 12h2v1h-2zM31 15h2v1h-2zM35 15h2v1h-2zM42 15h3v1h-3zM31 16h2v1h-2zM35 16h3v1h-3zM41 16h5v1h-5zM33 17h3v1h-3zM38 17h2v1h-2zM42 17h4v1h-4zM33 18h2v1h-2zM38 18h2v1h-2zM41 18h5v1h-5zM6 19h1v1h-1zM16 19h1v1h-1zM29 19h2v1h-2zM41 19h5v1h-5zM6 20h1v1h-1zM16 20h3v1h-3zM29 20h2v1h-2zM41 20h4v1h-4zM6 21h3v1h-3zM16 21h1v1h-1zM18 21h4v1h-4zM27 21h4v1h-4zM41 21h5v1h-5zM7 22h2v1h-2zM11 22h1v1h-1zM14 22h1v1h-1zM17 22h5v1h-5zM28 22h1v1h-1zM30 22h1v1h-1zM6 23h1v1h-1zM8 23h2v1h-2zM14 23h2v1h-2zM17 23h1v1h-1zM20 23h2v1h-2zM26 23h2v1h-2zM39 23h2v1h-2zM5 24h3v1h-3zM9 24h2v1h-2zM20 24h7v1h-7zM39 24h2v1h-2zM6 25h5v1h-5zM18 25h1v1h-1zM20 25h6v1h-6zM40 25h1v1h-1zM4 26h1v1h-1zM7 26h2v1h-2zM16 26h8v1h-8zM41 26h3v1h-3zM4 27h1v1h-1zM12 27h1v1h-1zM16 27h2v1h-2zM21 27h4v1h-4zM39 27h1v1h-1zM42 27h2v1h-2zM5 28h2v1h-2zM9 28h7v1h-7zM27 28h2v1h-2zM43 28h1v1h-1zM3 29h1v1h-1zM6 29h10v1h-10zM26 29h3v1h-3zM3 30h2v1h-2zM9 30h2v1h-2zM12 30h2v1h-2zM15 30h14v1h-14zM37 30h2v1h-2zM42 30h1v1h-1zM3 31h2v1h-2zM10 31h5v1h-5zM16 31h9v1h-9zM26 31h3v1h-3zM37 31h2v1h-2zM42 31h1v1h-1zM11 32h2v1h-2zM14 32h1v1h-1zM16 32h6v1h-6zM24 32h5v1h-5zM30 32h1v1h-1zM42 32h1v1h-1zM11 33h2v1h-2zM18 33h3v1h-3zM24 33h7v1h-7zM42 33h1v1h-1zM12 34h7v1h-7zM22 34h1v1h-1zM24 34h3v1h-3zM33 34h2v1h-2zM12 35h6v1h-6zM24 35h3v1h-3zM33 35h2v1h-2zM5 36h5v1h-5zM11 36h5v1h-5zM20 36h4v1h-4zM25 36h2v1h-2zM31 36h4v1h-4zM5 37h8v1h-8zM20 37h4v1h-4zM29 37h4v1h-4zM3 38h9v1h-9zM20 38h4v1h-4zM28 38h3v1h-3zM32 38h1v1h-1zM3 39h9v1h-9zM13 39h3v1h-3zM20 39h5v1h-5zM29 39h2v1h-2zM3 40h9v1h-9zM13 40h3v1h-3zM21 40h3v1h-3zM29 40h3v1h-3zM1 41h7v1h-7zM11 41h4v1h-4zM16 41h1v1h-1zM19 41h4v1h-4zM29 41h4v1h-4zM2 42h6v1h-6zM11 42h4v1h-4zM16 42h1v1h-1zM20 42h2v1h-2zM29 42h4v1h-4zM3 43h3v1h-3zM8 43h1v1h-1zM18 43h5v1h-5zM29 43h2v1h-2zM32 43h5v1h-5zM18 44h5v1h-5zM29 44h2v1h-2zM32 44h6v1h-6zM31 45h8v1h-8zM31 46h8v1h-8zM29 47h1v1h-1zM31 47h4v1h-4zM29 48h6v1h-6z"/>
<path fill="#c3f70e" d="M11 8h1v1h-1zM22 10h1v1h-1zM30 14h1v1h-1zM21 17h1v1h-1zM30 17h1v1h-1zM14 18h1v1h-1zM21 18h1v1h-1zM11 19h1v1h-1zM37 25h1v1h-1zM38 26h1v1h-1zM40 26h1v1h-1zM18 29h1v1h-1zM37 29h1v1h-1zM34 30h1v1h-1zM35 35h1v1h-1zM18 41h1v1h-1zM28 41h1v1h-1zM17 42h2v1h-2zM6 43h1v1h-1zM13 43h1v1h-1zM16 43h1v1h-1zM30 45h1v1h-1z"/>
<path fill="#c5563a" d="M21 8h1v1h-1zM31 8h1v1h-1zM22 9h1v1h-1zM31 9h2v1h-2zM31 10h2v1h-2zM8 11h8v1h-8zM18 11h6v1h-6zM31 11h6v1h-6zM41 11h6v1h-6zM8 12h8v1h-8zM17 12h4v1h-4zM26 12h1v1h-1zM31 12h3v1h-3zM35 12h3v1h-3zM42 12h5v1h-5zM8 13h5v1h-5zM14 13h4v1h-4zM19 13h11v1h-11zM43 13h4v1h-4zM11 14h7v1h-7zM20 14h9v1h-9zM44 14h3v1h-3zM7 15h5v1h-5zM16 15h4v1h-4zM22 15h7v1h-7zM30 15h1v1h-1zM39 15h3v1h-3zM45 15h1v1h-1zM8 16h3v1h-3zM16 16h15v1h-15zM40 16h1v1h-1zM46 16h1v1h-1zM6 17h1v1h-1zM8 17h1v1h-1zM15 17h6v1h-6zM24 17h3v1h-3zM28 17h2v1h-2zM40 17h1v1h-1zM6 18h3v1h-3zM12 18h1v1h-1zM15 18h2v1h-2zM19 18h1v1h-1zM22 18h1v1h-1zM24 18h7v1h-7zM7 19h4v1h-4zM12 19h2v1h-2zM24 19h1v1h-1zM26 19h3v1h-3zM31 19h2v1h-2zM40 19h1v1h-1zM7 20h6v1h-6zM14 20h2v1h-2zM20 20h2v1h-2zM24 20h1v1h-1zM26 20h2v1h-2zM32 20h1v1h-1zM39 20h1v1h-1zM9 21h5v1h-5zM15 21h1v1h-1zM22 21h5v1h-5zM31 21h2v1h-2zM34 21h1v1h-1zM37 21h1v1h-1zM39 21h2v1h-2zM6 22h1v1h-1zM9 22h2v1h-2zM22 22h3v1h-3zM31 22h4v1h-4zM37 22h7v1h-7zM10 23h3v1h-3zM22 23h3v1h-3zM28 23h2v1h-2zM31 23h2v1h-2zM34 23h1v1h-1zM36 23h3v1h-3zM41 23h2v1h-2zM11 24h2v1h-2zM27 24h1v1h-1zM29 24h2v1h-2zM35 24h1v1h-1zM37 24h1v1h-1zM11 25h1v1h-1zM26 25h5v1h-5zM35 25h2v1h-2zM39 25h1v1h-1zM9 26h1v1h-1zM11 26h5v1h-5zM24 26h1v1h-1zM26 26h5v1h-5zM35 26h1v1h-1zM37 26h1v1h-1zM9 27h3v1h-3zM13 27h3v1h-3zM18 27h1v1h-1zM25 27h1v1h-1zM27 27h4v1h-4zM33 27h1v1h-1zM35 27h1v1h-1zM38 27h1v1h-1zM16 28h11v1h-11zM29 28h1v1h-1zM31 28h5v1h-5zM38 28h4v1h-4zM16 29h2v1h-2zM19 29h7v1h-7zM29 29h8v1h-8zM38 29h4v1h-4zM6 30h1v1h-1zM29 30h5v1h-5zM36 30h1v1h-1zM39 30h1v1h-1zM5 31h1v1h-1zM29 31h8v1h-8zM41 31h1v1h-1zM3 32h8v1h-8zM13 32h1v1h-1zM15 32h1v1h-1zM29 32h1v1h-1zM34 32h2v1h-2zM37 32h4v1h-4zM3 33h3v1h-3zM7 33h1v1h-1zM10 33h1v1h-1zM13 33h3v1h-3zM35 33h1v1h-1zM37 33h5v1h-5zM3 34h5v1h-5zM27 34h2v1h-2zM35 34h3v1h-3zM39 34h3v1h-3zM4 35h5v1h-5zM27 35h1v1h-1zM36 35h1v1h-1zM39 35h1v1h-1zM3 36h2v1h-2zM24 36h1v1h-1zM27 36h2v1h-2zM35 36h3v1h-3zM40 36h1v1h-1zM4 37h1v1h-1zM24 37h5v1h-5zM33 37h8v1h-8zM12 38h1v1h-1zM24 38h4v1h-4zM33 38h3v1h-3zM37 38h1v1h-1zM39 38h2v1h-2zM12 39h1v1h-1zM25 39h3v1h-3zM40 39h1v1h-1zM12 40h1v1h-1zM24 40h4v1h-4zM40 40h1v1h-1zM25 41h1v1h-1zM10 42h1v1h-1zM22 42h1v1h-1zM25 42h3v1h-3zM7 43h1v1h-1zM9 43h2v1h-2zM14 43h2v1h-2zM23 43h6v1h-6zM12 44h4v1h-4zM23 44h6v1h-6zM16 45h1v1h-1zM22 45h8v1h-8zM22 46h8v1h-8zM30 47h1v1h-1zM38 47h1v1h-1zM38 48h1v1h-1z"/>
<path fill="#ffff0c" d="M22 8h1v1h-1zM11 9h1v1h-1zM23 9h1v1h-1zM7 14h2v1h-2zM13 16h1v1h-1zM13 17h2v1h-2zM27 17h1v1h-1zM13 18h1v1h-1zM20 19h2v1h-2zM17 21h1v1h-1zM25 26h1v1h-1zM42 28h1v1h-1zM41 30h1v1h-1zM23 32h1v1h-1zM22 33h2v1h-2zM28 40h1v1h-1zM15 41h1v1h-1zM26 41h2v1h-2zM12 43h1v1h-1zM17 43h1v1h-1zM17 45h2v1h-2zM30 46h1v1h-1z"/>
<path fill="#df8625" d="M23 8h1v1h-1zM20 9h1v1h-1zM20 10h2v1h-2zM28 11h1v1h-1zM29 12h1v1h-1zM9 14h1v1h-1zM19 14h1v1h-1zM21 15h1v1h-1zM46 15h1v1h-1zM27 22h1v1h-1zM36 24h1v1h-1zM10 26h1v1h-1zM34 26h1v1h-1zM9 33h1v1h-1zM2 37h1v1h-1zM10 41h1v1h-1zM19 45h1v1h-1z"/>
<path fill="#154580" d="M25 8h1v1h-1zM27 8h1v1h-1zM37 19h1v1h-1zM12 25h1v1h-1z"/>
<path fill="#4ae610" d="M8 9h1v1h-1zM29 15h1v1h-1zM10 17h1v1h-1zM41 17h1v1h-1zM23 19h1v1h-1zM23 20h1v1h-1zM5 29h1v1h-1zM7 30h1v1h-1zM8 31h1v1h-1zM24 41h1v1h-1z"/>
<path fill="#e8961e" d="M21 9h1v1h-1zM10 14h1v1h-1zM18 14h1v1h-1zM20 15h1v1h-1zM31 27h2v1h-2zM5 30h1v1h-1zM14 30h1v1h-1zM41 32h1v1h-1zM8 33h1v1h-1zM8 34h1v1h-1zM2 38h1v1h-1zM8 42h2v1h-2z"/>
<path fill="#f9e511" d="M24 9h1v1h-1zM22 12h1v1h-1zM30 13h1v1h-1zM14 16h1v1h-1zM9 18h1v1h-1zM15 22h1v1h-1zM40 27h1v1h-1zM30 28h1v1h-1zM17 41h1v1h-1z"/>
<path fill="#26948c" d="M8 10h1v1h-1zM21 12h1v1h-1zM10 18h1v1h-1zM40 20h1v1h-1zM7 27h1v1h-1zM20 27h1v1h-1zM15 31h1v1h-1zM17 44h1v1h-1z"/>
<path fill="#86ee0f" d="M23 10h2v1h-2zM12 17h1v1h-1zM23 17h1v1h-1zM20 18h1v1h-1zM22 19h1v1h-1zM14 21h1v1h-1zM44 23h1v1h-1zM39 26h1v1h-1zM22 32h1v1h-1zM40 35h1v1h-1zM28 39h1v1h-1zM15 42h1v1h-1zM28 42h1v1h-1z"/>
<path fill="#26c44d" d="M13 13h1v1h-1zM33 16h1v1h-1zM14 19h1v1h-1zM22 20h1v1h-1zM38 24h1v1h-1zM41 27h1v1h-1zM8 30h1v1h-1zM6 31h1v1h-1zM9 31h1v1h-1zM39 31h1v1h-1zM38 35h1v1h-1zM11 44h1v1h-1z"/>
<path fill="#207a88" d="M18 13h1v1h-1zM35 20h1v1h-1zM7 28h1v1h-1z"/>
<path fill="#f4ca15" d="M29 14h1v1h-1zM7 17h1v1h-1zM40 18h1v1h-1zM16 22h1v1h-1zM36 26h1v1h-1zM40 30h1v1h-1zM40 31h1v1h-1zM9 34h1v1h-1z"/>
<path fill="#0ede12" d="M34 16h1v1h-1zM9 17h1v1h-1zM25 19h1v1h-1zM39 19h1v1h-1zM25 20h1v1h-1zM44 22h1v1h-1zM38 25h1v1h-1zM33 26h1v1h-1zM42 29h1v1h-1zM28 35h1v1h-1zM23 41h1v1h-1zM23 42h2v1h-2z"/>
<path fill="#eeb01a" d="M22 17h1v1h-1zM23 18h1v1h-1zM31 20h1v1h-1zM3 37h1v1h-1zM13 38h1v1h-1zM8 41h2v1h-2z"/>
<path fill="#2ab468" d="M11 18h1v1h-1zM45 22h1v1h-1zM19 27h1v1h-1zM4 28h1v1h-1zM8 28h1v1h-1zM4 29h1v1h-1zM7 31h1v1h-1z"/>
<path fill="#0f2a7c" d="M37 18h1v1h-1zM13 25h1v1h-1z"/>
<path fill="#d6762c" d="M15 19h1v1h-1zM30 23h1v1h-1z"/>
<path fill="#ce6633" d="M28 20h1v1h-1zM28 24h1v1h-1zM32 26h1v1h-1z"/>
<path fill="#28a47a" d="M36 20h2v1h-2zM36 21h1v1h-1zM26 27h1v1h-1zM34 27h1v1h-1zM34 33h1v1h-1zM3 35h1v1h-1zM11 43h1v1h-1zM16 44h1v1h-1z"/>
<path fill="#1a5f84" d="M8 27h1v1h-1z"/>
</g>
<g transform="translate(305.0 1001.0) scale(5.6)">
<path fill="#efefef" d="M12 6h1v1h-1zM12 7h4v1h-4zM12 8h4v1h-4zM18 8h1v1h-1zM20 8h1v1h-1zM24 8h3v1h-3zM28 8h1v1h-1zM12 9h8v1h-8zM23 9h1v1h-1zM26 9h3v1h-3zM12 10h8v1h-8zM22 10h4v1h-4zM27 10h2v1h-2zM35 10h1v1h-1zM14 11h6v1h-6zM21 11h5v1h-5zM38 11h3v1h-3zM14 12h8v1h-8zM23 12h3v1h-3zM37 12h5v1h-5zM14 13h6v1h-6zM36 13h1v1h-1zM46 13h2v1h-2zM13 14h1v1h-1zM15 14h5v1h-5zM46 14h2v1h-2zM14 15h9v1h-9zM26 15h3v1h-3zM37 15h7v1h-7zM14 16h8v1h-8zM27 16h2v1h-2zM37 16h7v1h-7zM18 17h6v1h-6zM18 18h7v1h-7zM18 19h7v1h-7zM40 19h2v1h-2zM18 20h6v1h-6zM39 20h3v1h-3zM11 21h2v1h-2zM15 21h1v1h-1zM17 21h7v1h-7zM37 21h4v1h-4zM12 22h2v1h-2zM16 22h2v1h-2zM19 22h3v1h-3zM23 22h1v1h-1zM37 22h4v1h-4zM11 23h1v1h-1zM14 23h2v1h-2zM19 23h1v1h-1zM21 23h3v1h-3zM25 23h1v1h-1zM27 23h1v1h-1zM32 23h2v1h-2zM37 23h2v1h-2zM8 24h1v1h-1zM12 24h6v1h-6zM20 24h15v1h-15zM7 25h3v1h-3zM13 25h6v1h-6zM21 25h2v1h-2zM24 25h4v1h-4zM29 25h3v1h-3zM33 25h3v1h-3zM8 26h10v1h-10zM19 26h3v1h-3zM33 26h4v1h-4zM45 26h2v1h-2zM7 27h8v1h-8zM16 27h1v1h-1zM19 27h1v1h-1zM21 27h1v1h-1zM34 27h3v1h-3zM45 27h2v1h-2zM10 28h1v1h-1zM32 28h1v1h-1zM36 28h1v1h-1zM10 29h2v1h-2zM35 29h2v1h-2zM20 30h2v1h-2zM20 31h2v1h-2zM39 31h1v1h-1zM12 32h4v1h-4zM18 32h4v1h-4zM9 33h2v1h-2zM12 33h4v1h-4zM18 33h4v1h-4zM7 34h1v1h-1zM9 34h3v1h-3zM13 34h3v1h-3zM18 34h2v1h-2zM23 34h1v1h-1zM7 35h2v1h-2zM11 35h1v1h-1zM14 35h1v1h-1zM18 35h2v1h-2zM23 35h1v1h-1zM5 36h4v1h-4zM11 36h5v1h-5zM19 36h6v1h-6zM4 37h8v1h-8zM20 37h4v1h-4zM4 38h2v1h-2zM21 38h2v1h-2zM4 39h3v1h-3zM23 39h1v1h-1zM26 39h5v1h-5zM38 39h1v1h-1zM6 40h1v1h-1zM15 40h1v1h-1zM22 40h2v1h-2zM26 40h2v1h-2zM29 40h1v1h-1zM36 40h4v1h-4zM6 41h1v1h-1zM17 41h7v1h-7zM33 41h1v1h-1zM36 41h3v1h-3zM5 42h3v1h-3zM22 42h3v1h-3zM34 42h5v1h-5zM14 43h6v1h-6zM22 43h4v1h-4zM27 43h6v1h-6zM13 44h7v1h-7zM22 44h11v1h-11zM39 44h1v1h-1zM25 45h4v1h-4zM25 46h4v1h-4zM34 47h1v1h-1z"/>
<path fill="#0f2a7c" d="M13 6h1v1h-1zM16 7h2v1h-2zM16 8h2v1h-2zM11 10h1v1h-1zM11 11h3v1h-3zM10 12h4v1h-4zM10 13h4v1h-4zM29 13h2v1h-2zM38 13h4v1h-4zM10 14h3v1h-3zM28 14h3v1h-3zM38 14h3v1h-3zM10 15h4v1h-4zM29 15h2v1h-2zM10 16h4v1h-4zM29 16h2v1h-2zM9 17h9v1h-9zM29 17h4v1h-4zM9 18h9v1h-9zM29 18h4v1h-4zM13 19h1v1h-1zM31 19h1v1h-1zM33 19h1v1h-1zM35 19h3v1h-3zM39 19h1v1h-1zM42 19h1v1h-1zM44 19h5v1h-5zM33 20h6v1h-6zM42 20h7v1h-7zM41 21h7v1h-7zM41 22h7v1h-7zM39 23h9v1h-9zM37 24h11v1h-11zM37 25h11v1h-11zM7 26h1v1h-1zM37 26h5v1h-5zM44 26h1v1h-1zM22 27h1v1h-1zM29 27h1v1h-1zM33 27h1v1h-1zM37 27h4v1h-4zM44 27h1v1h-1zM6 28h4v1h-4zM21 28h1v1h-1zM28 28h4v1h-4zM33 28h3v1h-3zM37 28h3v1h-3zM6 29h4v1h-4zM20 29h3v1h-3zM28 29h7v1h-7zM37 29h2v1h-2zM6 30h6v1h-6zM22 30h15v1h-15zM39 30h7v1h-7zM6 31h5v1h-5zM22 31h15v1h-15zM40 31h6v1h-6zM5 32h7v1h-7zM22 32h7v1h-7zM31 32h1v1h-1zM35 32h11v1h-11zM5 33h4v1h-4zM11 33h1v1h-1zM22 33h7v1h-7zM35 33h11v1h-11zM5 34h2v1h-2zM8 34h1v1h-1zM24 34h5v1h-5zM37 34h9v1h-9zM4 35h3v1h-3zM9 35h2v1h-2zM24 35h5v1h-5zM37 35h8v1h-8zM4 36h1v1h-1zM9 36h2v1h-2zM16 36h3v1h-3zM25 36h6v1h-6zM38 36h7v1h-7zM14 37h6v1h-6zM24 37h7v1h-7zM37 37h8v1h-8zM6 38h15v1h-15zM24 38h7v1h-7zM38 38h6v1h-6zM7 39h16v1h-16zM39 39h5v1h-5zM4 40h2v1h-2zM7 40h8v1h-8zM16 40h6v1h-6zM40 40h4v1h-4zM4 41h2v1h-2zM7 41h10v1h-10zM39 41h4v1h-4zM8 42h14v1h-14zM39 42h4v1h-4zM10 43h4v1h-4zM20 43h2v1h-2zM20 44h2v1h-2zM20 45h5v1h-5zM29 45h6v1h-6zM23 46h2v1h-2zM29 46h6v1h-6zM33 47h1v1h-1z"/>
<path fill="#4ae610" d="M18 7h1v1h-1zM20 13h1v1h-1zM20 14h1v1h-1zM42 17h1v1h-1zM43 18h4v1h-4zM49 18h1v1h-1zM12 20h3v1h-3zM10 22h1v1h-1zM12 23h1v1h-1zM22 26h1v1h-1zM28 26h1v1h-1zM30 26h1v1h-1zM23 27h1v1h-1zM17 28h1v1h-1zM23 28h1v1h-1zM46 29h1v1h-1zM18 31h1v1h-1zM30 34h1v1h-1zM35 36h1v1h-1zM37 39h1v1h-1zM24 40h1v1h-1zM24 41h2v1h-2zM32 41h1v1h-1z"/>
<path fill="#f9e511" d="M19 8h1v1h-1zM32 10h1v1h-1zM20 11h1v1h-1zM45 15h1v1h-1zM48 17h1v1h-1zM28 19h1v1h-1zM10 21h1v1h-1zM10 24h1v1h-1zM14 28h1v1h-1zM12 29h1v1h-1zM13 30h2v1h-2zM16 30h1v1h-1zM12 31h1v1h-1zM16 32h1v1h-1zM31 36h1v1h-1zM36 38h1v1h-1z"/>
<path fill="#df8625" d="M21 8h1v1h-1zM30 9h1v1h-1zM22 12h1v1h-1zM26 12h1v1h-1zM22 13h1v1h-1zM26 16h1v1h-1zM26 18h1v1h-1zM10 20h1v1h-1zM29 21h1v1h-1zM13 23h1v1h-1zM18 24h1v1h-1zM11 25h2v1h-2zM19 25h1v1h-1zM15 27h1v1h-1zM15 31h1v1h-1zM33 39h2v1h-2zM35 44h3v1h-3zM35 46h1v1h-1z"/>
<path fill="#ce6633" d="M22 8h1v1h-1zM21 9h2v1h-2zM24 9h1v1h-1zM23 14h1v1h-1zM48 14h1v1h-1zM48 15h1v1h-1zM22 16h1v1h-1zM48 16h1v1h-1zM26 19h1v1h-1zM26 20h3v1h-3zM26 22h1v1h-1zM28 23h2v1h-2zM38 45h1v1h-1zM38 46h1v1h-1zM36 47h2v1h-2zM37 48h1v1h-1zM39 48h1v1h-1z"/>
<path fill="#c5563a" d="M23 8h1v1h-1zM20 9h1v1h-1zM25 9h1v1h-1zM23 13h2v1h-2zM48 13h1v1h-1zM24 14h2v1h-2zM49 14h1v1h-1zM23 15h3v1h-3zM49 15h2v1h-2zM23 16h3v1h-3zM24 17h2v1h-2zM25 18h1v1h-1zM25 19h1v1h-1zM24 20h2v1h-2zM25 21h4v1h-4zM25 22h1v1h-1zM28 22h2v1h-2zM17 23h2v1h-2zM24 23h1v1h-1zM26 23h1v1h-1zM13 35h1v1h-1zM35 41h1v1h-1zM37 45h1v1h-1zM36 46h1v1h-1zM38 47h1v1h-1zM36 48h1v1h-1zM38 48h1v1h-1zM36 49h1v1h-1z"/>
<path fill="#e8961e" d="M27 8h1v1h-1zM31 9h1v1h-1zM45 14h1v1h-1zM9 19h1v1h-1zM27 19h1v1h-1zM9 20h1v1h-1zM24 21h1v1h-1zM15 22h1v1h-1zM24 22h1v1h-1zM16 23h1v1h-1zM30 23h1v1h-1zM19 24h1v1h-1zM15 28h1v1h-1zM14 29h2v1h-2zM15 30h1v1h-1zM14 31h1v1h-1zM16 33h1v1h-1zM31 37h2v1h-2zM32 38h1v1h-1zM35 39h2v1h-2zM34 40h2v1h-2zM36 43h3v1h-3z"/>
<path fill="#eeb01a" d="M29 9h1v1h-1zM30 10h1v1h-1zM45 13h1v1h-1zM44 14h1v1h-1zM10 19h1v1h-1zM30 21h1v1h-1zM14 22h1v1h-1zM17 33h1v1h-1zM33 38h1v1h-1zM31 39h2v1h-2zM32 40h1v1h-1zM35 45h1v1h-1zM39 45h1v1h-1zM41 45h1v1h-1zM40 46h2v1h-2z"/>
<path fill="#f4ca15" d="M32 9h1v1h-1zM31 10h1v1h-1zM44 13h1v1h-1zM44 15h1v1h-1zM46 15h2v1h-2zM45 16h3v1h-3zM11 20h1v1h-1zM31 22h1v1h-1zM9 24h1v1h-1zM20 25h1v1h-1zM13 28h1v1h-1zM16 28h1v1h-1zM13 29h1v1h-1zM13 31h1v1h-1zM17 32h1v1h-1zM16 34h2v1h-2zM16 35h2v1h-2zM32 36h1v1h-1zM33 37h2v1h-2zM31 38h1v1h-1zM34 38h2v1h-2zM33 40h1v1h-1zM35 43h1v1h-1zM40 45h1v1h-1z"/>
<path fill="#d6762c" d="M20 10h2v1h-2zM25 13h1v1h-1zM22 14h1v1h-1zM49 16h1v1h-1zM26 17h1v1h-1zM27 22h1v1h-1zM30 22h1v1h-1zM38 44h1v1h-1zM36 45h1v1h-1zM37 46h1v1h-1zM39 46h1v1h-1z"/>
<path fill="#86ee0f" d="M33 10h2v1h-2zM21 13h1v1h-1zM27 17h1v1h-1zM27 18h1v1h-1zM42 18h1v1h-1zM48 18h1v1h-1zM29 20h1v1h-1zM9 22h1v1h-1zM23 25h1v1h-1zM23 26h1v1h-1zM29 26h1v1h-1zM17 27h1v1h-1zM18 29h1v1h-1zM17 31h1v1h-1zM15 35h1v1h-1zM34 36h1v1h-1zM27 41h1v1h-1zM25 42h1v1h-1zM32 42h1v1h-1z"/>
<path fill="#28a47a" d="M31 11h2v1h-2zM14 14h1v1h-1zM36 15h1v1h-1zM34 16h1v1h-1zM35 17h1v1h-1zM38 17h1v1h-1zM41 18h1v1h-1zM16 19h1v1h-1zM36 22h1v1h-1zM35 23h1v1h-1zM24 26h1v1h-1zM31 26h1v1h-1zM18 27h1v1h-1zM20 27h1v1h-1zM30 27h1v1h-1zM42 27h1v1h-1zM24 28h1v1h-1zM26 28h1v1h-1zM25 29h1v1h-1zM37 30h1v1h-1zM32 32h1v1h-1zM30 33h2v1h-2zM29 34h1v1h-1zM34 34h1v1h-1zM34 35h2v1h-2zM12 37h1v1h-1zM29 41h2v1h-2zM29 42h2v1h-2z"/>
<path fill="#26c44d" d="M33 11h2v1h-2zM33 12h2v1h-2zM28 18h1v1h-1zM12 19h1v1h-1zM15 19h1v1h-1zM30 19h1v1h-1zM14 21h1v1h-1zM8 22h1v1h-1zM24 27h1v1h-1zM27 27h1v1h-1zM22 28h1v1h-1zM43 28h1v1h-1zM46 28h1v1h-1zM42 29h1v1h-1zM44 29h2v1h-2zM19 30h1v1h-1zM19 31h1v1h-1zM32 34h1v1h-1zM12 35h1v1h-1zM29 35h2v1h-2zM25 39h1v1h-1zM28 40h1v1h-1zM30 40h1v1h-1zM31 42h1v1h-1zM34 43h1v1h-1zM34 44h1v1h-1z"/>
<path fill="#207a88" d="M35 11h1v1h-1zM37 11h1v1h-1zM36 12h1v1h-1zM35 13h1v1h-1zM31 15h1v1h-1zM34 15h1v1h-1zM32 16h1v1h-1zM35 16h1v1h-1zM36 17h2v1h-2zM40 17h1v1h-1zM40 18h1v1h-1zM32 19h1v1h-1zM43 19h1v1h-1zM17 20h1v1h-1zM32 20h1v1h-1zM33 21h2v1h-2zM35 24h1v1h-1zM26 29h2v1h-2zM38 30h1v1h-1zM34 33h1v1h-1zM36 35h1v1h-1zM13 37h1v1h-1zM41 44h1v1h-1z"/>
<path fill="#1a5f84" d="M36 11h1v1h-1zM37 13h1v1h-1zM31 16h1v1h-1zM33 17h1v1h-1zM33 18h1v1h-1zM35 18h1v1h-1zM17 19h1v1h-1zM34 19h1v1h-1zM35 21h2v1h-2zM35 22h1v1h-1zM36 25h1v1h-1zM32 27h1v1h-1zM41 27h1v1h-1zM20 28h1v1h-1zM40 29h1v1h-1zM11 31h1v1h-1zM37 31h1v1h-1zM29 32h2v1h-2zM33 32h1v1h-1zM35 34h2v1h-2zM37 36h1v1h-1z"/>
<path fill="#26948c" d="M31 12h2v1h-2zM35 12h1v1h-1zM31 13h4v1h-4zM42 13h1v1h-1zM32 14h4v1h-4zM42 14h1v1h-1zM32 15h2v1h-2zM35 15h1v1h-1zM33 16h1v1h-1zM36 16h1v1h-1zM28 17h1v1h-1zM34 17h1v1h-1zM39 17h1v1h-1zM34 18h1v1h-1zM36 18h4v1h-4zM31 20h1v1h-1zM16 21h1v1h-1zM33 22h2v1h-2zM36 23h1v1h-1zM36 24h1v1h-1zM25 26h1v1h-1zM32 26h1v1h-1zM42 26h2v1h-2zM31 27h1v1h-1zM43 27h1v1h-1zM18 28h1v1h-1zM27 28h1v1h-1zM40 28h2v1h-2zM24 29h1v1h-1zM41 29h1v1h-1zM38 31h1v1h-1zM34 32h1v1h-1zM29 33h1v1h-1zM32 33h2v1h-2zM37 38h1v1h-1zM26 43h1v1h-1zM33 43h1v1h-1zM41 43h1v1h-1zM33 44h1v1h-1zM35 47h1v1h-1zM35 48h1v1h-1z"/>
<path fill="#2ab468" d="M43 13h1v1h-1zM36 14h1v1h-1zM41 17h1v1h-1zM29 19h1v1h-1zM15 20h2v1h-2zM34 23h1v1h-1zM32 25h1v1h-1zM26 26h1v1h-1zM25 27h2v1h-2zM28 27h1v1h-1zM19 28h1v1h-1zM25 28h1v1h-1zM19 29h1v1h-1zM43 29h1v1h-1zM31 34h1v1h-1zM33 34h1v1h-1zM33 35h1v1h-1zM24 39h1v1h-1z"/>
<path fill="#0ede12" d="M21 14h1v1h-1zM43 14h1v1h-1zM14 19h1v1h-1zM30 20h1v1h-1zM13 21h1v1h-1zM32 21h1v1h-1zM11 22h1v1h-1zM22 22h1v1h-1zM8 23h1v1h-1zM11 24h1v1h-1zM27 26h1v1h-1zM11 28h1v1h-1zM42 28h1v1h-1zM44 28h2v1h-2zM23 29h1v1h-1zM18 30h1v1h-1zM12 34h1v1h-1zM31 35h2v1h-2zM23 38h1v1h-1zM25 40h1v1h-1zM31 41h1v1h-1zM40 43h1v1h-1zM40 44h1v1h-1z"/>
<path fill="#154580" d="M31 14h1v1h-1zM37 14h1v1h-1zM41 14h1v1h-1zM38 19h1v1h-1zM39 29h1v1h-1z"/>
<path fill="#ffff0c" d="M44 16h1v1h-1zM43 17h1v1h-1zM49 17h1v1h-1zM11 19h1v1h-1zM18 22h1v1h-1zM10 23h1v1h-1zM20 23h1v1h-1zM31 23h1v1h-1zM10 25h1v1h-1zM28 25h1v1h-1zM18 26h1v1h-1zM12 28h1v1h-1zM16 29h1v1h-1zM17 30h1v1h-1zM33 36h1v1h-1zM36 37h1v1h-1zM34 41h1v1h-1zM39 43h1v1h-1z"/>
<path fill="#c3f70e" d="M44 17h4v1h-4zM47 18h1v1h-1zM9 21h1v1h-1zM31 21h1v1h-1zM32 22h1v1h-1zM9 23h1v1h-1zM17 29h1v1h-1zM12 30h1v1h-1zM16 31h1v1h-1zM36 36h1v1h-1zM35 37h1v1h-1zM31 40h1v1h-1zM26 41h1v1h-1zM28 41h1v1h-1zM26 42h3v1h-3zM33 42h1v1h-1z"/>
</g>
<g transform="translate(619.0 1001.0) scale(5.6)">
<path fill="#efefef" d="M14 6h2v1h-2zM14 7h5v1h-5zM21 7h1v1h-1zM14 8h6v1h-6zM22 8h1v1h-1zM24 8h1v1h-1zM28 8h1v1h-1zM30 8h1v1h-1zM14 9h6v1h-6zM21 9h2v1h-2zM29 9h2v1h-2zM14 10h8v1h-8zM29 10h2v1h-2zM37 10h1v1h-1zM16 11h6v1h-6zM27 11h2v1h-2zM40 11h2v1h-2zM16 12h7v1h-7zM26 12h2v1h-2zM40 12h2v1h-2zM14 13h1v1h-1zM16 13h6v1h-6zM38 13h2v1h-2zM48 13h2v1h-2zM14 14h2v1h-2zM18 14h4v1h-4zM48 14h2v1h-2zM16 15h7v1h-7zM29 15h2v1h-2zM37 15h7v1h-7zM16 16h6v1h-6zM29 16h2v1h-2zM37 16h7v1h-7zM20 17h4v1h-4zM21 18h3v1h-3zM19 19h6v1h-6zM26 19h1v1h-1zM40 19h1v1h-1zM42 19h1v1h-1zM18 20h9v1h-9zM39 20h5v1h-5zM15 21h9v1h-9zM25 21h1v1h-1zM40 21h4v1h-4zM12 22h5v1h-5zM18 22h2v1h-2zM21 22h3v1h-3zM39 22h5v1h-5zM13 23h1v1h-1zM16 23h2v1h-2zM23 23h4v1h-4zM10 24h1v1h-1zM14 24h6v1h-6zM23 24h6v1h-6zM10 25h2v1h-2zM15 25h5v1h-5zM22 25h2v1h-2zM25 25h4v1h-4zM9 26h11v1h-11zM22 26h3v1h-3zM47 26h2v1h-2zM10 27h9v1h-9zM21 27h2v1h-2zM47 27h2v1h-2zM12 28h2v1h-2zM34 28h1v1h-1zM12 29h1v1h-1zM20 30h5v1h-5zM20 31h5v1h-5zM41 31h1v1h-1zM12 32h3v1h-3zM16 32h2v1h-2zM20 32h4v1h-4zM12 33h6v1h-6zM20 33h5v1h-5zM10 34h1v1h-1zM12 34h2v1h-2zM16 34h2v1h-2zM20 34h1v1h-1zM22 34h1v1h-1zM9 35h3v1h-3zM13 35h1v1h-1zM17 35h1v1h-1zM7 36h1v1h-1zM9 36h3v1h-3zM13 36h4v1h-4zM20 36h3v1h-3zM31 36h2v1h-2zM7 37h7v1h-7zM20 37h4v1h-4zM31 37h2v1h-2zM6 38h2v1h-2zM11 38h1v1h-1zM23 38h1v1h-1zM31 38h3v1h-3zM36 38h1v1h-1zM6 39h1v1h-1zM24 39h5v1h-5zM33 39h6v1h-6zM6 40h1v1h-1zM8 40h1v1h-1zM17 40h2v1h-2zM25 40h3v1h-3zM33 40h3v1h-3zM37 40h3v1h-3zM8 41h1v1h-1zM18 41h6v1h-6zM33 41h3v1h-3zM38 41h3v1h-3zM8 42h2v1h-2zM18 42h2v1h-2zM33 42h2v1h-2zM38 42h4v1h-4zM16 43h4v1h-4zM27 43h8v1h-8zM16 44h4v1h-4zM26 44h9v1h-9zM26 45h5v1h-5zM26 46h5v1h-5zM35 47h1v1h-1z"/>
<path fill="#0ede12" d="M19 7h2v1h-2zM46 15h1v1h-1zM48 15h1v1h-1zM48 16h1v1h-1zM29 17h1v1h-1zM43 17h1v1h-1zM45 17h1v1h-1zM47 17h1v1h-1zM50 17h2v1h-2zM30 18h1v1h-1zM50 18h1v1h-1zM45 19h1v1h-1zM12 20h1v1h-1zM45 20h3v1h-3zM20 22h1v1h-1zM36 22h1v1h-1zM14 23h2v1h-2zM35 23h1v1h-1zM27 26h2v1h-2zM27 27h1v1h-1zM33 28h1v1h-1zM13 29h1v1h-1zM32 31h2v1h-2zM40 31h1v1h-1zM43 33h1v1h-1zM47 33h1v1h-1zM47 34h1v1h-1zM18 35h1v1h-1zM43 35h1v1h-1zM25 38h1v1h-1zM29 39h1v1h-1zM25 41h4v1h-4zM27 42h2v1h-2zM35 42h1v1h-1zM37 43h1v1h-1zM43 44h1v1h-1zM37 45h1v1h-1zM37 46h1v1h-1zM38 47h1v1h-1z"/>
<path fill="#86ee0f" d="M20 8h2v1h-2zM16 14h2v1h-2zM46 14h1v1h-1zM24 15h1v1h-1zM28 17h1v1h-1zM24 21h1v1h-1zM17 22h1v1h-1zM24 22h2v1h-2zM37 22h1v1h-1zM12 23h1v1h-1zM20 23h2v1h-2zM13 24h1v1h-1zM20 24h2v1h-2zM12 25h2v1h-2zM20 26h1v1h-1zM13 30h1v1h-1zM19 32h1v1h-1zM18 33h2v1h-2zM19 34h1v1h-1zM36 34h1v1h-1zM14 35h2v1h-2zM35 35h1v1h-1zM37 36h2v1h-2zM33 37h1v1h-1zM36 41h2v1h-2zM36 42h1v1h-1zM38 43h3v1h-3zM39 44h2v1h-2zM42 44h1v1h-1zM38 45h1v1h-1zM38 46h1v1h-1zM43 46h1v1h-1zM41 47h1v1h-1z"/>
<path fill="#ffff0c" d="M23 8h1v1h-1zM29 8h1v1h-1zM20 9h1v1h-1zM25 9h4v1h-4zM22 10h2v1h-2zM26 10h1v1h-1zM28 10h1v1h-1zM22 11h2v1h-2zM24 12h2v1h-2zM25 16h1v1h-1zM32 19h1v1h-1zM13 21h2v1h-2zM11 23h1v1h-1zM19 23h1v1h-1zM22 23h1v1h-1zM32 23h1v1h-1zM22 24h1v1h-1zM21 25h1v1h-1zM21 26h1v1h-1zM14 28h1v1h-1zM16 35h1v1h-1zM36 36h1v1h-1zM34 37h3v1h-3zM38 37h1v1h-1zM35 38h1v1h-1zM39 45h1v1h-1zM39 46h3v1h-3zM39 48h1v1h-1zM41 48h1v1h-1zM40 49h1v1h-1z"/>
<path fill="#e8961e" d="M25 8h3v1h-3zM31 9h1v1h-1zM24 10h2v1h-2zM24 11h2v1h-2zM31 20h1v1h-1zM30 21h2v1h-2zM29 22h1v1h-1zM31 22h1v1h-1z"/>
<path fill="#f4ca15" d="M23 9h2v1h-2zM32 9h1v1h-1zM25 17h1v1h-1zM25 18h1v1h-1zM27 18h2v1h-2zM27 19h2v1h-2zM30 19h1v1h-1zM27 20h2v1h-2zM28 21h1v1h-1zM32 21h1v1h-1zM27 22h2v1h-2zM32 22h1v1h-1z"/>
<path fill="#26948c" d="M33 9h1v1h-1zM33 10h1v1h-1zM36 12h1v1h-1zM12 13h2v1h-2zM15 13h1v1h-1zM25 13h1v1h-1zM28 13h1v1h-1zM37 13h1v1h-1zM40 13h1v1h-1zM44 13h1v1h-1zM13 14h1v1h-1zM36 14h1v1h-1zM40 14h5v1h-5zM23 15h1v1h-1zM35 15h1v1h-1zM35 16h1v1h-1zM44 16h2v1h-2zM33 17h3v1h-3zM37 17h2v1h-2zM40 17h1v1h-1zM18 18h1v1h-1zM33 18h2v1h-2zM36 18h4v1h-4zM41 18h1v1h-1zM37 19h1v1h-1zM33 20h1v1h-1zM50 20h2v1h-2zM33 21h1v1h-1zM38 21h2v1h-2zM46 21h2v1h-2zM33 22h1v1h-1zM45 22h1v1h-1zM18 23h1v1h-1zM33 23h1v1h-1zM37 23h2v1h-2zM40 23h2v1h-2zM30 24h1v1h-1zM32 24h1v1h-1zM29 25h1v1h-1zM31 25h1v1h-1zM25 26h2v1h-2zM31 26h1v1h-1zM42 26h5v1h-5zM19 27h2v1h-2zM23 27h1v1h-1zM25 27h1v1h-1zM44 27h1v1h-1zM10 28h1v1h-1zM16 28h5v1h-5zM22 28h2v1h-2zM25 28h2v1h-2zM28 28h1v1h-1zM43 28h1v1h-1zM45 28h3v1h-3zM9 29h1v1h-1zM18 29h7v1h-7zM26 29h1v1h-1zM42 29h2v1h-2zM45 29h3v1h-3zM8 30h1v1h-1zM11 30h1v1h-1zM15 30h5v1h-5zM46 30h2v1h-2zM9 31h2v1h-2zM13 31h2v1h-2zM16 31h2v1h-2zM19 31h1v1h-1zM25 31h1v1h-1zM42 31h1v1h-1zM44 31h3v1h-3zM9 32h2v1h-2zM15 32h1v1h-1zM29 32h1v1h-1zM44 32h4v1h-4zM8 33h2v1h-2zM11 33h1v1h-1zM44 33h3v1h-3zM9 34h1v1h-1zM11 34h1v1h-1zM14 34h2v1h-2zM12 35h1v1h-1zM26 35h2v1h-2zM34 35h1v1h-1zM12 36h1v1h-1zM17 36h1v1h-1zM14 37h6v1h-6zM12 38h2v1h-2zM15 38h1v1h-1zM18 38h2v1h-2zM30 38h1v1h-1zM12 39h1v1h-1zM20 39h1v1h-1zM31 39h2v1h-2zM39 39h1v1h-1zM31 40h1v1h-1zM31 41h2v1h-2zM22 42h2v1h-2zM29 42h3v1h-3zM43 42h1v1h-1zM21 43h1v1h-1zM23 43h1v1h-1zM22 44h1v1h-1zM24 44h1v1h-1zM23 45h1v1h-1zM34 45h1v1h-1zM34 46h1v1h-1z"/>
<path fill="#154580" d="M34 9h2v1h-2zM13 10h1v1h-1zM35 11h1v1h-1zM12 16h1v1h-1zM15 16h1v1h-1zM13 17h2v1h-2zM14 18h2v1h-2zM11 19h1v1h-1zM14 19h2v1h-2zM18 19h1v1h-1zM13 20h1v1h-1zM15 20h1v1h-1zM38 25h1v1h-1zM40 25h1v1h-1zM40 26h1v1h-1zM32 28h1v1h-1zM39 28h1v1h-1zM31 29h1v1h-1zM40 29h1v1h-1zM30 30h1v1h-1zM32 30h1v1h-1zM26 31h1v1h-1zM31 31h1v1h-1zM35 31h1v1h-1zM39 31h1v1h-1zM25 32h1v1h-1zM34 32h2v1h-2zM37 32h1v1h-1zM39 32h1v1h-1zM41 32h2v1h-2zM30 33h2v1h-2zM33 33h1v1h-1zM38 33h1v1h-1zM7 34h1v1h-1zM32 34h1v1h-1zM39 34h1v1h-1zM41 34h2v1h-2zM7 35h1v1h-1zM38 35h1v1h-1zM44 35h1v1h-1zM8 36h1v1h-1zM42 36h2v1h-2zM24 37h1v1h-1zM26 37h1v1h-1zM28 37h1v1h-1zM41 37h1v1h-1zM42 38h3v1h-3zM13 39h1v1h-1zM16 39h1v1h-1zM18 39h1v1h-1zM43 39h1v1h-1zM45 39h1v1h-1zM9 40h1v1h-1zM16 40h1v1h-1zM42 40h3v1h-3zM7 42h1v1h-1zM10 42h1v1h-1zM15 42h1v1h-1zM25 45h1v1h-1z"/>
<path fill="#f9e511" d="M27 10h1v1h-1zM24 17h1v1h-1zM27 17h1v1h-1zM24 18h1v1h-1zM26 18h1v1h-1zM25 19h1v1h-1zM32 20h1v1h-1zM27 21h1v1h-1zM27 23h1v1h-1zM29 23h3v1h-3zM37 37h1v1h-1zM40 47h1v1h-1z"/>
<path fill="#c3f70e" d="M32 10h1v1h-1zM26 11h1v1h-1zM22 13h1v1h-1zM25 15h1v1h-1zM24 16h1v1h-1zM26 16h1v1h-1zM26 21h1v1h-1zM26 22h1v1h-1zM28 23h1v1h-1zM14 25h1v1h-1zM15 28h1v1h-1zM14 29h2v1h-2zM19 35h1v1h-1zM36 35h1v1h-1zM34 36h2v1h-2zM34 38h1v1h-1zM37 38h2v1h-2zM36 40h1v1h-1zM38 44h1v1h-1zM40 45h2v1h-2zM42 46h1v1h-1zM39 47h1v1h-1zM40 48h1v1h-1z"/>
<path fill="#1a5f84" d="M34 10h1v1h-1zM36 10h1v1h-1zM13 11h2v1h-2zM34 11h1v1h-1zM36 11h1v1h-1zM38 11h1v1h-1zM12 12h2v1h-2zM15 12h1v1h-1zM33 12h3v1h-3zM37 12h2v1h-2zM31 13h3v1h-3zM50 13h1v1h-1zM26 14h3v1h-3zM32 14h3v1h-3zM50 14h2v1h-2zM15 15h1v1h-1zM28 15h1v1h-1zM31 15h4v1h-4zM14 16h1v1h-1zM31 16h3v1h-3zM11 17h2v1h-2zM16 17h1v1h-1zM18 17h2v1h-2zM31 17h2v1h-2zM11 18h3v1h-3zM17 18h1v1h-1zM19 18h2v1h-2zM32 18h1v1h-1zM12 19h2v1h-2zM16 19h2v1h-2zM35 19h2v1h-2zM11 20h1v1h-1zM14 20h1v1h-1zM16 20h2v1h-2zM34 20h3v1h-3zM34 21h1v1h-1zM34 22h1v1h-1zM49 22h1v1h-1zM49 23h1v1h-1zM38 24h6v1h-6zM45 24h1v1h-1zM49 24h2v1h-2zM34 25h1v1h-1zM39 25h1v1h-1zM41 25h2v1h-2zM45 25h2v1h-2zM48 25h2v1h-2zM33 26h1v1h-1zM49 26h1v1h-1zM40 27h2v1h-2zM27 28h1v1h-1zM29 28h1v1h-1zM31 28h1v1h-1zM36 28h1v1h-1zM40 28h1v1h-1zM27 29h1v1h-1zM29 29h2v1h-2zM33 29h1v1h-1zM35 29h2v1h-2zM41 29h1v1h-1zM27 30h3v1h-3zM31 30h1v1h-1zM33 30h5v1h-5zM39 30h3v1h-3zM27 31h4v1h-4zM34 31h1v1h-1zM36 31h3v1h-3zM43 31h1v1h-1zM24 32h1v1h-1zM27 32h2v1h-2zM30 32h4v1h-4zM36 32h1v1h-1zM38 32h1v1h-1zM25 33h1v1h-1zM27 33h2v1h-2zM32 33h1v1h-1zM34 33h3v1h-3zM30 34h2v1h-2zM34 34h1v1h-1zM44 34h1v1h-1zM8 35h1v1h-1zM29 35h4v1h-4zM37 35h1v1h-1zM45 35h1v1h-1zM27 36h2v1h-2zM39 36h1v1h-1zM44 36h2v1h-2zM25 37h1v1h-1zM27 37h1v1h-1zM29 37h2v1h-2zM44 37h2v1h-2zM8 38h3v1h-3zM22 38h1v1h-1zM24 38h1v1h-1zM27 38h1v1h-1zM45 38h1v1h-1zM7 39h5v1h-5zM15 39h1v1h-1zM17 39h1v1h-1zM22 39h1v1h-1zM40 39h3v1h-3zM44 39h1v1h-1zM10 40h1v1h-1zM12 40h4v1h-4zM19 40h1v1h-1zM23 40h1v1h-1zM40 40h1v1h-1zM45 40h1v1h-1zM11 41h2v1h-2zM14 41h3v1h-3zM30 41h1v1h-1zM43 41h2v1h-2zM11 42h4v1h-4zM16 42h1v1h-1zM44 42h1v1h-1zM14 43h2v1h-2zM25 43h1v1h-1zM25 44h1v1h-1zM36 44h1v1h-1zM31 45h1v1h-1zM35 45h1v1h-1zM25 46h1v1h-1zM31 46h2v1h-2zM36 46h1v1h-1z"/>
<path fill="#207a88" d="M35 10h1v1h-1zM15 11h1v1h-1zM33 11h1v1h-1zM37 11h1v1h-1zM39 11h1v1h-1zM14 12h1v1h-1zM39 12h1v1h-1zM26 13h2v1h-2zM30 13h1v1h-1zM34 13h3v1h-3zM42 13h1v1h-1zM51 13h1v1h-1zM12 14h1v1h-1zM24 14h2v1h-2zM31 14h1v1h-1zM35 14h1v1h-1zM37 14h2v1h-2zM12 15h3v1h-3zM27 15h1v1h-1zM44 15h1v1h-1zM51 15h1v1h-1zM13 16h1v1h-1zM22 16h2v1h-2zM34 16h1v1h-1zM15 17h1v1h-1zM17 17h1v1h-1zM36 17h1v1h-1zM39 17h1v1h-1zM16 18h1v1h-1zM31 18h1v1h-1zM34 19h1v1h-1zM37 20h2v1h-2zM48 21h2v1h-2zM10 22h1v1h-1zM38 22h1v1h-1zM44 22h1v1h-1zM47 22h2v1h-2zM39 23h1v1h-1zM42 23h7v1h-7zM37 24h1v1h-1zM44 24h1v1h-1zM46 24h3v1h-3zM32 25h1v1h-1zM43 25h2v1h-2zM47 25h1v1h-1zM32 26h1v1h-1zM34 26h1v1h-1zM41 26h1v1h-1zM9 27h1v1h-1zM24 27h1v1h-1zM30 27h5v1h-5zM42 27h2v1h-2zM46 27h1v1h-1zM49 27h1v1h-1zM8 28h2v1h-2zM21 28h1v1h-1zM24 28h1v1h-1zM30 28h1v1h-1zM35 28h1v1h-1zM41 28h2v1h-2zM44 28h1v1h-1zM8 29h1v1h-1zM25 29h1v1h-1zM28 29h1v1h-1zM32 29h1v1h-1zM34 29h1v1h-1zM44 29h1v1h-1zM9 30h1v1h-1zM12 30h1v1h-1zM25 30h2v1h-2zM38 30h1v1h-1zM42 30h1v1h-1zM12 31h1v1h-1zM8 32h1v1h-1zM26 32h1v1h-1zM43 32h1v1h-1zM26 33h1v1h-1zM29 33h1v1h-1zM37 33h1v1h-1zM42 33h1v1h-1zM8 34h1v1h-1zM24 34h3v1h-3zM28 34h2v1h-2zM33 34h1v1h-1zM37 34h1v1h-1zM45 34h2v1h-2zM28 35h1v1h-1zM33 35h1v1h-1zM46 35h1v1h-1zM24 36h3v1h-3zM29 36h2v1h-2zM39 37h1v1h-1zM14 38h1v1h-1zM17 38h1v1h-1zM20 38h2v1h-2zM26 38h1v1h-1zM28 38h2v1h-2zM39 38h1v1h-1zM14 39h1v1h-1zM19 39h1v1h-1zM23 39h1v1h-1zM11 40h1v1h-1zM20 40h1v1h-1zM22 40h1v1h-1zM32 40h1v1h-1zM41 40h1v1h-1zM9 41h2v1h-2zM13 41h1v1h-1zM17 41h1v1h-1zM41 41h2v1h-2zM17 42h1v1h-1zM42 42h1v1h-1zM12 43h2v1h-2zM22 43h1v1h-1zM24 43h1v1h-1zM26 43h1v1h-1zM35 43h2v1h-2zM15 44h1v1h-1zM20 44h1v1h-1zM35 44h1v1h-1zM24 45h1v1h-1zM32 45h2v1h-2zM36 45h1v1h-1zM33 46h1v1h-1zM35 46h1v1h-1z"/>
<path fill="#4ae610" d="M23 12h1v1h-1zM23 13h1v1h-1zM46 13h2v1h-2zM22 14h2v1h-2zM47 14h1v1h-1zM26 15h1v1h-1zM47 15h1v1h-1zM29 18h1v1h-1zM49 18h1v1h-1zM44 19h1v1h-1zM44 20h1v1h-1zM12 24h1v1h-1zM20 25h1v1h-1zM11 32h1v1h-1zM18 32h1v1h-1zM18 34h1v1h-1zM35 34h1v1h-1zM33 36h1v1h-1zM37 42h1v1h-1zM41 43h1v1h-1zM37 44h1v1h-1zM41 44h1v1h-1zM42 45h2v1h-2zM42 47h1v1h-1zM38 48h1v1h-1z"/>
<path fill="#2ab468" d="M24 13h1v1h-1zM50 16h1v1h-1zM42 17h1v1h-1zM43 19h1v1h-1zM48 19h2v1h-2zM48 20h1v1h-1zM35 21h2v1h-2zM45 21h1v1h-1zM35 22h1v1h-1zM9 25h1v1h-1zM11 29h1v1h-1zM11 31h1v1h-1zM19 36h1v1h-1zM28 40h1v1h-1zM30 40h1v1h-1zM24 42h2v1h-2z"/>
<path fill="#28a47a" d="M41 13h1v1h-1zM43 13h1v1h-1zM45 13h1v1h-1zM39 14h1v1h-1zM45 14h1v1h-1zM36 15h1v1h-1zM45 15h1v1h-1zM50 15h1v1h-1zM27 16h2v1h-2zM36 16h1v1h-1zM51 16h1v1h-1zM41 17h1v1h-1zM35 18h1v1h-1zM40 18h1v1h-1zM33 19h1v1h-1zM38 19h2v1h-2zM41 19h1v1h-1zM50 19h2v1h-2zM12 21h1v1h-1zM37 21h1v1h-1zM44 21h1v1h-1zM11 22h1v1h-1zM46 22h1v1h-1zM10 23h1v1h-1zM29 24h1v1h-1zM31 24h1v1h-1zM30 25h1v1h-1zM30 26h1v1h-1zM26 27h1v1h-1zM29 27h1v1h-1zM45 27h1v1h-1zM11 28h1v1h-1zM10 29h1v1h-1zM16 29h2v1h-2zM10 30h1v1h-1zM14 30h1v1h-1zM43 30h3v1h-3zM8 31h1v1h-1zM15 31h1v1h-1zM18 31h1v1h-1zM47 31h1v1h-1zM7 33h1v1h-1zM10 33h1v1h-1zM27 34h1v1h-1zM25 35h1v1h-1zM18 36h1v1h-1zM16 38h1v1h-1zM21 39h1v1h-1zM21 40h1v1h-1zM24 40h1v1h-1zM29 41h1v1h-1zM20 42h2v1h-2zM32 42h1v1h-1zM20 43h1v1h-1zM21 44h1v1h-1zM23 44h1v1h-1zM22 45h1v1h-1zM36 47h1v1h-1z"/>
<path fill="#26c44d" d="M49 15h1v1h-1zM46 16h2v1h-2zM49 16h1v1h-1zM30 17h1v1h-1zM44 17h1v1h-1zM46 17h1v1h-1zM48 17h2v1h-2zM42 18h7v1h-7zM51 18h1v1h-1zM46 19h2v1h-2zM49 20h1v1h-1zM11 24h1v1h-1zM24 25h1v1h-1zM29 26h1v1h-1zM28 27h1v1h-1zM30 39h1v1h-1zM29 40h1v1h-1zM24 41h1v1h-1zM26 42h1v1h-1zM42 43h2v1h-2zM37 47h1v1h-1zM37 48h1v1h-1z"/>
<path fill="#eeb01a" d="M26 17h1v1h-1zM29 19h1v1h-1zM31 19h1v1h-1zM29 20h1v1h-1z"/>
<path fill="#df8625" d="M30 20h1v1h-1zM11 21h1v1h-1zM29 21h1v1h-1zM30 22h1v1h-1z"/>
<path fill="#0f2a7c" d="M40 32h1v1h-1zM39 33h3v1h-3zM38 34h1v1h-1zM40 34h1v1h-1zM43 34h1v1h-1zM39 35h4v1h-4zM40 36h2v1h-2zM40 37h1v1h-1zM42 37h2v1h-2zM40 38h2v1h-2zM7 40h1v1h-1zM6 41h2v1h-2z"/>
</g>
<g transform="translate(933.0 1001.0) scale(5.6)">
<path fill="#efefef" d="M9 5h5v1h-5zM9 6h5v1h-5zM17 6h1v1h-1zM9 7h7v1h-7zM17 7h1v1h-1zM25 7h1v1h-1zM8 8h10v1h-10zM20 8h1v1h-1zM24 8h3v1h-3zM8 9h10v1h-10zM20 9h6v1h-6zM8 10h15v1h-15zM24 10h3v1h-3zM35 10h2v1h-2zM39 10h5v1h-5zM12 11h6v1h-6zM24 11h2v1h-2zM41 11h5v1h-5zM12 12h6v1h-6zM25 12h1v1h-1zM42 12h4v1h-4zM9 13h9v1h-9zM24 13h3v1h-3zM35 13h7v1h-7zM7 14h11v1h-11zM25 14h1v1h-1zM35 14h7v1h-7zM16 15h4v1h-4zM43 15h7v1h-7zM16 16h4v1h-4zM43 16h6v1h-6zM14 17h9v1h-9zM14 18h8v1h-8zM9 19h3v1h-3zM13 19h7v1h-7zM37 19h5v1h-5zM10 20h10v1h-10zM37 20h1v1h-1zM41 20h1v1h-1zM7 21h1v1h-1zM9 21h6v1h-6zM16 21h3v1h-3zM22 21h1v1h-1zM24 21h1v1h-1zM7 22h2v1h-2zM11 22h2v1h-2zM19 22h6v1h-6zM4 23h3v1h-3zM9 23h7v1h-7zM19 23h6v1h-6zM33 23h1v1h-1zM4 24h5v1h-5zM10 24h6v1h-6zM19 24h7v1h-7zM31 24h4v1h-4zM4 25h11v1h-11zM16 25h4v1h-4zM23 25h2v1h-2zM26 25h1v1h-1zM31 25h4v1h-4zM5 26h15v1h-15zM33 26h4v1h-4zM5 27h9v1h-9zM16 27h4v1h-4zM33 27h4v1h-4zM5 28h7v1h-7zM30 28h1v1h-1zM5 29h7v1h-7zM18 30h3v1h-3zM18 31h3v1h-3zM38 31h1v1h-1zM5 32h3v1h-3zM16 32h4v1h-4zM3 33h1v1h-1zM5 33h2v1h-2zM16 33h4v1h-4zM4 34h1v1h-1zM7 34h11v1h-11zM21 34h1v1h-1zM3 35h1v1h-1zM5 35h13v1h-13zM21 35h1v1h-1zM2 36h5v1h-5zM8 36h9v1h-9zM18 36h1v1h-1zM20 36h2v1h-2zM30 36h1v1h-1zM1 37h13v1h-13zM18 37h4v1h-4zM1 38h3v1h-3zM5 38h4v1h-4zM10 38h2v1h-2zM13 38h1v1h-1zM18 38h2v1h-2zM29 38h2v1h-2zM1 39h3v1h-3zM5 39h2v1h-2zM25 39h6v1h-6zM1 40h2v1h-2zM9 40h1v1h-1zM17 40h1v1h-1zM24 40h3v1h-3zM28 40h2v1h-2zM33 40h1v1h-1zM37 40h1v1h-1zM39 40h1v1h-1zM14 41h4v1h-4zM20 41h4v1h-4zM31 41h9v1h-9zM6 42h2v1h-2zM14 42h4v1h-4zM20 42h4v1h-4zM31 42h9v1h-9zM7 43h3v1h-3zM11 43h5v1h-5zM20 43h15v1h-15zM38 43h2v1h-2zM8 44h1v1h-1zM12 44h4v1h-4zM20 44h5v1h-5zM27 44h7v1h-7zM38 44h1v1h-1zM16 45h2v1h-2zM23 45h6v1h-6zM38 45h1v1h-1zM16 46h2v1h-2zM22 46h7v1h-7zM23 47h13v1h-13zM24 48h12v1h-12zM28 49h9v1h-9zM39 49h1v1h-1zM32 50h5v1h-5z"/>
<path fill="#0f2a7c" d="M14 5h1v1h-1zM16 6h1v1h-1zM16 7h1v1h-1zM9 12h1v1h-1zM42 13h2v1h-2zM42 14h2v1h-2zM7 15h3v1h-3zM34 15h6v1h-6zM7 16h2v1h-2zM34 16h1v1h-1zM38 16h1v1h-1zM35 18h2v1h-2zM42 21h2v1h-2zM42 22h2v1h-2zM39 23h2v1h-2zM42 23h2v1h-2zM39 24h5v1h-5zM40 25h4v1h-4zM40 26h2v1h-2zM42 27h2v1h-2zM31 28h2v1h-2zM31 29h1v1h-1zM4 30h3v1h-3zM9 30h3v1h-3zM21 30h1v1h-1zM4 31h3v1h-3zM9 31h3v1h-3zM23 31h1v1h-1zM33 31h1v1h-1zM4 32h1v1h-1zM8 32h4v1h-4zM20 32h5v1h-5zM4 33h1v1h-1zM7 33h5v1h-5zM20 33h6v1h-6zM3 34h1v1h-1zM6 34h1v1h-1zM20 34h1v1h-1zM25 34h1v1h-1zM27 34h1v1h-1zM4 35h1v1h-1zM25 35h3v1h-3zM7 36h1v1h-1zM17 36h1v1h-1zM25 36h4v1h-4zM14 37h4v1h-4zM24 37h4v1h-4zM4 38h1v1h-1zM9 38h1v1h-1zM14 38h4v1h-4zM20 38h9v1h-9zM4 39h1v1h-1zM8 39h2v1h-2zM14 39h11v1h-11zM4 40h3v1h-3zM8 40h1v1h-1zM14 40h3v1h-3zM18 40h6v1h-6zM1 41h5v1h-5zM8 41h1v1h-1zM18 41h2v1h-2zM1 42h3v1h-3zM5 42h1v1h-1zM8 42h1v1h-1zM18 42h2v1h-2zM3 43h4v1h-4zM16 43h4v1h-4zM7 44h1v1h-1zM16 44h4v1h-4zM25 44h2v1h-2zM31 45h3v1h-3zM31 46h3v1h-3z"/>
<path fill="#a9abd0" d="M15 5h1v1h-1zM10 11h2v1h-2zM33 11h1v1h-1zM37 11h1v1h-1zM10 12h2v1h-2zM32 12h1v1h-1zM36 12h1v1h-1zM39 12h1v1h-1zM18 13h1v1h-1zM44 13h1v1h-1zM34 14h1v1h-1zM45 14h1v1h-1zM10 15h2v1h-2zM31 15h1v1h-1zM41 15h1v1h-1zM9 16h3v1h-3zM33 17h2v1h-2zM39 17h1v1h-1zM30 18h1v1h-1zM32 18h1v1h-1zM34 18h1v1h-1zM38 18h1v1h-1zM41 18h1v1h-1zM32 19h5v1h-5zM45 19h1v1h-1zM6 20h4v1h-4zM33 20h4v1h-4zM6 21h1v1h-1zM34 21h3v1h-3zM45 21h1v1h-1zM5 22h1v1h-1zM35 22h2v1h-2zM39 22h2v1h-2zM7 23h1v1h-1zM28 23h1v1h-1zM34 23h3v1h-3zM38 23h1v1h-1zM27 24h1v1h-1zM29 24h1v1h-1zM29 26h2v1h-2zM37 26h1v1h-1zM43 26h2v1h-2zM27 27h1v1h-1zM30 27h2v1h-2zM44 27h2v1h-2zM26 28h1v1h-1zM33 28h3v1h-3zM37 28h1v1h-1zM42 28h4v1h-4zM21 29h1v1h-1zM26 29h1v1h-1zM29 29h1v1h-1zM35 29h2v1h-2zM40 29h1v1h-1zM42 29h1v1h-1zM44 29h2v1h-2zM26 30h1v1h-1zM28 30h1v1h-1zM31 30h1v1h-1zM35 30h1v1h-1zM40 30h2v1h-2zM28 31h1v1h-1zM35 31h1v1h-1zM37 31h1v1h-1zM42 31h1v1h-1zM25 32h1v1h-1zM31 32h6v1h-6zM38 32h1v1h-1zM40 32h2v1h-2zM31 33h1v1h-1zM33 33h1v1h-1zM36 33h1v1h-1zM38 33h1v1h-1zM40 33h1v1h-1zM5 34h1v1h-1zM22 34h1v1h-1zM24 34h1v1h-1zM30 34h1v1h-1zM32 34h1v1h-1zM36 34h8v1h-8zM23 35h1v1h-1zM31 35h1v1h-1zM36 35h8v1h-8zM23 36h2v1h-2zM34 36h2v1h-2zM38 36h5v1h-5zM23 37h1v1h-1zM39 37h4v1h-4zM37 38h6v1h-6zM7 39h1v1h-1zM12 39h1v1h-1zM37 39h5v1h-5zM3 40h1v1h-1zM7 40h1v1h-1zM10 40h2v1h-2zM38 40h1v1h-1zM40 40h1v1h-1zM6 41h2v1h-2zM40 41h2v1h-2zM4 42h1v1h-1zM9 42h1v1h-1zM24 42h1v1h-1zM40 42h2v1h-2zM10 43h1v1h-1zM9 44h3v1h-3zM34 44h1v1h-1zM36 44h1v1h-1zM18 45h2v1h-2zM34 45h2v1h-2zM18 46h1v1h-1zM20 46h2v1h-2zM34 46h2v1h-2z"/>
<path fill="#26948c" d="M14 6h2v1h-2zM37 10h1v1h-1zM28 11h1v1h-1zM40 11h1v1h-1zM35 12h1v1h-1zM41 12h1v1h-1zM36 16h1v1h-1zM36 17h1v1h-1zM41 17h1v1h-1zM47 17h1v1h-1zM37 18h1v1h-1zM43 19h1v1h-1zM44 20h1v1h-1zM47 20h1v1h-1zM33 21h1v1h-1zM37 22h1v1h-1zM37 23h1v1h-1zM35 24h1v1h-1zM39 28h1v1h-1zM18 29h1v1h-1zM33 29h1v1h-1zM22 31h1v1h-1zM34 35h1v1h-1zM12 41h1v1h-1zM12 42h1v1h-1z"/>
<path fill="#c5563a" d="M18 6h2v1h-2zM18 7h7v1h-7zM21 8h3v1h-3zM23 10h1v1h-1zM22 11h2v1h-2zM22 12h3v1h-3zM21 13h3v1h-3zM46 13h2v1h-2zM22 14h3v1h-3zM46 14h4v1h-4zM20 15h9v1h-9zM20 16h9v1h-9zM6 17h8v1h-8zM23 17h6v1h-6zM30 17h1v1h-1zM6 18h8v1h-8zM22 18h6v1h-6zM12 19h1v1h-1zM20 19h6v1h-6zM27 19h5v1h-5zM20 20h13v1h-13zM15 21h1v1h-1zM21 21h1v1h-1zM23 21h1v1h-1zM25 21h8v1h-8zM15 22h4v1h-4zM25 22h8v1h-8zM16 23h3v1h-3zM25 23h3v1h-3zM31 23h2v1h-2zM9 24h1v1h-1zM16 24h3v1h-3zM30 24h1v1h-1zM15 25h1v1h-1zM20 25h3v1h-3zM20 26h5v1h-5zM14 27h2v1h-2zM20 27h6v1h-6zM12 28h4v1h-4zM20 28h1v1h-1zM23 28h2v1h-2zM12 29h4v1h-4zM20 29h1v1h-1zM22 29h3v1h-3zM12 30h6v1h-6zM43 30h1v1h-1zM12 31h6v1h-6zM12 32h4v1h-4zM42 32h1v1h-1zM12 33h4v1h-4zM31 36h1v1h-1zM33 36h1v1h-1zM36 36h1v1h-1zM32 37h6v1h-6zM31 38h6v1h-6zM31 39h6v1h-6zM27 40h1v1h-1zM30 40h3v1h-3zM34 40h3v1h-3zM26 41h5v1h-5zM26 42h5v1h-5zM39 44h2v1h-2zM37 45h1v1h-1zM29 46h1v1h-1zM36 46h4v1h-4zM38 47h2v1h-2zM37 48h3v1h-3zM37 49h2v1h-2zM37 50h2v1h-2z"/>
<path fill="#86ee0f" d="M18 8h2v1h-2zM28 10h1v1h-1zM30 10h2v1h-2zM33 10h1v1h-1zM31 13h2v1h-2zM46 17h1v1h-1zM43 18h1v1h-1zM47 18h1v1h-1zM10 22h1v1h-1zM38 22h1v1h-1zM36 24h1v1h-1zM44 24h1v1h-1zM29 25h1v1h-1zM25 28h1v1h-1zM27 29h1v1h-1zM41 29h1v1h-1zM43 29h1v1h-1zM8 30h1v1h-1zM30 30h1v1h-1zM36 30h1v1h-1zM30 31h1v1h-1zM30 33h1v1h-1zM34 33h1v1h-1zM29 35h1v1h-1zM37 44h1v1h-1z"/>
<path fill="#4ae610" d="M18 9h2v1h-2zM30 11h1v1h-1zM19 14h1v1h-1zM21 14h1v1h-1zM29 15h1v1h-1zM37 17h1v1h-1zM45 17h1v1h-1zM33 18h1v1h-1zM42 18h1v1h-1zM45 18h1v1h-1zM20 21h1v1h-1zM6 22h1v1h-1zM34 22h1v1h-1zM45 22h1v1h-1zM45 23h1v1h-1zM28 24h1v1h-1zM45 25h1v1h-1zM28 26h1v1h-1zM31 26h1v1h-1zM45 26h1v1h-1zM32 27h1v1h-1zM16 28h1v1h-1zM41 28h1v1h-1zM19 29h1v1h-1zM28 29h1v1h-1zM7 30h1v1h-1zM24 30h1v1h-1zM27 30h1v1h-1zM34 30h1v1h-1zM38 30h1v1h-1zM41 31h1v1h-1zM28 32h1v1h-1zM37 32h1v1h-1zM28 34h1v1h-1zM33 34h1v1h-1zM32 36h1v1h-1zM37 36h1v1h-1zM13 39h1v1h-1zM12 40h2v1h-2zM10 41h1v1h-1zM10 42h1v1h-1zM37 43h1v1h-1zM22 45h1v1h-1z"/>
<path fill="#f9e511" d="M31 9h1v1h-1zM29 12h1v1h-1zM20 13h1v1h-1zM20 14h1v1h-1zM5 21h1v1h-1zM8 21h1v1h-1zM9 22h1v1h-1zM14 22h1v1h-1zM8 23h1v1h-1zM30 23h1v1h-1zM21 28h1v1h-1zM25 31h1v1h-1zM39 31h1v1h-1zM43 31h1v1h-1zM33 35h1v1h-1zM29 36h1v1h-1zM38 37h1v1h-1z"/>
<path fill="#c3f70e" d="M32 9h1v1h-1zM34 9h1v1h-1zM32 10h1v1h-1zM18 11h1v1h-1zM20 11h1v1h-1zM29 14h1v1h-1zM33 14h1v1h-1zM13 16h1v1h-1zM39 16h1v1h-1zM42 17h1v1h-1zM28 18h1v1h-1zM44 18h1v1h-1zM44 19h1v1h-1zM42 20h1v1h-1zM44 22h1v1h-1zM36 25h1v1h-1zM38 25h1v1h-1zM26 26h1v1h-1zM37 27h2v1h-2zM17 28h1v1h-1zM40 28h1v1h-1zM30 29h1v1h-1zM29 31h1v1h-1zM36 31h1v1h-1zM32 33h1v1h-1zM35 34h1v1h-1zM35 43h1v1h-1zM35 44h1v1h-1zM36 45h1v1h-1z"/>
<path fill="#0ede12" d="M33 9h1v1h-1zM34 10h1v1h-1zM9 11h1v1h-1zM37 12h2v1h-2zM40 12h1v1h-1zM30 13h1v1h-1zM31 14h2v1h-2zM12 15h2v1h-2zM12 16h1v1h-1zM40 16h2v1h-2zM44 17h1v1h-1zM46 19h1v1h-1zM43 20h1v1h-1zM46 20h1v1h-1zM19 21h1v1h-1zM44 21h1v1h-1zM33 22h1v1h-1zM41 22h1v1h-1zM45 24h1v1h-1zM35 25h1v1h-1zM37 25h1v1h-1zM41 27h1v1h-1zM18 28h1v1h-1zM16 29h1v1h-1zM25 29h1v1h-1zM25 30h1v1h-1zM29 30h1v1h-1zM33 30h1v1h-1zM37 30h1v1h-1zM32 31h1v1h-1zM40 31h1v1h-1zM29 32h1v1h-1zM29 33h1v1h-1zM29 34h1v1h-1zM31 34h1v1h-1zM34 34h1v1h-1zM28 35h1v1h-1zM32 35h1v1h-1zM22 36h1v1h-1zM11 39h1v1h-1zM11 41h1v1h-1zM24 41h1v1h-1zM11 42h1v1h-1zM25 42h1v1h-1zM21 45h1v1h-1zM19 46h1v1h-1z"/>
<path fill="#ffff0c" d="M38 10h1v1h-1zM19 11h1v1h-1zM32 11h1v1h-1zM19 12h1v1h-1zM19 13h1v1h-1zM18 14h1v1h-1zM14 15h1v1h-1zM42 16h1v1h-1zM46 18h1v1h-1zM42 19h1v1h-1zM13 22h1v1h-1zM26 24h1v1h-1zM25 26h1v1h-1zM28 27h1v1h-1zM22 28h1v1h-1zM26 31h1v1h-1zM26 32h1v1h-1zM42 33h1v1h-1zM22 35h1v1h-1zM30 35h1v1h-1zM9 41h1v1h-1zM30 45h1v1h-1z"/>
<path fill="#df8625" d="M21 11h1v1h-1zM18 12h1v1h-1zM27 25h1v1h-1zM7 31h1v1h-1z"/>
<path fill="#26c44d" d="M29 11h1v1h-1zM31 11h1v1h-1zM34 11h1v1h-1zM36 11h1v1h-1zM38 11h2v1h-2zM29 13h1v1h-1zM33 13h1v1h-1zM30 15h1v1h-1zM33 15h1v1h-1zM40 15h1v1h-1zM14 16h1v1h-1zM29 16h1v1h-1zM38 17h1v1h-1zM40 17h1v1h-1zM29 18h1v1h-1zM39 18h1v1h-1zM7 19h1v1h-1zM47 19h1v1h-1zM45 20h1v1h-1zM37 21h1v1h-1zM41 23h1v1h-1zM27 26h1v1h-1zM39 26h1v1h-1zM27 28h3v1h-3zM36 28h1v1h-1zM37 29h2v1h-2zM22 30h2v1h-2zM39 30h1v1h-1zM21 31h1v1h-1zM35 35h1v1h-1zM25 41h1v1h-1zM13 42h1v1h-1z"/>
<path fill="#2ab468" d="M35 11h1v1h-1zM31 12h1v1h-1zM34 12h1v1h-1zM34 13h1v1h-1zM45 13h1v1h-1zM30 14h1v1h-1zM15 15h1v1h-1zM32 15h1v1h-1zM42 15h1v1h-1zM30 16h2v1h-2zM35 16h1v1h-1zM31 17h1v1h-1zM43 17h1v1h-1zM44 23h1v1h-1zM44 25h1v1h-1zM19 28h1v1h-1zM39 29h1v1h-1zM32 30h1v1h-1zM27 31h1v1h-1zM34 31h1v1h-1zM27 32h1v1h-1zM30 32h1v1h-1zM27 33h2v1h-2zM12 38h1v1h-1z"/>
<path fill="#eeb01a" d="M20 12h1v1h-1zM26 19h1v1h-1zM30 25h1v1h-1z"/>
<path fill="#e8961e" d="M21 12h1v1h-1zM29 17h1v1h-1zM26 27h1v1h-1zM17 29h1v1h-1zM8 31h1v1h-1zM43 33h1v1h-1zM30 46h1v1h-1z"/>
<path fill="#28a47a" d="M30 12h1v1h-1zM15 16h1v1h-1zM37 16h1v1h-1zM32 17h1v1h-1zM31 18h1v1h-1zM46 21h1v1h-1zM25 25h1v1h-1zM32 26h1v1h-1zM38 26h1v1h-1zM29 27h1v1h-1zM39 27h1v1h-1zM39 33h1v1h-1zM41 33h1v1h-1zM22 37h1v1h-1zM10 39h1v1h-1zM13 41h1v1h-1z"/>
<path fill="#f4ca15" d="M33 12h1v1h-1zM29 23h1v1h-1zM28 25h1v1h-1zM42 30h1v1h-1zM24 31h1v1h-1zM29 45h1v1h-1zM36 48h1v1h-1z"/>
<path fill="#207a88" d="M44 14h1v1h-1zM32 16h2v1h-2zM35 17h1v1h-1zM40 18h1v1h-1zM6 19h1v1h-1zM38 24h1v1h-1zM39 25h1v1h-1zM42 26h1v1h-1zM40 27h1v1h-1zM38 28h1v1h-1zM34 29h1v1h-1zM37 33h1v1h-1zM23 34h1v1h-1zM24 35h1v1h-1zM36 43h1v1h-1z"/>
<path fill="#1a5f84" d="M8 19h1v1h-1zM41 21h1v1h-1zM37 24h1v1h-1zM39 32h1v1h-1zM26 33h1v1h-1zM35 33h1v1h-1zM20 45h1v1h-1z"/>
<path fill="#154580" d="M32 29h1v1h-1zM31 31h1v1h-1zM26 34h1v1h-1z"/>
<path fill="#d6762c" d="M36 47h1v1h-1z"/>
<path fill="#ce6633" d="M37 47h1v1h-1z"/>
</g>
</g>
<g stroke-width="1" fill="none">
<line x1="304.5" y1="141.9" x2="304.5" y2="1286.9" stroke="#9a9a9a"/>
<line x1="619.0" y1="141.9" x2="619.0" y2="1286.9" stroke="#a8a8a8"/>
<line x1="933.5" y1="141.9" x2="933.5" y2="1286.9" stroke="#909090"/>
<line x1="1247.5" y1="141.9" x2="1247.5" y2="1286.9" stroke="#686868"/>
<line x1="304.0" y1="142.4" x2="1248.0" y2="142.4" stroke="#a0a0a0"/>
<line x1="304.0" y1="428.4" x2="1248.0" y2="428.4" stroke="#8c8c8c"/>
<line x1="304.0" y1="714.4" x2="1248.0" y2="714.4" stroke="#666666"/>
<line x1="304.0" y1="1000.4" x2="1248.0" y2="1000.4" stroke="#333333"/>
<line x1="304.0" y1="1286.4" x2="1248.0" y2="1286.4" stroke="#707070"/>
</g>
<text x="463.6" y="110.2" font-size="34.0" text-anchor="middle">Reference SCF</text>
<text x="790.6" y="84.2" font-size="33.6" text-anchor="middle">Predicted SCF</text>
<text x="790.6" y="125.8" font-size="33.9" text-anchor="middle">(ART-DL SCF model)</text>
<text x="1084.6" y="83.4" font-size="33.8" text-anchor="middle">SCF Product</text>
<text x="1084.0" y="123.5" font-size="34.0" text-anchor="middle">(SnowCCI)</text>
<text x="158.5" y="287.6" font-size="39.1" text-anchor="middle">North America</text>
<text x="158.7" y="334.7" font-size="33.8" text-anchor="middle">(024030_19971118)</text>
<text x="159.2" y="566.4" font-size="39.1" text-anchor="middle">Eurasia</text>
<text x="158.7" y="614.7" font-size="33.8" text-anchor="middle">(117031_19880310)</text>
<text x="159.0" y="853.7" font-size="39.5" text-anchor="middle">China</text>
<text x="158.7" y="904.5" font-size="33.8" text-anchor="middle">(132038_19931112)</text>
<text x="158.5" y="1154.9" font-size="39.5" text-anchor="middle">Siberia</text>
<text x="158.7" y="1194.0" font-size="33.9" text-anchor="middle">(142026_19880206)</text>
<rect x="639" y="1325.5" width="55.3" height="31.5" fill="#efefef"/>
<rect x="639" y="1356.5" width="55.3" height="1" fill="#dcdcdc"/>
<rect x="694.2" y="1326" width="364.6" height="34" fill="url(#cb)"/>
<line x1="694.6" y1="1359.5" x2="694.6" y2="1362.7" stroke="#1a1a3a" stroke-width="1"/>
<line x1="767.3" y1="1359.5" x2="767.3" y2="1362.7" stroke="#b8b8b8" stroke-width="1"/>
<line x1="840.3" y1="1359.5" x2="840.3" y2="1362.7" stroke="#b8b8b8" stroke-width="1"/>
<line x1="912.8" y1="1359.5" x2="912.8" y2="1362.7" stroke="#b8b8b8" stroke-width="1"/>
<line x1="985.8" y1="1359.5" x2="985.8" y2="1362.7" stroke="#b8b8b8" stroke-width="1"/>
<line x1="1058.5" y1="1359.5" x2="1058.5" y2="1362.7" stroke="#b8b8b8" stroke-width="1"/>
<text x="507.6" y="1380.4" font-size="47.0" text-anchor="middle">SCF</text>
<text x="626.0" y="1396.0" font-size="31.8" text-anchor="middle">255</text>
<text x="705.8" y="1401.8" font-size="35.0" text-anchor="middle">1</text>
<text x="765.1" y="1401.8" font-size="35.0" text-anchor="middle">0.8</text>
<text x="838.2" y="1401.8" font-size="35.0" text-anchor="middle">0.6</text>
<text x="911.2" y="1401.8" font-size="35.0" text-anchor="middle">0.4</text>
<text x="983.5" y="1401.8" font-size="35.0" text-anchor="middle">0.2</text>
<text x="1049.8" y="1401.8" font-size="35.0" text-anchor="middle">0</text>
</svg></body></html>
